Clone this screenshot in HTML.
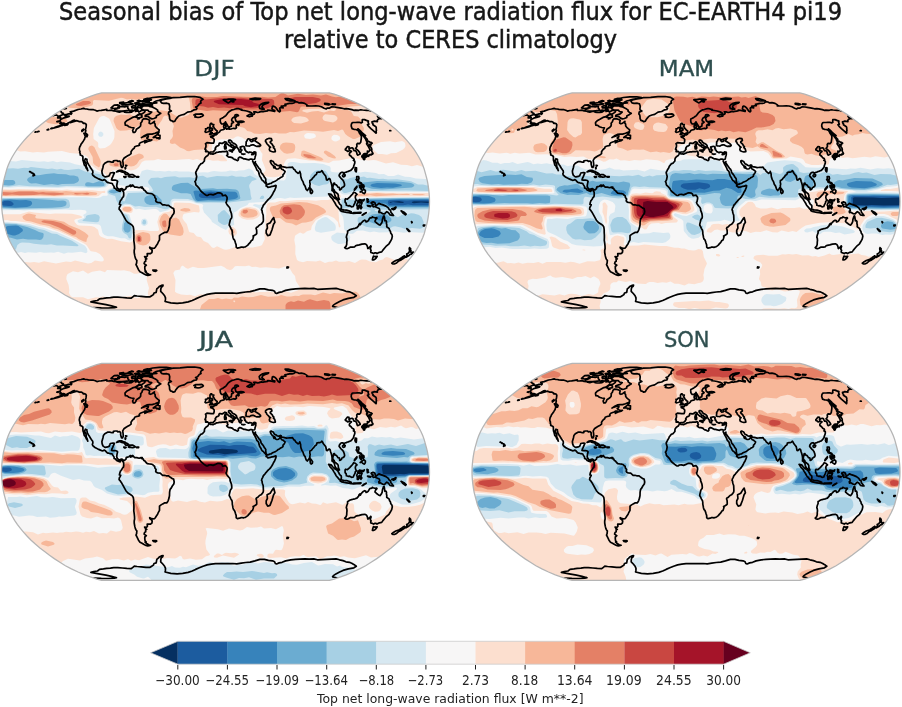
<!DOCTYPE html><html><head><meta charset="utf-8"><title>Seasonal bias of Top net long-wave radiation flux</title><style>html,body{margin:0;padding:0;background:#fff;width:902px;height:707px;overflow:hidden}svg{display:block}text{font-family:"DejaVu Sans","Liberation Sans",sans-serif}</style></head><body>
<svg width="902" height="707" viewBox="0 0 902 707">
<defs><path id="ol" d="M113.9 108.5 L118.7 107.2 L124.4 105.2 L130.7 102.9 L137.5 100.1 L144.1 97 L150.1 93.8 L155.6 90.4 L160.9 87 L166 83.4 L170.9 79.7 L175.6 76 L180.2 72.2 L184.4 68.3 L188.3 64.4 L191.8 60.5 L195.1 56.5 L198.2 52.5 L200.9 48.4 L203.3 44.4 L205.4 40.4 L207.2 36.3 L208.7 32.3 L209.8 28.3 L210.9 24.2 L211.9 20.2 L212.6 16.2 L213.2 12.1 L213.6 8.1 L213.9 4 L214 0 L213.9 -4 L213.6 -8.1 L213.2 -12.1 L212.6 -16.2 L211.9 -20.2 L210.9 -24.2 L209.8 -28.3 L208.7 -32.3 L207.2 -36.3 L205.4 -40.4 L203.3 -44.4 L200.9 -48.4 L198.2 -52.5 L195.1 -56.5 L191.8 -60.5 L188.3 -64.4 L184.4 -68.3 L180.2 -72.2 L175.6 -76 L170.9 -79.7 L166 -83.4 L160.9 -87 L155.6 -90.4 L150.1 -93.8 L144.1 -97 L137.5 -100.1 L130.7 -102.9 L124.4 -105.2 L118.7 -107.2 L113.9 -108.5 L-113.9 -108.5 L-118.7 -107.2 L-124.4 -105.2 L-130.7 -102.9 L-137.5 -100.1 L-144.1 -97 L-150.1 -93.8 L-155.6 -90.4 L-160.9 -87 L-166 -83.4 L-170.9 -79.7 L-175.6 -76 L-180.2 -72.2 L-184.4 -68.3 L-188.3 -64.4 L-191.8 -60.5 L-195.1 -56.5 L-198.2 -52.5 L-200.9 -48.4 L-203.3 -44.4 L-205.4 -40.4 L-207.2 -36.3 L-208.7 -32.3 L-209.8 -28.3 L-210.9 -24.2 L-211.9 -20.2 L-212.6 -16.2 L-213.2 -12.1 L-213.6 -8.1 L-213.9 -4 L-214 0 L-213.9 4 L-213.6 8.1 L-213.2 12.1 L-212.6 16.2 L-211.9 20.2 L-210.9 24.2 L-209.8 28.3 L-208.7 32.3 L-207.2 36.3 L-205.4 40.4 L-203.3 44.4 L-200.9 48.4 L-198.2 52.5 L-195.1 56.5 L-191.8 60.5 L-188.3 64.4 L-184.4 68.3 L-180.2 72.2 L-175.6 76 L-170.9 79.7 L-166 83.4 L-160.9 87 L-155.6 90.4 L-150.1 93.8 L-144.1 97 L-137.5 100.1 L-130.7 102.9 L-124.4 105.2 L-118.7 107.2 L-113.9 108.5 Z"/><path id="co" fill="none" stroke="#000" stroke-width="1.7" stroke-linejoin="round" stroke-linecap="round" d="M-150.8 -86.5 -148 -87.2 -145.3 -87.7 -144.4 -87.1 -143.7 -88.1 -144.5 -88.8 -145.3 -89.6 -141.9 -90.3 -137.5 -91.9 -134.5 -92.4 -131.9 -93 -130.6 -92.6 -128.8 -92.4 -127 -92.1 -124.4 -91.8 -122 -91.7 -120.2 -91.1 -118.6 -90.3 -116.2 -90.9 -114.3 -91 -111.1 -91.6 -108.7 -92.1 -108.7 -91 -106.7 -90.9 -104 -91.3 -101.9 -90.5 -99.5 -90.3 -98.3 -89.7 -96.2 -89.3 -93.8 -90 -91.8 -90.2 -90.9 -89.3 -89 -88.9 -86.3 -89 -83.9 -89.3 -81.2 -91 -79 -93.5 -78.3 -92.4 -78.6 -91 -77.2 -90.1 -76.5 -89.3 -73.2 -91.3 -71.2 -91.1 -70.4 -90.5 -70.8 -89.3 -74 -87.2 -76.4 -87.5 -80.1 -84.8 -83 -84 -86.1 -82.2 -88.4 -81 -90.4 -79.1 -90.5 -78.1 -90.1 -76.2 -88.3 -76 -86.6 -74.7 -84.2 -73.9 -81.6 -73.6 -82.9 -70.9 -82.2 -69 -80.6 -69 -79.8 -70.3 -79.1 -72.2 -76.1 -74.1 -75 -75.4 -74.7 -77.3 -74.9 -78.2 -73.6 -79.7 -73 -81.6 -71.8 -82.8 -69.2 -82.5 -67.2 -81.9 -65.8 -81 -66.3 -79.1 -66.3 -78.1 -65.1 -77.6 -63.4 -78.2 -61.1 -80.1 -61.3 -78.5 -60.4 -77.3 -60.3 -75.4 -59.3 -74.1 -57.8 -72.8 -56.3 -71.6 -56.6 -69.9 -58.2 -69 -60.5 -68.1 -63.4 -67.3 -65.9 -67.3 -68.6 -67 -71.2 -65.7 -74 -63.8 -72 -64.8 -68.5 -65.9 -67.1 -65.5 -67.5 -64.2 -68.8 -63.5 -68.3 -62.8 -66.7 -61.8 -65.3 -61.4 -63.6 -61.5 -64.9 -60.7 -67.8 -59.9 -70.6 -58.6 -70.6 -59.5 -68.6 -60.9 -70.2 -60.9 -71.8 -59.9 -73.3 -59.4 -75.2 -58.7 -76.3 -57.4 -76 -56.2 -77.2 -55.8 -78.9 -55.4 -80.8 -54.7 -81.3 -53.1 -82.7 -52.2 -83.5 -51.1 -84.5 -49.7 -84.4 -47.8 -85.8 -46.7 -87.8 -45.6 -89.4 -44.7 -91.6 -43.1 -92.8 -41 -92.4 -38.2 -92.2 -35.7 -93 -33.9 -93.9 -34.1 -94.4 -35.3 -94.9 -37.3 -94.8 -39 -95.9 -40.4 -97.6 -40 -98.6 -40.9 -100.3 -40.9 -102.1 -40.6 -102.1 -39.3 -103.6 -39.2 -105.7 -39.8 -108 -39.7 -110.7 -38.1 -112.1 -36.3 -112.6 -33.9 -113.6 -30.3 -113.4 -28.3 -112.6 -26 -111.2 -25 -110.1 -24.5 -107.7 -25 -106.4 -25.6 -105.5 -27.6 -105.2 -28.4 -102.5 -28.9 -101.1 -28.5 -102.1 -26.2 -102.8 -24.5 -103.6 -22.9 -104 -21.4 -102.9 -21.3 -100.5 -21.4 -98.8 -20.9 -97.9 -20.1 -98.5 -17.5 -98.8 -15.2 -98.2 -13.5 -96.5 -11.8 -94.7 -12.5 -93.5 -12.9 -92.2 -11.7 -91 -11.6 -89.5 -12.8 -89.3 -14.3 -88.1 -14.8 -86.6 -15.2 -85 -16.4 -84.2 -16.2 -84.7 -14.8 -83 -15.6 -82.7 -16.4 -82.1 -15.5 -80.8 -14.3 -78.7 -14.3 -76.3 -13.7 -74.5 -14.3 -73.2 -14.4 -74 -13.5 -72.2 -12.8 -71.7 -11.4 -70.5 -10.8 -69.4 -9.4 -68.2 -8.3 -65.9 -7.9 -64.1 -7.7 -62.9 -7.4 -61.7 -6.1 -60.9 -5.7 -60.6 -4 -59.4 -2.4 -59.8 -0.7 -59.2 0.3 -57.7 1.1 -55.3 1.3 -52.9 3.4 -51.1 3.4 -49.3 3.9 -46.9 4 -45.1 5.4 -43.3 6.7 -41.9 7.1 -41.3 10.1 -41.7 12.1 -43.2 14.1 -44.3 16.2 -45.4 17.5 -45.9 20.2 -46 23.6 -46.5 26.2 -47.2 28.3 -47.7 29.6 -48.8 31 -51.1 31 -52.8 32 -54.4 33 -56 34.3 -56 36.3 -56 38.4 -57.1 40.4 -57.9 42.4 -59.3 44.4 -60.2 45.8 -61.1 46.8 -62.8 47 -64.6 46.4 -65.8 45.8 -65.7 46.6 -64.1 47.8 -63.3 49.1 -63.6 51.1 -65 52.2 -68.3 52.3 -68.1 54.5 -69.1 55.4 -70.9 55.1 -69.8 56.9 -68.7 57.5 -69.9 57.8 -69.8 59.8 -70.9 60.5 -71.4 62.2 -69.2 63.8 -70.7 65.1 -70.7 67 -70.4 69 -69.4 70 -70.4 70.3 -68.8 71.6 -66.8 72.8 -64.9 73.3 -66.4 73.7 -67.8 74 -69.5 73.5 -71.4 72.6 -73.5 71.3 -75.5 70.3 -77 68.3 -78.2 65.7 -79.5 63.1 -78.9 61.8 -78.8 60.5 -78.6 59.1 -79.6 57.8 -80.2 56.5 -80.7 54.5 -81.3 51.1 -81.3 49.1 -80.9 47.1 -81 44.4 -81.3 41.7 -81.7 39 -81.6 36.3 -81.6 33.6 -81.8 31 -81.8 28.3 -82.2 25.6 -83.2 24 -85.1 22.6 -87.6 21.1 -89.6 18.8 -91 16.2 -92.5 13.5 -94.2 10.5 -95.5 8.7 -96.4 7.8 -96.2 6.1 -95.4 4.7 -94.8 3.4 -96.1 3 -95.7 1.1 -95.1 -0.7 -94.5 -1.3 -93.7 -2.4 -93.3 -3.4 -92.1 -4.7 -91.8 -6.1 -91.8 -8.1 -91.9 -9.4 -92.7 -10.5 -93.1 -11.6 -94.2 -12 -94.8 -11 -95.3 -10 -96.6 -10.4 -97.8 -11 -98.9 -11.4 -100 -12.9 -101.4 -13.5 -101.4 -14.8 -102.7 -16.8 -103.2 -17.9 -105 -18.2 -106.7 -18.7 -107.8 -18.8 -108.9 -19.6 -110 -21 -111 -21.8 -112.3 -21.3 -113.5 -21.1 -115.1 -21.8 -116.8 -22.5 -118.5 -23.3 -120.1 -24.1 -121.7 -25.4 -122.7 -26.2 -123.2 -27.6 -122.6 -28.9 -122.8 -30.6 -123.6 -31.6 -124.5 -33 -125.4 -34.3 -126.1 -35.7 -127 -37 -127.4 -37.7 -128.2 -39 -128.5 -41 -128.6 -42.1 -130.1 -42.7 -130.8 -41 -130.5 -39.7 -129.8 -38.4 -129.3 -37 -129.3 -35 -128.3 -33 -127.8 -31 -127.7 -30.8 -128.4 -32.3 -129.1 -33 -129.6 -34.3 -130.3 -35.7 -131.2 -36.3 -131.5 -37.7 -132 -39.7 -132.5 -41 -132.6 -42.4 -132.6 -43.9 -132.6 -44.8 -133.2 -45.5 -133.9 -45.9 -135.3 -46.4 -135.2 -47.5 -135.8 -48.9 -135.5 -49.7 -135.8 -50.5 -136.1 -51.1 -136.2 -52.5 -135.9 -53.8 -135.8 -54.5 -134.9 -55.8 -134.5 -57.1 -133.5 -58.5 -132.1 -60.5 -130.9 -62.4 -130.6 -63.8 -130.1 -64.9 -128.5 -64.7 -127.9 -66.4 -128.7 -67.4 -130.1 -68.3 -130 -69.6 -129.7 -70.9 -130.1 -72.2 -129.6 -73.5 -129.4 -74.7 -129.2 -76.6 -130 -77.9 -131.1 -78.2 -132.3 -78 -132.9 -79.2 -133.9 -79.7 -136.2 -79.7 -137.5 -80.3 -138.5 -80.7 -140.3 -80.3 -142.1 -79.6 -143.6 -79.1 -145.2 -78.7 -143.2 -80.3 -140.8 -81.2 -142.5 -81 -144.8 -79.7 -146.8 -78.7 -148.3 -77.9 -150.8 -76.9 -153 -76 -154.9 -75.4 -157.3 -74.5 -159.4 -73.9 -161.3 -73.5 -163.8 -73 -161.5 -73.7 -159.1 -74.6 -156.2 -75.5 -153.5 -76.6 -150.9 -78.1 -152.2 -78.2 -154.2 -78.1 -155.6 -78 -154.5 -79.1 -155.4 -79.6 -155.9 -80.3 -155 -81.3 -155 -81.8 -152.9 -82.8 -151.4 -83.6 -149.3 -84 -146.9 -84.6 -146.2 -85.2 -148 -85.2 -150.3 -85.2 -150.5 -85.7 -150.8 -86.5M-55.3 -100.5 -53.6 -101.5 -49.1 -102.4 -45.6 -103 -42.9 -103.7 -35.4 -104.1 -28 -104.7 -20.9 -104.9 -15.6 -104.1 -14.4 -103.3 -12.5 -102.2 -14.3 -101 -15 -99.6 -14.5 -98.5 -16.3 -97.5 -16.9 -96.5 -18 -95.2 -19.9 -94.3 -18.5 -93.2 -19.2 -91.9 -21.4 -91.6 -24.3 -89.9 -28 -89.3 -31.3 -87 -34.1 -86.4 -36.7 -85.4 -38.1 -84 -39.6 -82.2 -40.6 -80.3 -42.3 -79.7 -43.4 -80.5 -45.1 -81 -45.9 -82.8 -46 -84.8 -46.3 -86.4 -47.1 -87.5 -46.8 -89.3 -44.1 -90.4 -45.8 -91.3 -46.1 -92.4 -45.9 -93.8 -45.8 -95.4 -46.5 -97.5 -48.7 -98.2 -52 -98 -54 -98.5 -54.7 -99.6 -55.3 -100.5M-54.8 -88 -56.9 -86.7 -59.2 -85.3 -59.2 -83.9 -61.6 -82.9 -63.6 -82.5 -65.5 -83.3 -67.3 -84.9 -70.4 -85.1 -70.2 -86.1 -65.8 -87.5 -63.8 -89.3 -66.5 -89.9 -67.7 -91.3 -71.9 -91.3 -73.5 -92.1 -74.7 -93.2 -72.3 -95.4 -69.3 -95.6 -65.3 -95.5 -63.2 -94.5 -61.2 -93.3 -59.3 -92.3 -57.8 -91.3 -58 -90.2 -56 -88.5 -54.8 -88M-58.7 -98.5 -61.7 -99.1 -59.3 -100.4 -56.7 -101 -53.2 -102 -48.8 -102.7 -44.3 -103.7 -49.2 -104.5 -56.2 -104.5 -62.7 -103.9 -66.8 -102.9 -65.7 -102 -70.8 -101.5 -69.7 -100.5 -68 -100.1 -66.2 -99.6 -68.8 -98.5 -65.1 -98.3 -61.2 -98.3 -58.7 -98.5M-64.1 -101.5 -69.3 -100.3 -72 -100.5 -71.6 -102 -68.1 -103 -65.4 -102.9 -64.1 -101.5M-64.5 -96.5 -69.3 -96.5 -73.6 -97 -73.3 -98 -69.6 -98.5 -64.1 -98.5 -63.1 -98 -63 -97.2 -64.5 -96.5M-86.8 -91 -90.6 -90.6 -93.5 -90.3 -97.7 -90.4 -100.9 -90.6 -100.6 -92.1 -97.3 -92.9 -97.7 -94.3 -93.6 -95.1 -90.8 -94.6 -87.7 -95.2 -87.7 -93.2 -86.6 -92.1 -86.8 -91M-96.1 -93.5 -101.5 -92.9 -104.5 -93.5 -101.3 -96.2 -97.5 -96.5 -96.1 -95.4 -96.1 -93.5M-82.6 -97.5 -86.7 -96.8 -91.1 -96.5 -93.6 -97 -91 -98.3 -86.4 -98.9 -83.6 -98 -82.6 -97.5M-80.4 -93.8 -83.6 -93.5 -83.9 -94.9 -81.7 -95.8 -79.5 -95.6 -80.4 -93.8M-75.3 -94 -77.9 -93.8 -77.7 -95.4 -74.7 -95.9 -73.3 -95.7 -75.3 -94M-77.1 -97.5 -80.1 -97.3 -80.8 -98.3 -77.1 -98.9 -75.8 -98.2 -77.1 -97.5M-73.6 -84.3 -77.4 -83.4 -79.6 -84.3 -77.3 -86.4 -75.1 -87 -73.6 -85.8 -73.6 -84.3M-83.2 -90.2 -85.5 -90 -85 -91.1 -83 -91.4 -83.2 -90.2M-20.1 -84.6 -20.2 -86.4 -21.6 -86.4 -19.6 -87.4 -16.5 -87.2 -14.2 -87.5 -13 -87 -12.2 -86 -13.2 -85.1 -15.5 -84.3 -17.4 -83.9 -19.2 -84.3 -20.7 -84.5 -20.1 -84.6M-5.9 -67 -3.6 -67.4 -1 -67.9 1.3 -68.5 1.7 -70.5 0.3 -71.3 -0.3 -72.2 -1.2 -73 -1.6 -74.2 -2.5 -75 -1.9 -76.2 -1.7 -76.8 -3.4 -76.9 -3.8 -78 -4.8 -78 -5.5 -77 -5.5 -75.4 -5.4 -74.1 -4.8 -73.2 -3.4 -73.3 -3 -72.2 -3 -71.3 -4.5 -71.3 -4.2 -70.7 -5 -69.2 -3.3 -68.9 -5.1 -68.3 -5.9 -67M-6.1 -69.9 -6.2 -71.6 -5.8 -73 -6.4 -73.7 -7.9 -73.7 -8.5 -72.8 -10 -72.5 -9.7 -71.4 -10.5 -69.6 -9.7 -69.1 -8.1 -69.4 -6.4 -69.9 -6.1 -69.9M7.8 -101.6 9.9 -100.1 12.9 -98.5 14.6 -99.6 15.9 -100.7 20 -101.8 17.6 -102.4 13.2 -102.2 11.1 -101.8 8.5 -101.8 7.8 -101.6M44.2 -93 43.7 -95.4 45.2 -97 47.2 -98.2 49.8 -98.9 53.2 -99.1 52 -98.1 49.1 -97.1 47.3 -96.2 46.4 -94.3 48.7 -92.3 46.7 -92.1 44.2 -93M70.8 -101.5 74.5 -100.4 79.5 -100.5 76.7 -101.5 72.6 -102.9 69.6 -102.7 70.8 -101.5M109.3 -97.2 112.9 -96.5 114.5 -97 112.3 -97.8 109.2 -98 109.3 -97.2M116.5 -97 119.6 -96.8 119.9 -97.3 116.6 -97.6 116.5 -97M-151.9 -92.7 -150.4 -92.6 -149.2 -93 -150 -93.3 -150.9 -93.2M-6.3 -48.4 -7 -49.3 -8.2 -50.1 -9.9 -49.8 -9.7 -51.8 -10.5 -52.2 -10.2 -53.1 -9.6 -54.5 -9.5 -56.5 -10 -57.8 -8.6 -58.7 -6.4 -58.6 -4.3 -58.3 -1.9 -58.3 -1.4 -59.8 -1.3 -61.8 -2.3 -63.1 -3.1 -63.8 -4.7 -64.3 -4.9 -65.1 -3.1 -65.5 -1.7 -65.3 -1.4 -66.5 0.2 -66.4 1.6 -67.3 1.6 -68.2 3.1 -68.7 4.1 -69.5 4.8 -70.8 6 -71.4 7.5 -71.7 8.7 -72.1 8.5 -73.5 8.1 -74.7 8.3 -76 9.7 -76.8 10.2 -76.2 10 -75.2 10.6 -74.7 9.7 -73.5 10.8 -72.7 11 -72.2 12.5 -72.8 14 -72.2 16 -72.6 18.4 -73.2 19.5 -72.7 21 -73.7 20.6 -75.4 20.9 -76.4 21.8 -76.9 22.9 -76.1 23.6 -76.6 23.4 -77.7 22.6 -78.1 22.5 -78.9 23.8 -79.1 26.7 -79.1 28.5 -79.6 27.5 -80 25.5 -80.3 23.7 -80.1 21.7 -79.6 20.2 -80.7 20.1 -81.6 19.6 -83.1 20.2 -84 21.7 -85.4 22.9 -85.8 22.4 -86.5 21 -86.7 19.7 -86.5 19.3 -85.5 18.7 -84.3 17.5 -83.7 16.7 -82.9 16.2 -81.8 16.2 -80.7 17.5 -80 18.1 -79.2 17.3 -78.5 16.1 -78.1 16 -76.6 15.7 -75 14.5 -74.9 14 -74 12.8 -74 12.5 -75.1 11.6 -76.6 10.9 -77.9 10.4 -78.7 10 -79.6 9.6 -78.6 7.7 -77.4 6.3 -77.4 5.4 -78.2 4.9 -79.2 4.7 -81 4.8 -82.4 6.3 -83.1 7.8 -84 9.1 -84.9 10.4 -85.8 11.4 -87.2 12.3 -88.5 13.5 -89.6 15.1 -90.6 16.7 -91.6 18.3 -91.9 19.9 -92.4 21.5 -92.8 23.2 -92.7 24.6 -92.3 26.4 -91.9 25.7 -91.3 28.4 -90.9 31.1 -90.4 34 -89.5 36.1 -88.6 36.6 -87.5 35.7 -87.1 34 -87 31.5 -85.5 33.8 -84.6 35.8 -85.3 36.8 -85.2 37.1 -86.8 38.7 -87.3 39.1 -88.1 38.2 -89.5 40.1 -89.5 42.1 -88.9 43.7 -89.3 46 -90 47.5 -89.6 48.6 -90 50.6 -90.3 51.9 -90.4 52.2 -91.3 54.6 -91 57 -90.4 59.1 -89.9 59.3 -90.8 57.2 -91.6 56.4 -92.7 56.7 -93.8 56.8 -94.9 57.7 -95.3 59.4 -94.6 60.8 -93.2 62.7 -90.4 64.2 -89.5 64.8 -90.4 64.2 -93.2 65.2 -94.1 67.7 -93.5 65.8 -95.4 67.8 -95.5 70.4 -95.7 69.5 -97.1 71.5 -97.5 74 -98.1 76.5 -98 78.4 -98.4 79.8 -99.8 81.9 -99.4 83.7 -98.5 85.9 -98.7 89.1 -98 91.5 -96.5 91.3 -95.6 93.1 -95.5 96.5 -95.4 100.3 -95.6 103 -95.4 106 -94.6 108.6 -93.2 110.8 -92.4 111.6 -93.2 114 -93.3 115.4 -94.1 115.9 -94.6 119.1 -94.4 121.3 -94.1 125.7 -93.3 128.5 -92.6 130.8 -92.7 132.7 -92.6 136.4 -91.8 138.2 -91.1 139.8 -91.2 143.3 -91.1 145.2 -91.6 147.1 -91.4 151.1 -91.1 153.6 -90.9 155.8 -90.3M-155.8 -90.3 -154.2 -89.6 -153.9 -88.7 -152.2 -88 -151.7 -87 -153.6 -86.4 -156.6 -85.2 -157.4 -84.9 -158.1 -85.8 -159 -86.4 -160.5 -86.3 -162.6 -85.8M162.6 -85.8 161.9 -85.3 162.8 -84 166.1 -82.8 164 -82.8 162.4 -81.9 161.8 -81 161.9 -79.7 158.8 -80.3 157.6 -79.7 156.5 -79.5 156.7 -78.5 157.6 -77.3 157.4 -76.6 160.4 -74.7 160.8 -73.5 160.7 -72.2 161 -71.2 160.6 -70.3 160.8 -69 160.5 -68.3 158.3 -70.3 155.4 -72.8 153.4 -74.7 152 -76.6 152.6 -77 153.3 -77.3 152.6 -79.1 152.9 -80.3 150.9 -81 149 -81.8 146.8 -81.7 146.7 -80.1 146.9 -79.1 145.7 -78.5 143.6 -79.1 141.8 -79 140 -78.9 137.6 -78.9 136.6 -78.5 135.9 -77.3 135.7 -75.4 136.6 -72.8 138.9 -71.9 140.4 -71.9 142.6 -70.9 143.4 -69.6 143.9 -68.3 145.3 -66.4 145.9 -65.1 145.8 -63.1 145.5 -61.1 145.2 -59.1 144 -57.7 142.1 -58.1 141.5 -57.3 141.2 -56.9 141.5 -55.1 141.3 -54.9 140.8 -53.8 140 -53.1 141.5 -51.8 143 -50.5 144.5 -48.4 144.7 -47.4 144 -47.1 143.1 -46.7 142.1 -46.3 141.6 -47.1 141.3 -48.4 140.8 -49.8 139.8 -50.7 138.7 -50.7 138 -51.8 137.5 -53.1 136.6 -53.5 135 -53.4 134.1 -52.5 133.6 -52.2 133.5 -53.1 133.5 -54.5 132 -54.9 131 -53.7 130.4 -52.7 129.8 -52.2 129.9 -51.5 131.2 -50.9 132.1 -50.1 133.1 -50.3 134 -50.9 136 -50.2 135.5 -49.5 134.4 -48.7 133.8 -47.4 133.9 -46.4 135.6 -45.1 136.7 -43.7 138.2 -42.8 138.7 -41.6 137.9 -41 139.3 -40.1 139.3 -38.4 138.8 -37 138.3 -35.7 138.1 -34.3 137.2 -33.1 136.3 -32 135.3 -31 134.2 -30.6 132.8 -30 132 -29.9 131 -29.3 129.3 -28.9 128.7 -28.3 128.6 -27.3 128 -28.3 127.6 -29.1 126.3 -29.1 125.2 -28.7 124.5 -27.7 123.8 -26.6 123.6 -25.6 124.4 -24.5 125.5 -23.1 126.9 -21.8 127.9 -20.5 128.8 -18.2 129.1 -16.2 128.6 -15.1 127.2 -14.1 126.4 -13.9 126.1 -12.8 125 -11.7 124.2 -11.6 124 -13.5 123.6 -14 122.4 -14.3 121.7 -15.5 121 -16.4 119.8 -17 119.1 -17.1 119 -18.2 118.1 -18 117.9 -16.8 117.3 -14.1 117.5 -12.5 118.8 -11.3 119.3 -9.4 120.2 -9.2 121.3 -8.3 122.3 -7.4 122.8 -6.1 122.8 -4.6 123.3 -3.4 123.9 -2 123 -1.7 121.8 -2.7 120.4 -3.9 119.7 -5.1 119.2 -6.7 118.9 -8.5 118.3 -9.2 117.2 -10.6 116.5 -11 116.6 -12.8 116.6 -14.1 116.3 -16.2 115.8 -18.2 115.1 -20.2 114.6 -22.2 113.7 -22.9 112.7 -22.2 112 -21.3 111 -21.5 110.6 -23.6 110.2 -25.3 109.3 -26.4 108.3 -27.6 107.5 -28.9 106.9 -30.1 106.3 -30.7 105.3 -29.6 104.2 -29.3 103 -29.3 101.3 -28.9 101.3 -28 100.8 -26.9 99.4 -26 98.4 -24.6 96.8 -22.9 96.5 -22.2 95.5 -21.4 94.4 -20.9 94.3 -18.8 94.7 -17.5 94.3 -15.5 94.5 -13.9 93.7 -13.9 93.4 -12.8 92.6 -12 91.8 -10.9 90.7 -12 90.2 -13.5 89.5 -15.5 88.3 -17.2 87.6 -19.5 86.4 -21.5 85.6 -23.6 85.2 -25.6 85.1 -27.6 84.6 -28.7 84.3 -30 83.9 -28.9 82.6 -28 80.2 -30.1 79.4 -31.6 78.3 -32.2 77.8 -33 77 -34.2 75.7 -34.1 74 -34.1 72.3 -33.9 71.1 -33.8 69.3 -34.2 67.9 -34.5 66.2 -34.7 65.7 -36.1 64.9 -36.5 63.9 -35.9 62.8 -35.8 61.6 -36.2 60.3 -37.1 59.1 -37.5 58.3 -38.8 57.4 -40.1 56.5 -40.4 55.7 -40.9 54.8 -40.4 54.9 -39.4 55.8 -37.7 56.7 -36.6 57.8 -35.7 58 -34.7 58.5 -33.6 58.9 -35 59.1 -35.1 59.7 -34.1 59.7 -33.1 60.8 -32.6 62 -32.4 63.1 -32.7 64.2 -33.9 64.7 -35.1 65 -35.4 65.1 -34.3 65.3 -33.4 66.3 -32.2 67.5 -31.8 68.3 -31 69.3 -30.3 69.6 -29.9 69.1 -28.8 68.4 -27.6 67.5 -26.8 67.5 -25.4 66.4 -24.5 65.6 -24.1 64.8 -23.7 64 -22.9 62.8 -22.5 61.4 -21.3 60.2 -20.5 58.9 -19.9 57.7 -19.4 56.6 -18.8 55.4 -17.9 54.3 -17.9 53.1 -17.2 51.9 -17 51.3 -17.1 51 -17.9 50.5 -19.5 50.2 -20.9 50.3 -22.2 49.6 -23.6 48.9 -24.2 48.2 -25.6 47.4 -26.8 46.4 -28 45.5 -29.2 45.3 -30.6 44.7 -31.9 43.5 -33 43 -33.9 42.1 -35.1 41.2 -36.3 40.4 -37.7 39.7 -38.1 39.9 -39.7 39.4 -38.8 39.3 -37.4 38.5 -38.1 37.2 -40.2M36.7 -42 38.1 -41.9 38.9 -42.1 39.2 -42.5 39.5 -43.7 39.6 -44.5 40 -45.6 40.3 -46.6 40.2 -47.8 40.4 -48.4 40.1 -49.4 39.5 -49.3 38.6 -49.5 37.9 -48.9 36.6 -48.6 35.6 -49.1 34.1 -49.4 33.1 -48.7 31.7 -49.5 30.6 -49.8 30.2 -51 29.2 -51.7 29.5 -52.5 28.8 -53.1 29.1 -54.3 28.6 -54.6 28.4 -54.9 27.3 -55 26.2 -54.9 25.2 -54.2 24.7 -54.5 24.8 -53.5 25.3 -52.5 25.3 -51.7 26.5 -51.4 25.7 -51 25.6 -50.3 25.4 -49.1 24.9 -49.1 24.1 -49.5 23.4 -50.9 23.6 -51.5 22.9 -52.2 22.2 -53.3 21.3 -54.5 21.1 -55.8 20.6 -56.5 20 -57.1 18.9 -57.8 17.6 -58.5 16.6 -59.1 16.1 -60.2 15.2 -60.9 14.5 -61.3 13.9 -61.4 13.1 -60.9 13.1 -59.8 13.6 -59.1 14.6 -58.5 15.1 -57.4 16.4 -56.3 17.5 -56.3 17.5 -55.7 18.8 -55 20.2 -54.1 20.1 -53.5 18.7 -54.5 18.1 -53.3 18.8 -52.5 18.3 -51.7 17.8 -51.1 17.4 -51 17.3 -51.8 17.8 -52.7 17.3 -53.7 17.1 -53.9 16.3 -54.2 15.6 -54.6 14.9 -55.4 13.7 -55.8 12.7 -56.7 12 -57.3 11.3 -57.8 11.1 -58.9 10.4 -59.3 9.4 -59.7 8.6 -59 7.9 -58.7 7.1 -58.1 5.9 -58.1 4.9 -58.3 3.8 -58.2 3.4 -57.1 3.5 -56.3 2.4 -55.5 1 -55.1 0.2 -53.9 -0.3 -53.1 0.1 -52.2 -0.7 -51.4 -0.9 -50.6 -1.7 -50.3 -2.3 -49.4 -3.9 -49.4 -4.9 -49.4 -5.8 -48.9 -6.3 -48.4M30.4 -55.9 30.7 -58.5 30.6 -59.5 31.5 -60.7 32.1 -62.1 32.7 -62.6 33.8 -62.4 35.5 -61.7 34.5 -61 35.8 -59.8 36.8 -59.9 37.8 -60.6 37 -62.1 38.5 -62.7 40.2 -63.2 41.2 -63.4 40.4 -62.2 40 -61.8 39.8 -61 39.4 -60.7 40 -60.1 40.8 -59.7 42.4 -58.7 43.7 -57.8 45 -56.5 45.2 -55.9 44.1 -55.1 43 -55.3 41.4 -55 40.3 -55.4 39.2 -55.9 38.2 -56.5 36.9 -56.5 35.8 -56.3 34.8 -55.8 34 -55.3 32.6 -55.4 31.6 -55.4 30.4 -55.9M50 -59.9 50.1 -61.3 51.7 -62.4 53.7 -63.1 55.9 -62.8 56.4 -60.9 54.8 -59.8 54.7 -59.1 56.8 -57.1 57.3 -55.8 58.4 -54.7 57.9 -53.8 59.2 -52.5 59.8 -50.5 59.8 -49.7 57.9 -49.4 56.1 -49.9 54.3 -50.6 53.8 -52.1 54.2 -53.1 54.2 -54.1 55.1 -54.2 54 -54.7 53 -56.1 51.6 -57.4 51.1 -58.1 50.9 -59.1 50 -59.9M37.2 -40.2 38.5 -37.3 39.2 -36.2 39.9 -34.9 40.9 -32.7 41.3 -31.6 42.7 -30.3 43.3 -28.9 43.5 -27.6 44.2 -25.3 45.2 -24 46 -22.2 46.8 -21 47.6 -20.6 48.5 -19.6 49.5 -18.6 50.4 -17.4 51.1 -16.6 50.6 -15.5 51.4 -15.1 52.4 -14 53.6 -14.3 55 -14.5 56.7 -15.1 58.3 -15.2 59.7 -16 60.6 -15.9 60.4 -14.1 60 -13.1 59.2 -11.2 58.3 -9.7 57.3 -7.7 56.4 -6.2 55.2 -4.3 54.1 -3 52.9 -2 51.7 -0.7 50.5 0.7 49.4 2.2 48.6 3 47.8 4 47.1 5.7 46.4 7 46 8.5 46.6 9.4 46.7 10.8 47.1 12.1 47.7 13.9 47.8 16.2 47.9 18.6 47.7 20.2 46.6 21.8 45.5 22.9 44 23.6 42.4 25.3 40.9 26.2 40.5 26.9 41.1 28.7 41.2 30.3 41.2 32.3 40.3 33.2 38.7 34.1 37.6 34.7 38 35.3 37.5 37 37 38.5 35.9 39 35.3 40.1 34.3 41.5 33.3 42.5 32.3 43.7 31 44.7 29.9 45.4 28.9 45.6 27.9 46 26.5 45.6 25.3 45.8 24.2 46.3 23 46.4 22.1 46.8 21.1 46.2 20.7 45.8 20.7 44.4 20.6 43.3 20 41.7 19.4 39.7 18.9 38.5 18.1 37.7 17.5 36.1 17.2 34.3 16.8 32.3 16.8 30.7 16.5 28.9 15.5 27.2 14.6 25.3 13.7 23.6 13.9 22.2 14.4 20.2 14.7 18.8 15.1 17.9 16.1 16.6 16.3 15.5 16.2 14.1 15.9 12.1 15.3 10.5 14.6 8.7 14.6 7.4 14 6.1 13.1 5.1 11.9 3.8 11.1 2.4 10.5 1.1 11.1 0 11.3 -1.3 11.6 -2.7 11.6 -4 10.9 -5.2 10.1 -6.2 8.9 -6.1 7.7 -5.8 7 -5.8 6.5 -7.4 5.3 -8.3 3.6 -8.6 2.4 -8.5 1.2 -8.1 0 -7.5 -1.2 -7 -2.4 -6.5 -3.3 -6.7 -4.7 -7 -6.5 -6.9 -7.7 -6.1 -8.9 -5.9 -10.1 -6.6 -11.3 -7.5 -12.5 -8.5 -13.6 -9.4 -14.8 -10.5 -15.6 -11.8 -16.2 -12.9 -17.4 -14.3 -18.3 -15.2 -19.1 -15.9 -19.7 -16.7 -19.8 -17.8 -20 -18.8 -20.6 -19.8 -20.1 -20.2 -19.4 -21.8 -19.2 -22.9 -18.8 -24.9 -19.2 -26.4 -19.6 -27.6 -19.8 -28.9 -18.9 -30.7 -18.3 -32 -17.2 -33.6 -16.7 -35.1 -15.7 -36.3 -14.8 -37.5 -13.2 -38.1 -12 -39.4 -11.1 -40.4 -11.1 -41.7 -10.8 -43.1 -9.6 -44.7 -7.8 -45.8 -7.1 -47.1 -6.6 -48.2 -5.9 -48.3 -5 -47.4 -3.4 -47.5 -2.5 -47.2 -1.1 -47.9 0 -48.3 1.1 -49.1 2.8 -49.3 3.9 -49.5 5.6 -49.5 7 -49.9 8.3 -49.8 9.5 -49.7 10.7 -50.2 11.4 -50.1 12.1 -49.1 11.8 -48.3 12.4 -47.4 12.1 -46.8 11.2 -46 11.8 -45.4 12.6 -44.7 13.6 -44.3 14.7 -44.3 15.8 -44 17.2 -43.5 17.6 -42.8 18.8 -42 20.2 -41.7 21.1 -41.2 22.2 -40.8 22.9 -41.7 22.7 -42.9 23.2 -43.7 24.3 -44.3 25.4 -44.1 26.3 -43.5 27.2 -43.1 28.4 -42.5 29.5 -42.5 31.3 -42.1 32.4 -41.7 33.6 -41.6 34.6 -42.3 35.8 -42.4 36.7 -42M58.2 16.2 59.4 20.9 58.1 22.9 56.5 28.3 54.5 33.5 52.2 34.3 50.7 31.6 50.7 28.9 51.9 26.6 51.6 22.9 54.7 21.3 56.6 18.2 58.2 16.2M94.9 -13.2 95.9 -11.8 97.1 -10.1 96.8 -8.7 95.6 -7.9 94.9 -8.7 94.6 -10.8 94.7 -12.5 94.9 -13.2M147.4 -45.6 148.9 -46.2 150 -46.3 150.9 -46.7 151.8 -46.4 152.1 -45.6 153.1 -45.1 153.5 -46 153.6 -46.7 154.4 -46.6 155.1 -46.6 155.8 -46.6 155.6 -47.2 155.9 -47.4 156.7 -47.1 157 -47.2 157.5 -48 156.6 -49.5 156.1 -50.9 155.8 -51.5 156.3 -51.8 156 -53.1 155.1 -54.5 153.9 -55.7 153.3 -55.4 152.8 -55.4 153 -54.5 153.8 -53.1 154.3 -51.8 154.3 -51.1 153.8 -50.6 153.5 -49.9 152.7 -49.5 152 -50.2 151.8 -50.3 152.1 -49.4 151.8 -48.4 151.5 -47.9 150.4 -47.9 149.3 -47.8 148.4 -47.6 147.6 -46.6 147.1 -46.2 147.4 -45.6M146.4 -44.7 146.4 -45.5 147.4 -45.6 148.4 -44.8 149.1 -43.7 149.3 -42.3 148.7 -41.7 148 -42.1 147.5 -43.7 146.8 -44 146.4 -44.7M149.5 -44.8 150.3 -44.1 151.4 -44.8 151.7 -45.5 151.2 -46 150 -46.2 149.4 -45.6 149.5 -44.8M152.2 -55.8 153.2 -56.2 153.6 -57 155.4 -56.5 155.8 -57.8 156.6 -58.2 155.6 -59.1 154.3 -59.3 151.6 -60.9 150.5 -61 151.7 -59.1 152.1 -58.2 151.1 -58.2 151.2 -57.3 152.2 -55.8M150.4 -61.8 151.8 -62.1 150 -63.8 148.6 -66 150.1 -65.7 146.2 -69 145.1 -70.3 143.5 -71.8 142.4 -72.6 143.1 -71.6 143.1 -70.9 144.8 -69 147.1 -66.4 149 -63.8 150.4 -61.8M139.9 -33.8 141 -33.6 141 -31.6 140.7 -29.6 139.9 -30.3 139.4 -31.6 139.7 -33.1 139.9 -33.8M127.1 -26 128.4 -27.1 129.7 -26.4 129.3 -25.2 128.3 -24.5 127.3 -24.9 127 -25.8 127.1 -26M141.2 -24.9 143.1 -24.9 143.5 -22.9 142.9 -21.5 143.1 -20.2 143.8 -18.8 144.3 -19.1 145.6 -18.6 146.4 -17.5 146.1 -17.1 145.1 -17.8 144.5 -18.2 143.6 -18.6 142.1 -19.2 141.9 -20.2 140.7 -21.9 141.4 -22.2 141.2 -24.9M144.7 -9.4 146.4 -10.4 146.9 -11.2 148.6 -12.1 149.9 -10.8 149.8 -9.2 148.9 -7.8 147.1 -8.6 145.8 -10.1 144.7 -9.4M146.7 -16.8 148.2 -16.4 148.6 -14.8 147.9 -13.5 147.1 -14.5 146.7 -16.8M144 -16 145.4 -15.5 144.9 -14.3 144.2 -14.1 144 -16M144.8 -14.1 145.7 -14.7 146.2 -13.5 145.7 -12.2 144.9 -13.2 144.8 -14.1M138.9 -11.3 140.3 -12.8 141.4 -14.1 141.4 -15.2 140.5 -14.1 139.1 -12.4 138.9 -11.3M113.1 -7.5 115.7 -7 117 -5.4 118.8 -3.4 120.6 -2.4 122.4 -0.7 123.4 1.1 124.2 2.7 125.7 4 125.9 5.4 125.6 7.8 124 7.8 122.3 5.7 120.6 3.8 119.5 1.6 118.3 -0.3 117.1 -2.4 115.8 -3.8 114.6 -5.1 113.1 -7.5M124.8 9.2 125.8 7.9 128.1 8.5 131.1 8.7 133.4 9.3 135.7 10.4 135.5 11.7 133.3 11.3 131 10.9 128.6 10.5 126.3 10 124.8 9.2M129.6 -2 130.1 -2.7 131.9 -2.2 134.2 -4.3 136 -6.2 137.1 -7.4 138.2 -9.2 139.6 -8.7 141.5 -7 140.1 -5.8 139.8 -4 140.3 -2 141.3 -1.3 139.7 0 139.6 1.3 138.4 3.4 137.8 5.1 136 5.4 134.2 4.3 132.5 4.4 130.9 3.9 130.7 2 129.6 0.7 129.6 -2M141.8 7.4 142.9 7.5 143 4.7 143.8 3.6 144.3 6.1 145.4 7.4 146.3 6.1 145.3 4.4 146.6 1.3 145.6 1.2 144.1 1.6 142.9 -0.7 143.8 -1.7 146.2 -1.2 148 -1.3 148.8 -2 148 -0.5 146.8 -0.4 144.4 -0.7 143.2 1.1 142.4 0 142.1 1.3 141.2 3.6 141.8 4.7 141.8 7.4M155.7 1.3 157.5 0.5 159.3 1.2 160.4 4.4 163.4 2 165.2 2.7 167.5 3.5 170.5 4.7 172.8 6.5 173.8 8.3 175 8.7 175.4 10.8 176.5 12.1 178 14.1 176.8 14.1 174.6 13.5 173 11.4 171.3 10.2 170 11.4 169.3 12.4 167 12.2 164.7 10.8 163.5 11.2 163.3 9.8 164.3 9 163.8 7.1 160.9 5.9 159.2 5.1 157.7 5.4 156.8 3.8 158 3.2 157.1 3 155.7 1.7 155.7 1.3M146.7 13.7 148.3 12.4 150.7 11.3 149.2 12.4 147.3 13.6 146.7 13.7M136.2 11.8 138 11.3 141 11.3 145.5 11 145.1 11.8 141 11.8 138 12.1 136.2 11.8M151.5 -2.6 152.7 -2 152.2 -0.7 153.1 0.4 151.9 0.8 151.5 -2.6M152.1 4.3 155.4 4.6 155 5.2 152.6 4.8 152.1 4.3M176.3 7.4 178.7 6.7 180.5 5.7 179.8 7.4 178 8.3 176.3 7.4M132.1 29.6 132.7 29.3 133.4 28.9 134.7 28.1 136.1 27.7 137.7 27.3 139.5 26.9 141.4 26.2 143.2 24.2 143.5 22.9 144.5 21.9 144.9 23.3 145.6 21.8 146.4 20.9 147.8 19.5 149.1 18.8 150.2 19.1 150.6 20.5 151.9 20.1 152.8 19.2 153.8 17.4 154.4 16.7 155.3 16.4 156.5 16.2 156.8 15.5 157.7 15.9 158.9 16.2 160 16.4 161.2 16.2 161.5 16.7 160.4 17.8 159.6 19.5 159.5 20.2 160.5 21 161.5 21.9 162.6 22.7 163.6 23.4 164.7 23.7 165.8 22.2 166.7 20.2 166.9 18.2 167.3 16.8 168 14.8 168.5 14.4 168.9 15.9 169.2 18.2 169.4 19.4 170.3 19.1 171 20.2 170.9 21.9 171.3 23.6 171.2 25.3 172.4 26.2 173.7 27.3 174.1 28.9 175 30.1 175.2 31.6 176.5 33.4 176.8 35 176.2 37.7 174.7 40.4 173.5 42.4 171.1 44.4 169.4 46.4 167.4 48.7 166.2 50.5 163.9 50.9 161.5 52.2 160.3 51.4 159.2 51.4 158.2 52.2 156.9 51.5 155.4 51.1 155.2 50.1 155.6 48.9 154.8 47.9 155.1 46.4 155.6 45.1 155.3 44.4 154.2 45.8 152.4 47.1 152.2 46.8 152.1 45.8 151.5 44.1 150.8 43.1 149.3 42.4 146.4 42.7 143.8 43.5 141.3 44 140.1 44.4 139 45.6 137.3 45.8 135.1 45.6 132.9 46.8 131.6 47.2 130.1 47 129.2 46.2 130.5 45 131.2 43.1 131.3 40.4 131.5 39 131.3 37 130.8 35.7 131.3 33.6 132.1 31.6 132.1 29.6M158 54.7 159.6 55.3 161.7 55 160.8 56.5 159.5 57.8 158 58.5 156.9 58.6 157.2 56.9 158 54.7M194 46.3 195.2 47.4 194.4 49.5 195.5 49.1 195 50.5 195.8 51.1 197.8 50.7 195.8 52.7 194.6 52.9 193.5 54.1 190.5 55.9 190 55.5 191.8 54.1 191.4 53.5 191.2 52.7 192.7 51.8 193.8 50.5 194.1 49.1 193.7 47.5 194 46.3M188.7 54.5 189.7 55.5 188.1 56.9 185.7 58.5 183.3 59.5 181.1 61.5 178.8 62.6 177.6 62.6 176.3 61.8 177.4 60.9 180.3 59.1 183.8 57.8 186.1 56.2 187.7 55 188.7 54.5M-98.9 -29.5 -97.6 -30.6 -95.8 -31.1 -94.1 -31.1 -92.4 -30.3 -90.7 -29.9 -89.7 -29.2 -88.2 -28.4 -86.6 -27.3 -88.2 -26.8 -89.9 -26.8 -90.6 -27.9 -91.4 -28.9 -93.7 -29.5 -94.8 -30 -95.9 -30.4 -97.1 -29.9 -98.9 -29.5M-87.1 -24.9 -85 -26.8 -82.9 -26.8 -81.3 -26 -80.1 -25 -81.4 -24.6 -83.2 -24.2 -84.3 -24.5 -86.1 -24.5 -87.1 -24.9M-91.7 -24.8 -89.4 -24.5 -90 -24.1 -91.2 -24.1 -91.7 -24.8M-78.7 -24.9 -76.8 -24.8 -77 -24.2 -78.7 -24.2 -78.7 -24.9M-89.8 -36.1 -88.7 -35.8 -89.4 -35.3 -89.8 -36.1M-90.4 -33.9 -90.2 -32.6 -89.8 -33.4 -90.4 -33.9M-62.2 -63.9 -58.4 -66.8 -56.6 -69 -57.1 -69.1 -57.5 -66.4 -55.5 -66.1 -55.6 -63.8 -55.6 -62.7 -56.6 -62.6 -56.9 -63.6 -58.5 -63 -58.9 -63.9 -62.2 -63.9M-131.6 -68.1 -131 -67 -130.5 -65.6 -128.8 -64.8 -128.6 -66.1 -129.2 -67.4 -131.6 -68.1M-132.1 -72.2 -131.7 -71.6 -133.5 -69.9 -133.7 -70.9 -132.1 -72.2M-150.8 -76 -148.2 -76.6 -147.5 -77.3 -148.9 -77.3 -150.8 -76M-164.6 -72.7 -163.3 -73 -162.4 -73.3 -163.6 -73.3 -164.6 -72.7M-168.3 -71.6 -166.8 -71.8 -167 -72.2 -168.3 -71.6M-177.9 -69.6 -176.5 -70 -176.9 -70.1 -177.9 -69.6M-180.4 -69.2 -179.4 -69.5 -179.8 -69.6 -180.4 -69.2M174.3 -70.7 175.3 -70.7 174.6 -70.9 174.3 -70.7M-182.4 -25.6 -180.9 -26.2 -181.3 -27.2 -182 -27.2 -182.4 -25.6M-182.7 -28.1 -181.9 -27.9 -182.4 -27.7 -182.7 -28.1M-184.3 -29.1 -183.7 -28.9 -184.1 -28.5 -184.3 -29.1M-185.9 -29.7 -185.3 -29.9 -185.6 -29.5 -185.9 -29.7M9.2 -52.5 10.6 -52.6 10.7 -54.5 10 -55.4 8.9 -55 9.2 -52.5M9.4 -55.7 10.2 -55.9 10.2 -57.7 9.3 -57 9.4 -55.7M13.7 -50.9 14.9 -51.4 17.2 -51.5 16.8 -49.4 15.9 -49.8 13.7 -50.9M26.3 -47.5 29.5 -47.4 27.5 -47.1 26.3 -47.5M36.2 -46.8 36.9 -47.6 38.7 -48 38 -47 36.2 -46.8M-62.7 68.7 -59.3 68.6 -58.8 69.2 -59.9 70 -62 69.6 -62.7 68.7M191.4 27.2 192.9 28.3 194.3 29.9 193.5 30 191.5 27.7 191.4 27.2M207.9 23.6 209.4 23.7 208.7 24.6 207.8 24.4 207.9 23.6M196 20.2 196.7 20.9 196.3 21.5 196 20.2M185.6 9.4 188.5 10.8 190.6 12.8 189.9 13.5 187.2 11.4 185.6 9.4M15.2 -100.4 17.4 -99.4 18.4 -99.7 16.2 -100.7 15.2 -100.4M34.4 -102.4 37.1 -101.8 44.2 -102.1 45.2 -102.7 39.6 -103.3 34.4 -102.4M-121.9 106.1 -114.2 106.5 -107.2 106.6 -101.2 106.3 -99 105.8 -104 104.5 -109.5 103.3 -116.7 102 -124.6 100.4 -121.6 99.6 -118 99.1 -116 97.5 -112.1 97 -108.8 96.5 -105.1 96.2 -101.8 95.7 -97.7 95.7 -93.1 96.1 -88.7 96.5 -84.3 96.8 -82.6 95.4 -81.2 94.3 -78.4 94.6 -74.1 94.9 -69.5 95.4 -65.4 95.4 -63.8 94.3 -62.1 93.2 -61.5 91.6 -59.3 91 -59 89.3 -58.7 87.5 -57.5 86.4 -56.3 85.2 -54.1 84 -52.4 83.7 -52.8 84.9 -54.2 85.8 -54.7 87.5 -54.8 89.9 -52.7 92.1 -50.9 94.3 -50 96.5 -50.1 98.5 -50.4 100.1 -44.7 101.5 -38.4 102 -32.8 101.5 -27.3 100.5 -23.3 99.1 -19.9 97.5 -16.2 95.9 -12.4 94.3 -8.4 93 -4.2 92.3 0 91.8 4.3 91.8 8.5 91.6 12.8 91.8 17.1 91.6 21.3 91.9 25.7 91.3 30.2 90.6 34.7 90.2 39.4 89 44.4 87.5 48.9 87.5 52.9 88.4 57 88.9 59.1 89.9 59.8 91.6 61.1 92.1 63.6 91 66.6 90.4 70.1 89 75.3 87.9 80 87.5 84.6 87.3 89.4 87 93.6 87.2 98.3 87 101.9 87.9 106.5 87.7 111.2 87.4 115.9 87.2 120.6 87 124 87.9 127.5 88.7 130.4 89.9 134 90.4 136.7 91.6 137.9 92.4 139.3 93.2 140.8 94.3 138.4 95.9 132.9 97 127.5 98.5 124.1 100.1 120.4 102 117.9 103.7 117.1 104.9 120 105.6 121.9 106.1M71.6 65.5 73 65.7 72.4 66.5 71.4 66.5 71.6 65.5M-92.2 -98 -95.7 -97.8 -95.8 -98.9 -91.9 -99.4 -92.2 -98M-74.9 -96.6 -77.1 -96.8 -76 -97.4 -74.5 -97.3 -74.9 -96.6M-76.4 -100.1 -78.3 -100.4 -76.6 -101 -75.2 -100.6 -76.4 -100.1M-72.5 -100.1 -74.8 -100.1 -73.3 -100.6 -72.5 -100.1M-82.2 -100.3 -85.5 -100.1 -83.7 -100.8 -82.2 -100.3M-75.9 -82.9 -77.6 -82.4 -77 -83.4 -75.9 -82.9M-63.5 -94.6 -66.1 -95.1 -64.7 -95.7 -63 -95.3 -63.5 -94.6M-84.7 -99.6 -87.3 -99.4 -86.1 -100 -84.7 -99.6M-77.8 -90.4 -80 -89.9 -79.5 -91 -77.5 -91.3 -77.8 -90.4M-157.8 -83.6 -155.7 -83.5 -154.8 -84 -156.5 -84.2 -157.8 -83.6M-158.6 -79.7 -157.3 -79.6 -156.7 -80.3 -158.6 -79.7"/>
<clipPath id="c0"><use href="#ol" transform="translate(215.5 201.4)"/></clipPath>
<clipPath id="c1"><use href="#ol" transform="translate(686 201.4)"/></clipPath>
<clipPath id="c2"><use href="#ol" transform="translate(215.5 471.9)"/></clipPath>
<clipPath id="c3"><use href="#ol" transform="translate(686 471.9)"/></clipPath>
</defs>
<rect width="902" height="707" fill="#fff"/>
<text x="59" y="20" font-size="24.5" fill="#161616" stroke="#161616" stroke-width="0.5" textLength="783" lengthAdjust="spacingAndGlyphs">Seasonal bias of Top net long-wave radiation flux for EC-EARTH4 pi19</text>
<text x="284" y="47.9" font-size="24.5" fill="#161616" stroke="#161616" stroke-width="0.5" textLength="333" lengthAdjust="spacingAndGlyphs">relative to CERES climatology</text>
<text x="194.3" y="76.1" font-size="22" fill="#2f4f4f" stroke="#2f4f4f" stroke-width="0.35" textLength="40.3" lengthAdjust="spacingAndGlyphs">DJF</text>
<text x="658.8" y="76.1" font-size="22" fill="#2f4f4f" stroke="#2f4f4f" stroke-width="0.35" textLength="55.4" lengthAdjust="spacingAndGlyphs">MAM</text>
<text x="198.9" y="346.7" font-size="22" fill="#2f4f4f" stroke="#2f4f4f" stroke-width="0.35" textLength="34.1" lengthAdjust="spacingAndGlyphs">JJA</text>
<text x="663.9" y="346.7" font-size="22" fill="#2f4f4f" stroke="#2f4f4f" stroke-width="0.35" textLength="45.7" lengthAdjust="spacingAndGlyphs">SON</text>
<g clip-path="url(#c0)">
<use href="#ol" transform="translate(215.5 201.4)" fill="#f7f6f6"/>
<path fill="#d7e8f1" d="M99.4 131.9 101 131.4 103.2 132.9 103.4 134.9 102 136.7 100 136.8 98.7 135.9 98.1 133.9ZM21.8 159.9 39 161.7 44 161.2 48 161.9 53 161.1 57 162.2 61 161.5 70 162.6 75 164.3 91 167.3 96 170.9 101 172.8 103 174.2 108.4 179.9 109.5 182.9 108.5 184.9 106 187.2 97 188.2 67 187.3 58 187.9 18 187.1 9 187.7 0 186.9 0 161.8 5 159.9 10 161.1 16 161.5ZM290.7 161.9 294 161.9 301 163.2 315 162.9 323.3 163.9 330 166.5 330.7 167.9 330.6 170.9 332 172.1 337 172.5 345 171.5 356 171.1 360 172.5 365 171.7 376 173 379 174.2 384 174.1 388 176.1 394 175.9 398 174.6 405 176.7 410 177.1 416 178.6 431 179.4 431 192.1 365 191.5 354 192.3 350 194.3 345 194.7 342 193.9 339 191 337 189.9 332 191.7 329 195.6 327 196.4 294 198.1 290 197.6 285 198.8 281 198.1 277 198 272.6 199.9 263 202 249 202.8 247.5 204.9 240 208.3 237 211.1 234 212.4 233.4 213.9 234.2 224.9 229 226.4 226 230.1 221 227.7 212 221.9 211.2 219.9 204 212.4 202.5 207.9 203.3 204.9 201.6 203.9 196 203.3 192 201.6 188 200.8 174 200.7 172.2 201.9 171.7 206.9 170.5 208.9 168 210.3 160 212.3 158 209.9 156 209.1 153.4 208.9 145 209.9 139 208.8 136 209.3 135 209.1 131 205.6 129 205.1 125 205.1 121.3 206.9 120.6 207.9 120.5 209.9 123 212.5 128.3 213.9 129.5 214.9 133.3 226.9 132.7 237.9 132 239.4 130 240.5 128 240.1 125 238.3 121 238.2 113 236.3 108 236.2 104.4 234.9 102.5 232.9 100.8 225.9 99 224.6 78.8 222.9 77.3 220.9 78.2 219.9 83.8 217.9 84.4 216.9 83.1 214.9 86.4 212.9 86.3 210.9 85 210.3 80 209.7 71 210 66 209.6 49 210.3 30 209.9 24 210.5 19 210 0 210.2 0 197.6 86 197.3 97 198.1 100 197.4 103 195.8 107 195.8 107.9 194.9 106.8 191.9 107.6 189.9 110 188.4 115.8 186.9 115.9 185.9 114.9 184.9 115 183.4 116 181.2 118.1 178.9 120 178 124 178.2 127 176.8 131 178.2 138 177.3 139.6 175.9 141.8 170.9 147 169.5 156 171.3 160 171 165 171.5 169 170.7 172 171.4 176 171 179 171.5 189 171.4 195 172.8 204 172.2 208 172.6 211 171.5 214 171.1 221 171.8 226 171.5 230 170.4 236 171.2 239 170.5 244 170.3 249 168.4 252.2 169.9 253.2 170.9 254.4 173.9 257 175.7 265 178.2 272 179.5 275 180.9 279 180.2 284 180.4 285 179.8 286.1 177.9 286.3 172.9 287.6 167.9 287.6 163.9 288.1 162.9ZM116.1 185.9 116 186.9 120 188.4 122.8 190.9 123.1 191.9 122.5 194.9 123 195.5 124 195.5 125.9 191.9 127 191.1 145 190.8 149 190 149.4 188.9 148.8 187.9 147 187 142 186.8 136 185.7 132 185.7 128 186.3 119 185.1ZM343 197.9 359 198.4 370 197.6 431 196.9 431 231.1 422 232.7 408 232.1 404 232.8 393 231.2 388 232.2 379 232.5 374 231.5 370 232.2 363 230.4 357 230.8 353 233.7 350 233.7 345 230.4 344.1 228.9 343.7 220.9 343 216.9 340 212.5 340.2 199.9 341 198.6ZM252.6 204.9 255 204.1 259 204.7 263 204.4 264 205.9 263 210.5 262 211.4 258.5 207.9 253.8 205.9ZM322.3 217.9 325 217 327 217.3 334 223.1 335.4 224.9 335.8 226.9 335.7 228.9 335 230.6 321 232.7 316 231.4 315 230.1 314.8 227.9 316 223.4 318 220.5ZM142.4 218.9 145 218.4 146.1 218.9 147.5 220.9 147.6 223.9 145 226 143 225.8 141.1 223.9 141.1 220.9ZM262 220.9 263 222.9 262 224.8 261.1 222.9ZM0 222.2 7 222 29 224.1 39 227.1 44 228 53 231.2 57 232.1 72 238.7 85 245.7 87.1 248.9 87.4 251.9 86 253.3 81 251.8 72 252.8 68 252.6 64 253.8 58 251.7 54 252.8 51 252.4 44 252.7 40 252.1 36 252.7 28 252.2 25 252.9 21 252 18 252.7 14 252.3 7 252.8 0 251.5ZM337 232.5 344 233.2 349 234.6 350.3 236.9 349.7 239.9 347 242.7 341 244.1 338 243.9 334 242 331.8 239.9 331.1 236.9 332 235.5ZM429.7 246.9 431 246.7 431 249.2 429.1 247.9Z"/>
<path fill="#a7d0e4" d="M30.9 166.9 48 169.1 52 168.6 57 169.5 61 168.7 64 169.7 68 170 79 168.8 85 171.6 93 173.3 99 173.9 101 174.7 103 176.3 106.1 179.9 107.2 181.9 107.2 182.9 105 186.4 100 187.2 88 187.2 83 186.3 66 186.1 58 186.7 30 186.2 19 185.3 8 186.8 3 186.4 0 185.2 0 169.4 4 167.9 9 168.6 13 168.3 18 168.7 24 167.7 28 167.9ZM314.7 170.9 318 169.9 324 170.4 326 171.3 329.9 177.9 329 183.1 327 184.3 323 184.7 319 186 315 185.1 311.4 182.9 310 180.9 310 176.5 311 174.4ZM200 175.9 203 175.8 207 177.7 217 175.9 228 176.5 232 175.5 236 176.7 241 176.4 245 177.2 250 175.6 256.8 178.9 256 179.7 252 181 249.2 184.9 249.2 186.9 250.2 189.9 250.7 194.9 251.5 197.9 251.6 198.9 250.4 199.9 227 202.8 211 202.4 198 202.7 196 202.4 193 200.6 188 199 174 198.8 172 199.2 170.6 200.9 170 207.3 168 208.7 166 209.2 164 209.1 156 206.7 145 207.1 139 206 135 206.5 130 204.1 125 203.6 120 205.9 116.6 200.9 115.1 195.9 109 193.9 107.7 191.9 109 189.9 113 188.5 117 188.6 120.6 189.9 122 191.9 120.4 194.9 123 200.9 124 201.6 125 200.9 126.1 196.9 128 192.9 142 192.6 151 191.8 153 191 153 189.9 151.4 186.9 148.2 182.9 148.3 180.9 151 178.1 158 177.6 161 178.2 165 177.1 175 176.2 179 177.4 190 177.2 194 178ZM355.2 176.9 360 177.3 364 176.6 367 178 370 177.8 379 179 383 178.8 388 179.6 397 179.2 411 181.3 418 184.5 423 184.5 427 185.5 431 184.1 431 191.1 406 190.6 370 190.9 365 190.3 353 191.1 346 193 344 192.9 343 192.2 342.1 190.9 340 183.9 339.9 181.9 340.5 179.9 342 178.8 347 179.4 350 178ZM261.1 195.9 263 195.5 264 196.5 264.2 197.9 262.9 198.9 259.8 198.9 259.9 197.9ZM43 198 66 198.8 68.6 199.9 69.5 201.9 70.1 205.9 69 207.9 61 208.7 14 209.4 0 208.7 0 198.7 3 198.1ZM431 197.6 431 209.2 401 209.6 397 209.1 386 209.8 377 209.4 374.6 209.9 375.1 210.9 377 211.3 386 211.6 393.9 214.9 397 217.1 398 217.2 402 214.8 406 214.8 411 213.3 414 213.4 419 214.9 421.6 216.9 423.7 221.9 423.7 225.9 422.4 227.9 420 228.7 412 227.9 405 229.1 401 227.6 395 226.2 393 226.6 389 228.7 387 229 383 228.2 372 227.7 366 226.8 358.4 222.9 357.5 220.9 357.8 217.9 359 216.9 365 215.4 371 210.9 369.4 209.9 363 208.8 356 205.8 354 206 350 207.7 346 207.8 343 208.8 342 207.9 341.6 200.9 342 199.9 343 199.4 360 200.1 368 198.3ZM221.8 210.9 224 210.1 225 210.4 230 215.9 230 220.9 228.7 222.9 226 224.7 224 225 222 224.2 219 222.2 218 220.9 217.7 214.9ZM88 214.9 95 213.9 98.4 214.9 99.8 216.9 99.1 220.9 98 221.9 96 222.2 82.6 220.9 82.7 219.9 85.6 217.9 86 215.9ZM122.6 214.9 124 214 127.1 214.9 131.5 224.9 132.2 228.9 131.4 236.9 131 238 130 238.5 128.8 237.9 127.2 234.9 123.9 232.9 122.3 230.9 121.8 228.9 122.2 224.9 123.5 219.9ZM143.1 219.9 145 219.8 146 220.9 146.2 222.9 145 224.4 143 224.3 142.2 222.9ZM0 223.3 3 223 16 223.5 30 225.9 39 228.9 44.2 229.9 52 233.4 57 233.9 60 235.7 72 240.7 77 243.9 78.2 244.9 78.4 245.9 77 246.2 63 245.4 57 245.6 51 244.2 47 244.7 41 244.4 34 243.8 29 242.7 22 242.5 20 243.1 17.4 244.9 16 248.9 15.1 249.9 8 251 3 250.4 0.7 248.9 0.3 247.9Z"/>
<path fill="#6bacd1" d="M46.1 173.9 54 173.2 58 174 66 174.2 70 175.4 74 175.4 78 176.8 79.1 179.9 77.9 181.9 74 183.7 62 184 58 185 52 184.1 44 185 36 183.3 31 183.5 29 182.4 26.9 179.9 28 178 33 175.3 39 175.3ZM4.4 179.9 13 180 14.7 180.9 15.4 182.9 15 183.9 13 184.9 9 185.6 3 185 1.4 183.9 1 182.9 2 181.1ZM99 181.3 102 181.8 104 183.1 104.5 184.9 103.7 185.9 100 186.3 88 186.3 85.9 185.9 85 184.9 85.6 182.9 87 182.2 89 182.2 93 183.3ZM377 181 401 181.7 411 183.1 413.2 183.9 414.2 184.9 414.2 185.9 412 187.5 382 189.6 372 188.7 366 187 360 187 358 186.1 357.4 184.9 357.6 183.9 359 183ZM181 182.9 188 182.8 197.2 187.9 201 188.9 213 188.2 217 188.9 227 188.8 236 189.5 238 190.7 238.8 191.9 240.4 197.9 239.7 198.9 237.1 199.9 228 201.6 210 201.4 197 201.8 195.1 200.9 193.1 198.9 190.6 193.9 187 193.2 181 193.3 174 191.1 172.1 189.9 171.7 187.9 172.6 185.9 173.8 184.9ZM111.2 189.9 114 189.5 117.6 189.9 119.8 190.9 120.1 191.9 114 193.4 111 193.1 109 191.9 109.5 190.9ZM150.2 194.9 155 194.6 157 195.3 161.6 199.9 161.9 201.9 161.3 202.9 159 204.4 153 204.9 150 204.9 146.8 203.9 144.8 201.9 144.3 199.9 144.6 197.9 146 196.4ZM4 198.9 32 198.8 52 199.9 58 200.7 63 200.5 65.2 200.9 66.3 201.9 66.6 202.9 66.2 204.9 65 206 61.9 206.9 52 207.8 15 208.6 2 208 0 206.7 0 200.5 2 199.3ZM368.1 198.9 401 198.2 431 198.2 431 207.6 390 207.6 386 206.9 378 206.6 368 207.1 366 205.9 365.2 201.9 365.7 199.9ZM375.2 213.9 383 213.7 387 214.7 390.9 217.9 391.4 218.9 391.2 220.9 389 222.5 381 224.3 374 223.6 368 221.2 367.7 218.9 369.7 215.9 372 214.5ZM125.9 220.9 127 220.7 128.6 221.9 131 226.9 130.4 230.9 128 232.8 125 232 123.5 228.9 124 223.5ZM0.7 224.9 3 224.3 16 224.3 27 227 35 229.9 39 232 43 233 43.7 233.9 43.4 236.9 42 239.2 40 240 36 239.4 28 239.6 23 238.7 17 239.5 10 237.4 6 238.5 4 238.5 2 237.7 0 235.3 0 230.7 1 227.9 0.2 225.9Z"/>
<path fill="#3783bb" d="M395 183.4 401 184.4 401.7 184.9 401.6 185.9 393 187.7 387 187.4 381 188 373 186.9 370.6 185.9 370.6 184.9 372 184.1 377 183.1ZM193.7 190.9 196 190.4 202 191 210 190.2 225 191.5 235 191.7 237 193 238 196.8 237.1 197.9 235 199 225 200.6 208 200.1 198 200.9 196 199.9 195.5 198.9 193.5 191.9ZM399.8 198.9 431 199 431 206.4 390 206.5 388.1 205.9 386 203.7 385 203.4 378 203.3 373 204.5 368 203.8 367 201.9 367.1 200.9 369 199.9 381 200ZM3.8 199.9 10 199.6 20 200.3 26.2 199.9 31 201.1 32 202.5 32.1 203.9 30.3 205.9 27 207 15 207.7 4 207.1 2 206.5 0 204.2 0.5 201.9ZM377.4 215.9 380 215.3 384 215.6 386 216.9 386.2 217.9 385.8 218.9 384 220.2 381 220.7 378 220.2 376.2 218.9 376 217.9ZM7.7 225.9 16 225.4 18.4 225.9 22.6 228.9 22.9 230.9 19 234.1 15 235.4 13 235.5 6 233.5 3.7 231.9 3.5 229.9 5 227.3Z"/>
<path fill="#1c5c9f" d="M211 191.7 219.5 192.9 222.3 193.9 223 194.9 222.9 195.9 221 197.3 214 198.4 202 198 200 197.3 198.9 195.9 199 194.1 200 193.4ZM397.2 199.9 407 200.4 414 199.9 431 200 431 205.2 413 205.3 408 204.6 403 205.2 390 205.2 389 204.9 387.8 202.9 388 200.9 389 200.3ZM4.3 200.9 8 200.7 11 201.3 13.2 202.9 13.6 203.9 13.3 204.9 11.2 205.9 9 206.1 3 205.6 1.9 204.9 1.4 202.9 2.2 201.9Z"/>
<path fill="#053061" d="M389.6 201.9 399 201 404.1 201.9 403 202.9 400 203 393 202 390 202.9ZM411.6 201.9 414 201.3 431 201.5 431 203.2 421 202.6 414 203.2 412.5 202.9Z"/>
<path fill="#fcdfcf" d="M0 90.9 431 90.9 431 168 428 168.2 417 165.1 412 166.2 407 165.1 401 164.8 393 162.3 386 163.4 376 160.2 373 159.9 369 160.4 361 159.8 354 157.6 339 160.6 333 160.7 329 163.1 314 160.8 309 160.6 295 158.2 288 158.7 286 160 283.9 163.9 284 168.9 281.2 175.9 274 177.3 268.9 176.9 265 176.1 262.8 174.9 262.5 173.9 265.4 170.9 265.5 168.9 261.9 159.9 262.5 153.9 259.2 148.9 257 142.2 254 140.4 249 139.2 245 139.4 242 137.4 238 136.3 236 136.8 233 138.7 230 138.6 226 139.6 222 139.3 218.3 139.9 215 141.1 212.4 143.9 211.6 149.9 214 150.7 218 154.2 222.2 154.9 227 159.9 227 160.9 226 161.3 221 161.3 218 160.4 213 160.8 208 159.5 202 160.7 197 158.9 193 160 189 159.1 181 159.4 176 160.1 162 159.9 158 159 154 160.3 145 160.6 141.9 161.9 139 166.7 136 169.2 131 170.4 127 169.2 122 170.9 115 169.7 112 170.8 111.1 171.9 111.6 176.9 111 178.6 109 177.4 103 171.9 97.8 169.9 92 165.4 86.2 162.9 89 160.9 88.8 158.9 87.6 156.9 85 155.3 79 153.7 70 153 62 151.1 48 151.8 44 152.6 37 151.9 33 152.6 25 151.2 20 151.5 14 149 9 150.1 5 149.8 0 151ZM104 115.8 101 116.6 99.2 117.9 93.9 127.9 93.2 133.9 93.6 138.9 97.6 141.9 98.2 142.9 98.2 146.9 100 148.5 105 147.9 110 144.9 111.7 142.9 113.9 138.9 114.4 136.9 114.5 130.9 110 119.9 109 118.5ZM306 133.5 304.3 134.9 304.1 135.9 304.9 137.9 306 138.5 310 139 314 138.1 315.8 136.9 315.7 134.9 314 133.6 308 133.1ZM334 134.8 332.2 135.9 331.6 136.9 331.4 138.9 332 140 334 141.3 336 141.6 339.5 139.9 340.3 137.9 339.2 135.9 337 135ZM381 141.9 373.8 144.9 372.3 146.9 373 149.5 378 154.1 382 153.9 387 154.7 391 153.3 396 153.1 403 149.4 404.6 147.9 405.5 145.9 405 142.9 404 141.9 402 141.1 395 142.2 390 141.3ZM123 188.9 124 188.3 125.4 188.9 125.2 189.9 124 190.2ZM0 189.1 10 189.6 19 189 38 189.6 43 189.1 62 190 67 189.5 74 190.4 92 190.3 101 191.3 105 190.8 105.4 191.9 105 193 102 193.1 98.7 195.9 96 196.6 71 196.1 55 196.8 40 196.4 7 196.8 0 196.4ZM357.1 192.9 378 192.2 386 192.7 431 193 431 196.1 359 197.3 353 196.5 352 195.9 353.4 193.9ZM335.3 193.9 338 193.5 341.1 195.9 338.7 199.9 338.3 207.9 339.2 221.9 340.5 225.9 340 227.5 338.9 226.9 337.9 221.9 334 218.1 328 215.2 324 215.3 315.9 219.9 311.8 225.9 311 230 307 231.3 304 233.6 303 233.7 300 232.6 295.9 234.9 295 236.1 294.3 239.9 295.4 245.9 295.3 253.9 297 260.1 299 261.3 303 262.2 307 261.1 316 261.4 320 260.6 325 263.1 329 261.7 332 261.7 336 260.6 339 261.7 345 261.7 349 261 355 263 359.9 259.9 362 259.4 366 259.8 370 261.5 376 262.3 379 260.4 383 259.5 385 257.5 387 257 396 260.6 404 258.1 409 259.9 418 257.1 423 257.9 428 256.8 431 257.7 431 311.9 0 311.9 0 253.3 9 255.2 9.8 255.9 9.8 258.9 10.4 260.9 13 262.5 20 261.4 30 262.6 34 262.1 39 262.7 44 261.3 56 263.6 66 261.4 71 262 75 260.6 88 263.5 91.3 262.9 95 260.5 101 261.6 103 261.2 103.9 259.9 103.3 257.9 99.8 253.9 96 252 91 251.3 90 250.5 87 245.7 85 244.1 73.4 237.9 59 231.4 45 226.7 40 225.9 30 223 16 221 11 220.9 7 219.9 0 220.9 0 214.2 20 214.2 29 211.4 34 212.4 50 213.9 55 213.4 72 213.7 80 215.5 82.6 216.9 81.3 217.9 76 218.9 74.3 219.9 74.7 221.9 77 224.7 79 225.5 91 226 94.5 226.9 98 229.7 99.2 234.9 101 236.7 107 238.9 112 238.8 121 241.3 130 242.5 132 241.8 133.3 239.9 135 230.3 143 230.1 150 231 158 230.9 159 229.9 159 228.9 157.3 221.9 159 215.9 163 212.7 169 211.7 171 210.7 173.1 207.9 174 203.1 176 202.6 190.4 202.9 199 205.5 199.8 210.9 199 212.4 194 211.9 184 213.8 183 214.9 182.4 217.9 184 220.8 186.8 223.9 189 231.4 190 232.2 193.7 232.9 196 235.8 197 236.4 201 237.2 203.7 240.9 208.1 242.9 212 247.5 214 248 217 246.3 224 249.5 226 249.7 229 249.3 235 247 242 247.6 253 247.4 260 246.1 262 244.9 264.9 238.9 264.3 233.9 265.4 227.9 265.4 221.9 266.4 213.9 266.1 208.9 266.9 203.9 268 202.9 270 202.4 275 202.4 280 200.9 285 201.3 297 200 307 199.9 316 200.8 321.5 199.9 328 199.9 331 198.9 333.8 194.9ZM107 270 105 272.3 100 270.4 92 271.8 88 273.7 83 270.6 78 272.2 73 271.3 67.6 273.9 66.6 275.9 66.3 278.9 68.6 284.9 69.3 289.9 69 292.9 71 296.5 73 297.3 83 297.2 88 299.3 96 297.3 100 297.4 103 296.2 107 298.2 115 297.5 119 298.3 123 296.9 131 295.7 137 298.3 143 296.1 147 296.6 148.4 295.9 147.8 292.9 149 287.9 146.7 279.9 146.8 275.9 146.3 274.9 144 273.1 142 272.4 137 273.7 134 273.7 130 271.4 124 270.3 121 270.6ZM182 265.8 180.9 266.9 180 269.5 175 270.6 173.3 272.9 175.5 279.9 175 291.7 176.8 292.9 181 294.4 187 295.1 190 294.8 195 296.2 200 294.3 204 294.4 210 293.2 216 294.1 222 292 228 293.9 232 292.6 237 293 243 292.1 250 289.8 255 292.6 260 291.9 265 292.1 268 291.4 273 292.2 287 291.6 291 292.7 298 290.3 299.6 288.9 299.7 286.9 295.9 280.9 295 275.9 292.3 272.9 290 268.7 288 267 286 266.3 279 268.4 266 267.2 260 267.7 256 266.7 252 267 249 265.5 245 266.3 237 265.9 235 266.3 232 269.4 230 270 227 269.2 224 266.9 221 265.7 204 268.1 198 268 193 266.7 188 268.7 186 268 183 265.8ZM125 205.9 129 205.9 131.6 206.9 133 208.9 132.4 211.9 131 212.9 128 212.8 124 211.9 122.4 210.9 121.7 209.9 121.7 207.9 123 206.6ZM246 207.2 250 206.9 256 208.6 257.9 209.9 259.3 211.9 259.9 213.9 259.4 215.9 257 218.1 253 219.4 247 219.8 242 218.4 238.8 215.9 238.4 213.9 239.5 210.9 241.5 208.9ZM229.4 227.9 231 227 233 227.1 235.6 228.9 236.6 230.9 236.9 232.9 236.7 233.9 235 235.7 233 236.4 232 236.2 229.2 233.9 228.3 230.9Z"/>
<path fill="#f7b799" d="M0 90.9 431 90.9 431 97.2 428 97.1 423 95.7 417 96.6 411 95.7 405 97.8 400 96.7 392 97.2 387 96.2 382 97.4 376 96.7 373.8 97.9 373.2 102.9 372.3 104.9 370 106.2 367 106.4 362 105.8 351 106.5 340.7 108.9 342 110.1 346 109.6 350 110.8 351.5 111.9 353.8 115.9 358 116.6 360 118.4 360.8 119.9 361.9 124.9 363.9 127.9 363.8 129.9 360 136.7 355 138.9 353 138.9 348 136.3 345.3 133.9 343.1 129.9 342 129.6 338 130.9 334 130 323 131.8 318 131.2 304 130.6 294 132.2 290 132 286 133.6 279 133.6 275 132.7 271 133.5 266 132.9 260 133.9 254 133.6 251 131.7 247.2 130.9 245 128.4 243 127.5 238 126.6 234 127 227 126 223.6 126.9 217.4 131.9 214 137.7 209.5 141.9 208.6 145.9 207 148.5 205 149.3 194 150 189 151.3 187 151 183.9 148.9 180 147.5 175 143.6 172 144.1 169.9 142.9 170 140.3 172.1 137.9 173 135.9 172.5 130.9 173.9 125.9 171 118.9 167 116 165 115.6 163.2 116.9 162 119.9 157.7 125.9 158 129.9 159.9 135.9 159 140.1 157 141.5 146 139.8 143 140.8 141 139.9 139.9 135.9 140.7 126.9 140 125.4 139 125.5 133 129.3 126 130.6 120 130.8 118 129.8 116.3 127.9 113.5 120.9 114 117.9 116 116 121 114.4 126 115.1 130 114.2 135 117.5 139 120.8 140 121.1 140.7 118.9 140 113.9 141 112.1 145 112.6 149 111.1 154 111.7 161 110.3 169 111.5 178 117.2 180 117.7 182 117.5 188.6 114.9 190.8 111.9 190 102.9 189 98.1 188 97.2 178 97.4 174 98.3 166 98 153 99.4 148 98.4 136 99.7 131 99.1 127 99.5 123 98 121 97.8 109 100.8 94 100.1 93 100.9 93.1 103.9 92 105.6 81 108.4 69 107.7 67.7 106.9 67.4 105.9 68.4 103.9 68.1 102.9 67 102.7 58 105.5 55 104.5 51 104.2 45 105.2 39 107.6 33 106.8 28 108.6 24 107.4 14 109.1 10 108.9 3 110.3 0 109.8ZM296 116.7 293 117.8 291.2 119.9 292 121.6 294 123 301 123.4 307 121.7 308.5 120.9 308.8 119.9 307 117.9 305 117.1 300 116.2ZM309 108.9 303 109.7 302.2 110.9 303 111.6 307 112.7 312 111.5 318 111 324 112.6 330 110.5 334 111 336 109.9 335.5 108.9 334 108.6 330 109.5 324 108.6ZM325 114.3 323.1 115.9 322.4 117.9 323.3 119.9 325 121.1 333 122.5 336 121 337.5 118.9 337.2 116.9 335 115.2ZM51.5 116.9 60 117.5 63 117 66.2 118.9 67.5 120.9 66.8 121.9 62 123.8 55 124.3 48 123.1 45.1 120.9 44.9 119.9 46 118.6ZM282.9 142.9 286 142.4 292 142.9 294 143.8 294.9 144.9 295.3 146.9 294.9 149.9 294 151.9 292 153.1 287 153.7 284 153.1 280.8 149.9 279.7 147.9 280.5 144.9ZM90.2 145.9 92 145.6 94.3 146.9 100.4 159.9 100.8 161.9 100.1 165.9 99 167.6 95 165.3 93.1 162.9 92.6 156.9 88.2 148.9 88.9 146.9ZM301.7 150.9 304 150.6 319 156.4 322 157.9 323.6 159.9 321 160.7 318 160.5 309 159.3 303 157.3 301.2 155.9 300.8 154.9ZM324.4 150.9 326 150.4 330 152.6 334.8 155.9 336.1 157.9 335 158.4 333 158.2 328 156.5 324 153 323.8 151.9ZM139 153.5 141 153.9 143 155.1 143.9 156.9 143.3 157.9 139.4 159.9 136.9 163.9 134 166 131 166.6 124 164.9 122 166.3 116 167.2 111 166 109.5 164.9 109.3 163.9 110 162.4 114 160.5 119 160.1 124 161.9 128 157.7ZM3 190.5 43 190.6 62 191.4 66 191 73 191.7 87 191.6 96 192.4 97 192.9 97.3 193.9 96 195 88 195.6 77 195.6 71 194.8 54 196.1 40 195.6 6 196.1 2.7 195.9 0.4 194.9 0 194.4 0 191.2ZM376.6 192.9 386 193.8 393 193.6 399 194.2 407 193.8 408.9 193.9 410.3 194.9 397 195 376 196.3 370 195.3 366 195.9 359 196 358 195.9 357.3 194.9 359 193.9 366 193.3 370 193.7ZM413.5 193.9 422.6 193.9 425.5 194.9 420 195.3 411.9 194.9ZM299.1 201.9 307 202.5 318 205.2 324 208.8 325.9 210.9 326 211.9 325.1 212.9 316 217.5 312 220.9 306 222.4 302 222.7 296 225.4 292 223.5 286 222.5 280 218.1 274 218.3 272.8 216.9 269.8 209.9 269.9 207.9 271 206.4 276 205.4 281 203.6ZM124.9 206.9 130 207.1 131.2 207.9 131.7 209.9 131 211 129 211.8 127 211.8 124 210.9 122.9 209.9 122.7 208.9 123 207.9ZM184.6 207.9 189 208.4 190.6 209.9 190 210.9 189 211.3 186 211.7 181 211 179.9 209.9 181.3 208.9ZM243.1 208.9 247 208.3 255 209.7 257 211.3 257.8 213.9 256.3 215.9 253 217.2 248 217.8 244 217.2 241.6 215.9 240.4 213.9 241.1 210.9ZM26.3 213.9 29 213.5 36.1 214.9 35.2 216.9 35.7 217.9 37 218.5 54 219.8 64 221.8 69 224.9 79 228.9 85 232.5 87.9 234.9 88.5 235.9 86.9 238.9 86.3 241.9 84 241.5 78.5 238.9 76 237.1 72 236 58 229.2 53 227.9 49 225.9 40 224.2 31 221.5 26 220.8 23.3 218.9 22.4 216.9 22.8 215.9ZM163.4 213.9 165 213.5 166.7 213.9 171 219.1 176 217.5 179 219.6 183.1 227.9 183.7 231.9 182.7 234.9 180 235.9 170 234.4 165 232.4 163 230.8 160 224.9 159.3 220.9 161 216.5ZM230.6 228.9 232 228.5 234 229.7 234.8 231.9 234 233.6 233 233.3 230.7 230.9 230.2 229.9ZM139 232.9 143 232 148 233.1 149.6 233.9 150.3 235.9 150.4 239.9 148.8 242.9 146 244.9 143 245.4 139 244.4 136 242.2 135 239.9 135.3 235.9 136 234.4ZM355 291.5 357 292.2 359 294.2 360.4 296.9 360.6 299.9 359.6 303.9 360.3 306.9 360.1 311.9 228.3 311.9 227 311.4 226.3 311.9 200.1 311.9 200.1 308.9 201.5 304.9 209 298.9 214 299 218 297.9 222 299.2 226 298.5 231 299.3 232 299.2 234 297.6 238 297.8 242 296.6 248 297.3 253 296.9 261 295.1 268 296.8 278 296.2 281 295 287 296.6 291 296.6 295 295.8 299 296.1 301 294.9 303 294.4 311 294.5 315 295.2 323 292.4 330 294.1 334 292.9 342 293.5 346 292.7 351 292.6ZM234 300.3 233.2 300.9 233.7 301.9 235 302.3 235.2 300.9Z"/>
<path fill="#e48066" d="M281.5 92.9 283 92.8 288 95.6 298 93.7 306 95.1 313 94.4 321 95.5 326 94.5 332 96.6 336 97.2 344 95.9 352 97.8 357 97.4 367 97.8 369.5 98.9 370.3 100.9 369.7 102.9 368 103.8 362 102.9 357 104.1 349 104.1 338 105.8 327 105.2 308 106.8 302 106.4 300.7 106.9 299 110.9 298 112 297 112.2 290 111.1 281 111.8 251 110.4 234 110.5 230 111.1 213 110.2 207 111.1 194 109.1 193 107.7 191.7 100.9 192 98.7 194 97.4 196 96.9 202 96.5 207 97.2 217 96.9 223 96 257 97.4 262 96.7 268 97.4 275.4 96.9ZM83 101 89 101.1 90.7 101.9 91 102.9 89 104.3 81 106 78 105.7 75.9 104.9 76.2 103.9ZM303.8 153.9 310 154.7 316.7 157.9 314 158.4 308.1 157.9 304 155.9 303.4 154.9ZM113.9 163.9 115 163.2 117 163.2 118 163.6 118.6 164.9 117.9 165.9 115 166.1 113.6 164.9ZM2.7 191.9 12 192.4 19 191.5 33 191.6 39 192.4 43 191.9 46 192.4 54 192.5 63 193.3 64.3 193.9 63 194.5 54 195.2 40 194.3 34 195 20 195.2 12 194.6 6 195.2 3 194.9 2.2 192.9ZM75.2 192.9 82 193.4 87 192.7 88.5 192.9 89.7 193.9 87 194.7 82 194.1 77 194.5 73.7 193.9ZM294 204.3 300 204.9 302 206.5 304.6 209.9 305 211.9 304.2 214.9 301.6 217.9 298 220.2 293 219.2 287 219.3 285 218.5 280.3 213.9 279.6 210.9 281.5 206.9 284 205.3ZM243.5 209.9 247 209.7 247.9 210.9 247.9 211.9 246 213.6 244 213.5 243 213 242.4 211.9ZM41.5 220.9 44 220.3 53 221.1 61 222.9 75.9 230.9 76.3 232.9 75 234.6 73 234.8 59 227.5 50 224.1 43 222.5 41.8 221.9ZM162.7 220.9 165 220.2 166 221.1 166.6 225.9 165 227.5 163 226.4 162.3 224.9 162.2 221.9ZM137.1 235.9 138 235.3 140 235.3 141.5 236.9 141.6 240.9 140 242.3 138 242 136.8 240.9 136.4 237.9ZM307.4 299.9 310 299.3 317 301.2 324 300.1 329 300.9 330.2 302.9 330.9 311.9 285.5 311.9 285.5 304.9 286.9 302.9 288.6 301.9 291 301.3 294 302 298 300.5 304 301.7Z"/>
<path fill="#c94741" d="M295 96.9 312.8 96.9 319 98.2 320.3 98.9 320.8 99.9 320 101.2 316 103.1 307 104.3 300 103.3 295 103.5 290 101.8 289.3 100.9 289.6 98.9 291 97.9ZM220.1 97.9 241 97.8 257 99.5 262 98.8 272 99 274 100.4 274.3 103.9 273 106.1 267 108.4 260 107.8 253 108.5 245 108.1 240 108.7 234 107.5 230 108.2 224 107.5 218 107.9 213 107 208 107.7 204 106.6 197 105.8 196 105.3 195.3 103.9 195.6 99.9 197 99 202 98.8 206 99.5ZM284.4 206.9 288 206.5 291 207.9 292.2 210.9 291.1 212.9 289 214.2 287 214.6 284 213.3 282.9 211.9 282.4 209.9 283 208ZM137.9 236.9 139 236.5 140 236.9 140.5 238.9 140 241 138 240.9Z"/>
<path fill="#a51429" d="M222.8 98.9 241 98.9 249.7 99.9 252 100.8 253 102.3 254 102.7 259 103.9 259.4 104.9 258 106 251 107.2 245 106.2 243 104.9 219 104.2 213.8 101.9 213.9 100.9 215 100.4Z"/>
<use href="#co" transform="translate(215.5 201.4)"/>
</g>
<use href="#ol" transform="translate(215.5 201.4)" fill="none" stroke="#b5b5b5" stroke-width="1.3"/>
<g clip-path="url(#c1)">
<use href="#ol" transform="translate(686 201.4)" fill="#f7f6f6"/>
<path fill="#d7e8f1" d="M483.1 159.9 486.5 160.4 492.5 162.7 497.5 162.8 500.5 164 504.5 162.9 509.5 162.9 512.5 162 517.5 164 527.5 162.1 529.5 162.4 533.5 164.3 537.5 163.6 541.5 164 546.5 163.2 552.5 164.4 563.5 164.6 567.5 166.2 570.5 165.4 577.5 165.6 581.8 167.9 586.5 169.6 592.5 169.1 598.5 169.9 605.5 169.1 609.5 167.5 614.5 169.6 619.5 169.5 623.5 170.5 637.5 169.8 644.5 171.4 650.5 168.8 661.5 170.4 665.5 170.4 667.5 168.9 669.5 163.3 670.6 161.9 680.5 160.7 683.5 159.6 690.5 159.2 712.5 159.8 718.5 160.6 719.5 161 721.1 162.9 723.6 168.9 725.5 170.1 728.5 170.7 734.5 169.9 741.5 171 750.5 170 755.5 170.7 758.5 170.5 759.7 169.9 761.5 166.9 763.9 165.9 765.6 163.9 767.5 162.6 777.4 160.9 784.5 160.3 795.5 161 800.5 162.8 805.5 167.2 809.5 167.6 818.5 167.7 823.5 166.8 828.5 168.3 846.5 169.2 850.5 168.4 855.5 168.7 860.5 167.7 870.5 169.4 877.5 168.3 883.5 168.8 888.5 168.2 897.5 169.5 899.3 170.9 901.5 177.3 901.4 181.9 899.6 184.9 896.5 186 886.5 187 877.5 189.6 866.4 191.9 901.5 192.9 901.5 210.1 857.5 210.4 848.5 209.8 846.5 208.9 845.3 205.9 845.1 198.9 845.7 194.9 847.5 193.1 856.5 191.9 852.5 190.6 832.5 188.8 819.5 189.1 802.5 190.6 800.9 191.9 799.8 197.9 798.5 199.1 795.5 200.2 761.5 199.5 755.5 200.9 749.5 200.3 745.6 200.9 738.5 207 736.7 209.9 736.8 213.9 737.8 216.9 739.7 219.9 739.3 220.9 730.5 221.6 724.5 219.8 720.5 221.1 707.5 221.8 706.7 222.9 705.5 227.9 701.5 235.2 698.5 237.7 693.5 238.8 691.5 238.4 688.5 236.7 683.8 230.9 683.3 220.9 681.5 219.2 674.6 215.9 673.6 213.9 675.5 213.2 682.5 215.5 686.5 216 696.5 211.9 697.2 209.9 696.8 207.9 692.5 200.6 690.5 199.4 687.5 198.8 670 197.9 668.5 196.9 667.1 194.9 666.5 190.9 664.5 189.9 659.5 189.3 644.5 188.8 640.5 189.1 634.5 188.5 632.8 188.9 631.8 189.9 627.5 199.9 628.9 208.9 628.8 217.9 629.8 221.9 632.5 224.3 638.5 227.9 638.8 231.9 640.5 233.8 649.5 233.3 653.5 232 663.5 232.9 668.5 232.4 669.9 233.9 670.4 235.9 670.2 237.9 668.7 239.9 665.5 242.2 662.5 242.9 643.5 241.9 638.5 243 633.5 242.1 627.5 243.3 626.6 242.9 626.3 241.9 626.4 238.9 625.9 236.9 623.5 234.7 617.5 233.7 610.5 235.2 609.5 233.9 608.3 225.9 609.1 220.9 608.8 216.9 610.5 214.1 614.5 211.9 615.4 205.9 614.6 203.9 612.5 202.1 607.5 200 604.5 199.6 602.5 200.2 600.3 201.9 599 204.9 598.6 207.9 599.1 211.9 601.9 216.9 603.9 226.9 604.1 240.9 603.3 244.9 601.5 246.1 593.5 246.4 576.5 245.3 571.8 243.9 567.5 241.1 563.5 239.8 555.5 235.3 548 231.9 546.8 229.9 546.3 224.9 547 219.9 547.5 218.9 548.5 218.7 551.5 218.9 556.5 218.3 567.5 219.1 576.5 217.1 584.5 216.6 586 215.9 586.5 215.1 587.3 210.9 587.1 207.9 585.5 206.6 579.5 205.7 566.5 205.7 554.5 204.9 470.5 205.7 470.5 193 494.5 193.7 552.5 193.4 554.5 192.9 553.3 187.9 552.5 187.3 549.5 186.9 539.5 187 533.5 186.1 491.5 186.3 478.5 185.9 470.5 186.7 470.5 161 476.5 162.6 478.5 162.6 480.7 161.9ZM707.5 203.9 705.5 204.5 703.9 205.9 703.5 209.9 704.5 211.7 706.5 213 710.5 213.6 711.7 212.9 712.7 210.9 712.5 206.9 711.5 205 710.5 204.3ZM872.9 216.9 876.5 216 883.5 216 888.5 217.4 893.5 219.5 896.4 221.9 898.7 224.9 899.6 227.9 899.1 229.9 897.5 232 895.5 233.4 890.5 234.8 885.5 234.4 882.5 235.1 876.5 233.6 871.5 233.4 867.5 233.9 865.5 233.6 863.5 231.8 862.6 229.9 862.4 226.9 863 224.9 866.5 220.1ZM828.5 224.8 831.5 225.6 835.5 225.4 842.5 226.5 853.1 229.9 854.6 230.9 854.9 231.9 853.5 233.1 844.5 234.6 839.5 232.4 835.5 232.9 830.5 231.8 824.5 231.7 822.5 232.3 820.5 234 818.5 234.3 816.5 233.6 812.5 231 807.5 232.5 805.5 232.2 804.2 230.9 804.4 229.9 806.5 228.6 810.5 228.3 813.6 226.9 818.5 226.3 821.5 225.3ZM476.8 225.9 494.5 225 520.5 226.3 538.5 235.2 547.5 239 549.2 241.9 548.9 246.9 548.4 247.9 546.5 248.8 540.5 249.1 534.5 248.5 528.5 249.1 512.5 249 501.5 247.6 495.5 248 489.5 246.8 484.5 247.2 477.5 246.6 476.5 246.2 475.7 244.9 474.6 236.9 475.6 227.9ZM779.5 293.9 782.5 295.8 785.5 296.8 786.4 297.9 785.8 300.9 782 303.9 776 305.9 773.5 306.2 770.5 305.4 765.5 305.6 763.9 304.9 762.2 302.9 761.3 300.9 761.5 298.9 762.3 296.9 764.5 294.8 766.5 294 773.5 294.5Z"/>
<path fill="#a7d0e4" d="M786.4 164.9 791.5 164 793.5 164.2 798.3 167.9 799.6 171.9 803.5 173 809.5 172.6 818.5 174 824.5 172 829.5 173.3 832.5 174.7 837.5 174 842.5 175.1 849.5 174.5 854.5 172.7 858.5 172.1 862.5 172.9 866.5 172.4 874.5 175.1 880.5 174.1 890.5 174.2 897.5 176 898.6 177.9 899 181.9 897.5 183.9 890.5 184.9 887.5 184.8 878.5 188.3 866.5 190.3 855.5 190.3 841.2 188.9 830.5 187.1 823.5 187.5 818.5 187.2 808.5 189.2 800.5 188.4 799.1 188.9 798.2 189.9 798.1 195.9 797.5 196.9 795.5 197.6 768.5 197.8 759.5 196.8 754.5 199 752.5 199.3 745.5 198.9 740.5 197.5 739.5 198.7 738.8 202.9 735.5 206.4 733.5 207.7 728.5 208.4 715.5 208 714.5 207.4 712.5 203.9 709.5 202.4 706.5 202.5 702.5 203.9 701.3 202.9 701.1 200.9 701.6 197.9 700.5 196.9 689.5 198 670.5 197.1 668.5 194.9 667.9 189.9 665.5 188.3 660.5 187.4 649.5 187.2 644.5 186.6 639.5 186.9 635.5 186.4 633.5 186.5 631.5 187.6 628.5 195.2 626.5 197.2 618.5 198.5 602.5 196.5 592.5 197.7 585.5 196.8 584.5 197.2 583.5 198.9 583.5 203.1 583.1 203.9 581.5 204.4 554.5 203.8 547.5 204.4 470.5 204.8 470.5 193.9 494.5 194.4 545.5 194.1 556.5 195.5 558.8 194.9 555.3 190.9 555 185.9 553.5 185.3 545.5 184.6 539.5 185.4 533.5 184.6 527.5 185.4 503.5 185.7 490.5 185.5 481.5 184.9 477.5 184.1 470.5 184.4 470.5 168.1 473.5 170 481.5 172.3 490.5 170 495.5 171.5 497.5 171.4 500.5 170.1 503.5 169.8 515.5 171.5 521.5 170 525.5 171.3 535.5 170.7 546.5 173.5 552.5 173.2 556.5 174.6 560.5 174.6 564.5 175.8 571.5 176.5 577.5 176.5 583.5 175.4 594.5 176.9 599.5 175.9 605.5 177.1 609.5 175.8 619.5 176.2 628.5 175.5 632.5 175.9 638.5 174.7 643.5 177 649.5 175.4 652.5 176.4 656.5 175.3 665.5 174.9 669.5 172.2 673.5 170.6 678.5 170.7 683.5 169.9 690.5 170.2 694.5 171.1 698.5 170 705.5 171.1 713.5 170.5 721.5 171.1 728.5 172.3 734.5 171.9 742.5 172.5 751.5 172 757.5 172.8 760.5 175 762.5 173.2 772.5 171.9 779.5 174.1 781.5 173.6 782.5 172.7 783.4 170.9 783 167.9 783.5 166.9ZM847.5 193.9 854.5 193.3 873.5 193.2 901.5 193.7 901.5 209.3 877.5 209.6 848.5 209 846.7 207.9 846 204.9 846.2 195.9ZM694.6 214.9 697.5 214.6 699.5 215.6 702.5 218.9 702.5 221.8 695.5 219.4 691.7 216.9ZM614.6 217.9 617.5 217 622.5 217.1 626.5 219.6 630.8 225.9 631 229.9 630.3 231.9 629.1 232.9 627.5 233.3 621.5 232.2 613.5 232.4 612 231.9 611.4 230.9 610.2 224.9 612.5 219.6ZM876.2 217.9 881.5 217.7 889.5 219.4 893.5 220.9 897.5 224.9 898.4 226.9 898.2 228.9 897.5 230.1 895.5 231.3 889.5 232.2 881.5 231.3 875.5 228.1 870.5 228.5 865.8 227.9 865.4 226.9 865.6 224.9 867.4 221.9ZM577.4 218.9 582.5 219.1 590.5 218.3 595.5 219.1 600.2 222.9 601.4 224.9 601.9 227.9 600.9 231.9 595.5 237.6 591.5 239.8 584.5 240.2 580.5 239.2 575.5 239.5 572.5 238.6 567.5 233.5 566.3 229.9 566.3 226.9 567.5 224.7 570.5 223.5 575.5 219.6ZM686.8 222.9 687.5 222.4 689.5 222.7 698.5 226.4 700.5 226.5 702.5 225.6 703.3 225.9 701.5 231.4 699.5 233.2 694.6 234.9 691.5 234.4 688.5 231.8 686.7 228.9 686 224.9ZM481.9 226.9 494.5 226 519.1 227.9 526.5 231.3 529.5 233.7 534.1 234.9 537.5 237.1 546.5 240.9 547.1 241.9 546.9 243.9 545.5 245.5 540.5 246.3 534.5 245.7 530.5 246.4 524.5 245.6 518.5 246.3 510.5 246.3 505.5 245.5 495.5 245.8 490.5 245 478.5 244.2 477.5 243.3 476 238.9 475.8 233.9 478.2 227.9Z"/>
<path fill="#6bacd1" d="M789 169.9 791.5 169.2 793.5 170 796.9 173.9 797.8 175.9 797.5 177.6 796.5 179 790.5 181.9 787.5 181.6 785.5 180.8 783.6 176.9 784.5 174ZM672.2 173.9 675.5 172.9 682.5 173.7 689.5 173.1 694.5 174.3 700.5 173.4 707.5 174.5 712.5 173.7 722.5 174.1 734.5 173.5 746.5 174.3 752.5 173.9 756.2 174.9 757.6 176.9 758 179.9 757.4 186.9 755.3 189.9 755.1 191.9 755.8 194.9 754.5 197 751.3 197.9 748.5 197.3 744.5 195.2 738.5 195.5 737.4 196.9 736.8 201.9 734.5 204.8 732.5 205.7 725.5 205.9 722.7 204.9 720.9 202.9 719.6 197.9 721.1 193.9 719.5 193.3 714.5 192.9 704.5 194.7 692.5 195 688.5 196.6 679.5 196.7 671 195.9 670.2 194.9 670 190.9 668.9 184.9 670.5 176.1ZM506.5 174.4 515.5 175.1 521.5 174.3 526.8 176.9 532.5 177.7 533.1 179.9 531.5 182.4 527.5 183.9 521.5 183.7 516.5 184.4 503.5 184.7 498.5 184.1 491.5 184.4 482.5 183.2 479.9 181.9 478.3 178.9 479.5 177.5 484.5 176.1ZM807.5 174.9 809.5 175.1 811.3 175.9 812.7 176.9 814.1 178.9 813 185.9 810.5 187.4 806.5 187.4 805.4 186.9 804.2 184.9 803.9 181.9 804.5 177.9 805.5 175.9ZM854.5 178.1 872.5 178.5 881.5 182.5 882.8 183.9 882.5 184.9 877.5 187.3 864.5 189.4 854.5 189.2 841.6 187.9 835.5 186.3 833.8 184.9 833.7 183.9 834.5 182.2 837.5 180.4 839.5 180.1 842.5 180.6 846.5 179.4ZM592.5 180.7 596.5 181.7 604.5 181.2 618.5 182.4 623.5 181.5 629.5 182.8 630.3 184.9 627.5 194.9 625.5 195.8 620.5 196.6 611.5 196.1 601.5 193.1 592.5 195 589.5 194.7 586.5 193.1 578.5 195 570.5 194.7 567.5 195.1 560.5 193.3 556.4 189.9 557.3 187.9 559.5 186.6 564.5 185.2 567.5 185.4 576.5 183.8 578.5 184.5 581.5 187.2 584.5 187.5 586 186.9 587.5 182.3ZM767 188.9 769.5 188.6 775.5 189.8 779.5 191.8 780.3 193.9 779.7 194.9 778.5 195.5 773.5 195.5 770.5 196 763.5 195 761.2 193.9 760.8 192.9 761.7 190.9ZM470.5 194.9 486.5 194.6 502.5 195.8 508.5 194.9 547.5 195.4 549.7 195.9 550.3 196.9 550.1 201.9 549.5 203.1 545.5 203.5 539.5 203.1 532.5 203.7 527.5 203.3 504.5 203.1 484.5 204.3 470.5 204ZM847.5 194.9 849.5 194.2 873.5 194 901.5 194.5 901.5 208.4 879.5 208.8 848.5 208.2 847.5 207.6 847 205.9 846.9 196.9ZM587.3 220.9 593.5 221 595.5 221.9 597.5 224 598.8 225.9 599.1 227.9 598.4 229.9 596.5 232.1 594.5 233.3 589.5 233.6 588.1 232.9 584 228.9 583.3 226.9 584.5 223.4 585.5 221.8ZM884.6 221.9 887.5 221.2 892.5 222 896.5 225.6 896.9 227.9 895.5 229 890.5 229.8 882.5 228.6 881 226.9 881.1 224.9 882.5 223.1ZM483.7 227.9 493.5 227 501.5 228.4 505.5 228 511.5 230 515.5 230.3 519.5 233.9 519.9 236.9 519 238.9 517.5 240.5 509.5 243.3 497.5 243.7 491.5 242.8 486.5 242.9 482.5 242.3 478.5 239.9 477.3 237.9 476.9 234.9 477.5 232.8 479.5 229.9Z"/>
<path fill="#3783bb" d="M696.5 179.5 712.5 180.2 717.5 179.1 724.5 178.9 731.5 180.4 738.5 180.6 739.9 181.9 741.1 185.9 741.5 191.9 740.2 192.9 737.9 192.9 731.5 189 726.5 187.7 719.5 190.6 713.5 190.8 704.5 192.8 692.5 192.5 688.5 194.3 683.5 194 680.5 194.9 673.2 192.9 672.3 190.9 671.9 186.9 672.3 182.9 673.2 180.9 681.5 180 686.5 180.6ZM856.1 180.9 871.5 181.4 876.5 183.8 876.9 184.9 875.3 185.9 870.5 187.3 864.5 188.2 851.5 187.6 848.5 186.5 847 184.9 846.9 183.9 847.9 182.9ZM571.6 188.9 577.5 188.6 582.9 190.9 583.2 191.9 579.5 193 570.5 192.1 566.5 192.7 563 191.9 562.5 190.9 564.5 189.7 569.5 189.5ZM619 189.9 623.5 190.4 625.7 191.9 626.2 192.9 625.1 193.9 620.5 195.3 616.5 195.2 611.1 193.9 610.8 192.9 612.5 191.1 615.5 190.2ZM873.2 194.9 901.5 195.6 901.5 207.4 883.5 207.9 871.5 207.4 857.5 207.7 849.5 207.1 848.5 206.5 848.1 201.9 848.5 195.7 852.5 195 868.5 195.3ZM480.5 195.5 489.1 195.9 494.8 197.9 495.7 199.9 494.5 201.9 490.8 202.9 483.5 203.5 472.5 203 470.5 202.5 470.5 196.4ZM485 228.9 491.5 228.3 494.8 228.9 499.5 231.1 500.7 232.9 500.7 233.9 498.5 236.4 492.5 238.1 484.5 238 480.3 235.9 479.3 234.9 479.1 233.9 480.9 230.9Z"/>
<path fill="#1c5c9f" d="M698.5 182.2 707.5 183.6 709.5 184.6 710.2 185.9 710 186.9 708.6 187.9 704.5 189.6 699.5 188.3 695.5 189.7 687.5 189.7 683.5 188.6 681 186.9 680.6 185.9 681.5 184.4 683.5 183.5ZM473.2 196.9 475.5 196.7 480.5 197.5 481.7 198.9 481.7 199.9 481.2 200.9 479.2 201.9 475.5 202.2 472.5 201.8 470.5 200.7 470.5 198.3ZM851.4 196.9 853.5 196.1 895.5 196.2 901.5 196.7 901.5 206.3 883.5 206.8 853.5 206.1 851.7 204.9 851.1 197.9Z"/>
<path fill="#053061" d="M852.8 197.9 854.5 197.3 873.5 197.4 881.5 198.1 898.5 197.5 901.5 198 901.5 205.1 883.5 205.5 871.5 204.9 866.5 205.4 854.5 204.9 853.1 203.9Z"/>
<path fill="#fcdfcf" d="M470.5 90.9 901.5 90.9 901.5 164.2 896.5 161.6 893.5 157.2 890.5 156 884.5 157.6 875.5 156.3 870.5 157.6 864.5 156.7 852.5 158.2 847.5 157.2 842.5 158.1 838.5 156.4 829.8 158.9 828.9 163.9 827.5 164.8 823.5 164.2 818.5 165.1 811.5 165 805.5 163 803.5 159.8 801.5 158.4 790.5 156.5 786.5 158.5 773.5 159 771.5 157.9 768.1 152.9 763.5 150.9 750.5 151.6 747.5 150.5 743.5 150.4 741.9 148.9 739.4 143.9 736.5 142.5 729.5 143 720.5 142.2 710.5 142.5 703.5 144.5 700.5 143.9 699.5 144.3 698.9 144.9 700 145.9 702.5 145.7 706.5 146.4 712.5 147.9 713.9 148.9 714.1 150.9 712.6 154.9 711.5 156.1 709.5 156.7 703.5 156.2 697.8 156.9 687.5 155.2 686.2 153.9 685.8 150.9 687.1 149.9 690.9 148.9 692.2 146.9 692.7 144.9 691.5 143.9 689.5 143.5 684.8 143.9 680.5 145.7 678.5 147.4 676.8 155.9 675.5 157.9 666.7 159.9 665.4 160.9 664.5 163.1 663.5 163.1 659.9 160.9 657.5 160.2 646.5 159.3 640.5 160.5 634.5 160 629.5 161 624.5 160.3 620.5 160.4 616.5 158.6 613.5 159.6 609.5 159.2 605.5 161.4 603.5 161.7 598.5 159.6 588.2 158.9 583.5 156.5 576.5 157.1 570.5 156.6 564.5 157.1 555.5 155 551.5 155.2 547.5 154.2 535.5 154.5 529.5 152.8 519.5 153.6 514.5 152.7 510.5 153.7 506.5 152.8 499.5 153.4 492.5 152.4 488.5 152.9 483.5 152.4 479.5 153.3 475.5 152.3 470.5 153.8ZM533.5 187 544.5 188.7 550.5 188.8 551.5 189.1 552.5 190.9 551.9 191.9 550.5 192.1 502.5 193.1 477.5 192.7 470.5 191.3 470.5 189.7 473.5 189 477.5 187ZM901.3 186.9 901.5 191.7 891.5 190.9 880.5 190.9 881.3 189.9 885.5 189 890.5 189.1ZM831.7 189.9 845.5 190.7 847.1 190.9 848.3 191.9 846.5 192.6 844.7 194.9 843.9 197.9 843.8 203.9 844.9 207.9 846.4 209.9 851.5 211.8 869.5 211 874.5 211.8 884.5 211.6 896.5 210.6 901.5 211.3 901.5 226.3 896.5 219.5 890.9 216.9 888.5 215.2 884.5 214.1 875.5 213.9 873.5 214.2 868.5 216.4 864.5 219.4 860.8 224.9 859.5 230.1 858.5 230.1 853.5 227 844.5 223.2 828.5 222.2 819.5 222.7 805.5 225.5 801.5 227.9 796.5 232 792.5 231 788.5 232.1 781.5 230.6 777.5 232.5 772.5 232.3 766.5 230.3 760.5 231.9 755.5 231.8 750.5 232.9 746.5 231.2 741.5 230.7 736.5 232.5 732.5 232.4 725.5 230.6 720.5 230.5 717.5 229.4 714.5 230.1 711.5 232.5 710.5 232.8 707 231.9 706.8 230.9 707.6 228.9 710.4 226.9 711.4 224.9 713.4 223.9 718.5 223.7 722.5 224.8 726.5 224 730.5 224.4 735.5 223.8 739.5 224.2 743.5 223 744.3 221.9 744.2 220.9 739.6 214.9 739.3 210.9 741 207.9 747.9 201.9 750.5 201.7 752.5 202.1 754.6 203.9 756 206.9 760.5 208.5 766.5 208.5 771.5 207.6 777.5 209.2 782.5 208.1 794.5 208 799.5 207.2 803.5 208.8 811.5 208.4 813.2 206.9 813.9 201.9 813.6 199.9 811.5 198.7 803.5 197.5 802.7 194.9 803.5 193 815.5 191.4 819.5 190.3ZM653.6 191.9 656.5 191.2 660.5 191.7 661 192.9 665.5 195.1 668.5 197.9 670.5 198.8 686.5 199.7 689.5 200.5 691.4 201.9 692.6 203.9 694.3 207.9 694.5 210.1 692.5 211.9 686.5 214.3 682.5 214 675.5 212.1 673.5 212.4 672.5 213.5 672.5 215 673.7 216.9 677.6 219.9 677.9 220.9 676.5 222.6 665.5 223.1 661.5 224.1 658.5 223 651.5 223.4 649 224.9 646.5 229.3 644.5 229.6 640.8 226.9 632.5 222.7 630.7 220.9 630 215.9 630.1 209.9 629.3 199.9 629.6 196.9 630.5 194.9 632.5 193.8 636.5 193.3 640.5 193.7 645.5 192.5 651.5 193.3 653.6 192.9ZM603 202.9 604.5 202.3 605.5 202.7 607.6 205.9 606.7 216.9 607.1 220.9 606.5 223.8 605.5 223.3 604 215.9 602.4 211.9 602.8 206.9 602.5 203.9ZM524.5 205.7 533.5 206.2 554.5 205.7 579.5 206.8 582.8 207.9 583.7 208.9 584.3 212.9 583.3 214.9 580.5 215.7 566.5 216.8 555.5 216.5 546.5 216.9 545 218.9 544.1 223.9 545.8 233.9 544.5 234.8 538.2 232.9 523.5 225.3 521.5 224.7 493.5 224 475.5 224.3 474.5 225.1 473.9 226.9 472.9 242.9 473.9 248.9 476.8 254.9 476.6 259.9 477.5 261.7 478.5 262.3 488.5 262.9 497.5 262.7 503.5 261.3 507.5 263.2 510.5 263 514.5 263.6 518.5 262.4 522.5 263.7 527.5 262.7 533.5 263.1 538.5 261.9 542.5 263.8 546.5 262 560.5 262.1 565.5 262.8 570.5 261.8 574.5 262.2 579.5 263.8 587.5 261.3 594.5 261.6 599.5 260.2 600.5 259 601.3 253.9 600.5 249.9 604.1 247.9 606.5 243.2 607.5 242.5 608.5 244.2 610.5 244.5 611 243.9 610.7 239.9 611.7 237.9 614.5 235.9 617.5 235.5 623.5 237 624.5 238.9 623.6 243.9 623.8 244.9 625.5 245.7 638.5 245.5 644.5 244.6 659.5 246 666.5 246.1 674.5 247.7 678.5 247.7 681.5 248.5 684.5 248.5 688.5 249.9 693.5 250.6 695.5 250.3 698.5 248.9 701.5 249.4 702.8 250.9 703.8 256.9 706.8 262.9 706.8 263.9 704.5 268.9 703.4 274.9 703.9 277.9 703.6 279.9 702.5 281.7 700.5 282.8 698.5 283 694.5 284.3 688.5 283.6 684.5 285.5 678.5 283.7 674.5 283.7 670.5 281.5 666.5 282.7 662.5 282.2 657.5 282.9 653.5 281.9 649.5 282.1 647.5 282.7 646 283.9 644.5 284.1 637.5 283.5 630.5 281.1 625.5 282.1 618.5 280.5 616.5 282.3 613.5 282.3 611.5 283.2 610.3 284.9 610.4 287.9 609.7 289.9 607.5 291.7 603.5 293.5 602.3 294.9 600.5 298.9 600.6 301.9 599.6 305.9 600.2 308.9 599.4 311.9 470.5 311.9 470.5 208.1 473.5 208 475 206.9 477.5 206.3ZM548.5 275.9 545.5 277.5 536.5 279 532.5 278.8 528.4 279.9 527.4 281.9 528.6 285.9 527.7 290.9 528.5 292.8 535.5 296.4 542.5 294.3 554.5 295.5 559.5 294.2 564.5 295.4 568.5 294 571.5 293.8 576.5 294.3 581.5 296.1 588.5 294.1 593.5 294.9 597.4 292.9 598.2 291.9 598.5 288.2 600.4 283.9 600.1 281.9 598.5 279.1 594.5 276.6 593.5 276.5 590.5 278.2 585.5 276 581.5 277 577.5 277 572.5 278.9 562.5 277 555.5 277.7 552.5 276.9 550.5 275.5ZM901.5 229.5 901.5 236.2 899.5 235.8 898.6 234.9ZM606.5 230.9 607.7 237.9 607.5 241.6 606.5 240.2 606.2 237.9ZM549.4 236.9 551.5 236.5 555.5 237.7 560.5 241.7 567.5 244.8 570.4 247.9 568.5 249.1 559.5 249.5 553.5 247.6 552.1 245.9 550.8 239.9ZM897.1 239.9 901.5 240.2 901.5 247.9 900.5 244.9 897.5 243.3 896.3 241.9 896.1 240.9ZM582 249.9 583.5 249.4 585.7 249.9 584.5 250.6ZM716.2 253.9 718.5 254 720.1 254.9 720.1 255.9 718.5 256.4 716.5 255.9 715.9 254.9ZM829.5 253.5 831.5 254.7 833.5 255 840.5 254 842.5 253.1 844.5 254.6 845.5 254.7 858.5 253.6 861.5 255 865.5 255.4 868.5 256.7 877.5 255.1 881.5 255.5 886.5 255 889.5 253.1 893.5 254.9 898.5 254.4 901.5 253.1 901.5 311.9 759.1 311.9 762.2 308.9 763.5 308.4 770.5 308.2 778.5 308.7 784.5 308.2 788.5 309 791.5 308.1 794.5 308.3 796.5 307.7 797.5 305.9 796.9 299.9 799.8 291.9 799.7 290.9 798.5 290.2 795.5 289.7 785.5 291.4 783.5 291.3 776.5 289 772.5 290.4 770.5 290.3 768.5 289.8 765.5 287.4 762.5 286.8 761.5 285.9 760.8 281.9 758.9 278.9 760.2 273.9 759.8 269.9 761.7 266.9 762.3 264.9 760.5 262.4 756.5 260.8 753.8 258.9 753.4 257.9 754.5 256.1 756.5 255.3 763.5 254.8 768.5 255.8 777.5 255.8 782.5 254.3 785.5 254.5 788.5 254 792.5 254.5 796.5 254.1 802.5 255.5 808.5 255.3 812.5 256.4 815.5 255.9 818.5 256.9 824.5 255.4ZM742 255.9 743.5 255.4 744.6 255.9 743.2 256.9 741.1 256.9ZM737.1 256.9 738.6 256.9 738.6 257.9 736.3 257.9ZM694.4 300.9 699.5 301.2 708.5 300.4 715.5 302.1 719.5 301.9 727.5 303.4 728.5 304.2 729 305.9 727.6 307.9 725.5 308.4 715.5 307.6 708.5 309.6 699.5 309.1 694.5 308 689.5 309.3 684.5 308 678.7 307.9 674.5 306.5 673 304.9 673.5 302.9 674.5 302.3ZM740.1 311.9 740.5 311.5 741.7 311.9Z"/>
<path fill="#f7b799" d="M470.5 90.9 901.5 90.9 901.5 104 898.5 104.6 893.5 102.1 890.5 103.4 888.5 103.6 884.5 102.2 880.5 101.9 876.5 100.6 871.5 102.4 868.5 102.2 863.5 100.6 861.5 101.2 860.8 101.9 860.9 102.9 865.5 108.9 868.5 110.2 872.5 113.1 878.5 115.5 879.7 116.9 880 118.9 879.1 121.9 878.2 132.9 876.5 134.4 874.5 135 871.5 133.9 866.5 133.8 862.5 133 858.5 134.3 854.5 134.8 852.5 135.7 848.5 134 842.5 136.6 835.5 137.4 834.3 138.9 833.7 142.9 831.5 145.9 831 147.9 831.8 148.9 836.5 150.8 837.1 151.9 835.6 153.9 833.5 154.6 829.5 154.1 824.5 154.6 820.5 156.2 815.5 155.3 811.5 153.8 807.5 154.6 805.5 154 804.6 152.9 803.8 148.9 801.8 146.9 798.5 145.2 792.5 143.3 790 140.9 790.1 138.9 790.8 137.9 797.4 133.9 797.9 132.9 797.7 131.9 796.5 130.3 790.5 128.6 783.5 129.3 778.5 127.9 775.5 128.5 772.5 130.3 767.5 129.3 762.5 130.2 758.5 130.2 756.9 130.9 755.9 131.9 755.2 133.9 756.5 137.9 755.5 141.9 757.5 144.6 761.5 142.2 763.5 142.3 776.8 150.9 781.5 153.2 784.6 155.9 784.9 156.9 781.5 158 773.5 157.9 772.3 156.9 771.5 154.6 769.7 151.9 767.5 150.5 760.5 148.6 757.5 146.3 752.7 147.9 745.5 147.1 739.5 139.7 737.5 139 729.5 138.6 723.5 139.6 710.5 138.6 697.5 140.5 692.5 139.5 680.5 141.2 678.5 142 675.5 144.8 672.5 151.5 669.5 153.1 663.5 152 660.5 152.4 656.5 151.5 650.5 152.2 643.5 149.4 639.5 149.8 632.5 149.5 627.5 150.7 622.5 148.4 617.5 147.2 616.6 141.9 617.5 137.9 617.3 136.9 616.5 135.9 612.5 133.8 609.5 133 605.6 133.9 603.5 135.6 602.6 138.9 603.3 146.9 602.5 148 596.5 151 594.5 151.4 589.5 150.5 575.5 150.2 570.7 153.9 564.5 155.2 553.5 153.4 550.8 151.9 550 149.9 549.8 145.9 551.3 141.9 553.2 138.9 556.6 135.9 557.3 133.9 557 129.9 557.6 126.9 557.8 120.9 557 113.9 555.5 111.1 550.5 109.9 540.5 112.3 537.5 112.4 534.5 111.6 532.5 112.2 530.5 113.9 529.4 117.9 527.4 121.9 527.4 124.9 526.5 126.7 523.5 128.5 514.9 129.9 514.5 131.9 513.5 133 509.5 133.2 504.5 131.6 497.5 131.4 496.5 130.4 494.8 123.9 492.5 119.4 490.5 119.3 486.5 121.7 482.5 120.8 479.3 121.9 470.5 122.9ZM511.5 128.7 511.5 130.2 512.5 130.7 514 129.9 512.5 128.4ZM570.5 118.4 568.5 120.1 567.6 121.9 567.1 129.9 569.5 133.4 573.5 137 575.5 137.6 578.5 135.5 580.5 134.9 582 132.9 581.8 121.9 580.5 119.8 573.5 118.3ZM635.5 122.5 634.3 123.9 633.7 125.9 634.8 127.9 637.5 129.3 640.5 130.1 642.5 129.8 643.5 128.9 644.5 125.9 643.5 124.3 638.5 122ZM652.5 98.7 647.5 99.9 646.5 100.6 640.9 107.9 640.6 108.9 641 109.9 645.7 115.9 649.5 117.2 657.5 117.2 663.5 115.8 668 112.9 669.3 110.9 669.7 107.9 669.1 105.9 667.5 103.5 661.5 99.6ZM768.5 106.9 768.6 106.9 768.5 106.9ZM656.5 122.7 654.2 123.9 653 125.9 653.1 128.9 654.5 130.8 658.5 131.8 663.5 132.1 665.5 131.4 666.9 129.9 667.9 126.9 665.5 124 658.5 122.6ZM536.3 143.9 541.5 143 544.5 143.7 547.1 145.9 547.4 147.9 546.6 149.9 545.5 151.2 543.5 152 537.5 152.2 535.5 151.7 533.8 149.9 533.3 146.9 534.5 144.8ZM594.7 155.9 597.5 154.9 604.5 156.4 605.6 156.9 605.7 157.9 603.5 158.2 596.1 156.9ZM497.5 187.3 520.5 187.4 533.5 188.3 537.8 189.9 536.3 190.9 529.1 191.9 515.5 192.5 486.5 192.2 478.5 191.7 476.5 190.9 476.5 189.9 477.5 188.6ZM818.4 191.9 826.5 191.1 844.6 191.9 843.5 193.5 842.5 194 837.5 194.6 833.5 193.9 830.5 194.1 823.5 195.6 818.5 197.6 817.2 196.9 816.3 194.9 817.2 192.9ZM631.3 195.9 634.5 195.2 643.5 194.9 658.5 195.2 663.5 195.7 665.5 196.4 668.5 198.7 670.5 199.5 687.9 201.9 689.9 203.9 691.1 208.9 689.1 210.9 685.5 212.5 675.5 211.3 673.5 211.5 672.5 212.2 671.6 213.9 673 218.9 672 219.9 667.5 220.7 650.5 221.6 647.5 222.9 644.5 225.2 642.5 225.6 633.2 220.9 631.7 218.9 631 214.9 630.3 198.9 630.6 196.9ZM840.5 205.8 842.5 206.6 845.8 211.9 845 212.9 842.5 214.1 839.5 214.5 836.5 214.2 834.5 213 832 207.9 833.2 206.9ZM524.5 206.7 534.5 207.8 554.5 206.5 572.5 207.5 580 208.9 581.5 210.9 581.8 212.9 580.5 214 571.5 214.9 547.5 215.2 544.5 215.8 543.3 216.9 542.7 220.9 541.5 222.9 541.4 223.9 542.7 227.9 542.5 229.1 541.5 229.4 536.5 228.2 529.5 225.1 522.5 223 507.5 223.4 488.5 222.9 477.5 222.1 475.6 220.9 474.4 215.9 474.8 210.9 475.7 208.9 477.4 207.9ZM892.7 211.9 898.5 211.9 899.5 212.9 899.6 213.9 898.5 215.3 897 215.9 892.5 215.9 891.1 214.9 890.7 213.9 890.9 212.9ZM780.5 212.4 783.5 213.7 789.8 217.9 790.4 218.9 790.2 220.9 785.5 225 773.5 226.7 769.5 226.6 764.5 225.3 761.5 222.5 760.4 218.9 760.7 217.9 762.5 216.2 771.5 213.1ZM474.4 292.9 475.5 293.1 476.1 293.9 475.5 295.1 474.5 295 473.7 293.9ZM805.3 292.9 812.5 292.6 819.5 294.4 822.5 294.3 823.1 294.9 824.1 299.9 823.8 301.9 820.5 306.6 817.5 307.7 809.5 308.7 806.5 307.2 802.5 306.7 800.5 304.9 799.8 299.9 800.5 297.8 802.5 294.9ZM901.3 311.9 901.5 311.7 901.5 311.9 901.3 311.9Z"/>
<path fill="#e48066" d="M755.5 95.9 757.5 97.1 759.5 99.4 759.9 101.9 759.5 105.9 760.5 111.3 762.5 112.4 767.8 112.9 772.6 114.9 774.7 116.9 775.5 120.9 773.6 123.9 769.8 125.9 761.5 127.5 756.5 127.4 751.5 130.1 745.5 132.2 738.5 131.3 733.5 132.2 729.5 130.7 725.5 131.3 721.5 130.6 718.5 131.2 714.5 129.9 707.5 128.9 701.5 130.5 698.5 129.9 689.5 125.5 685.5 124.3 679.8 120.9 674.5 110.6 672.9 100.9 673.5 97.8 674.5 96.9 676.5 96.5 683.5 96.7 687.5 97.5 692.5 96.8 696.5 98.1 701.5 96.5 709.5 96.9 713.5 96.5 718.5 97 726.5 96.4 731.5 97.1 738.5 96.4 741.5 97.4 745.5 97.1 748.5 98ZM627.7 101.9 628.9 101.9 629.7 102.9 629.5 104.1 628.5 105.1 627.2 103.9ZM563.5 137.3 565.5 137.5 572.1 141.9 572.5 144.9 571.4 148.9 569.2 151.9 566.5 153.2 562.5 153.3 558.5 152.1 555.5 152.7 553.5 152.5 552.8 151.9 552.3 149.9 552.8 145.9 554.2 141.9 556.5 139.6ZM761.5 143.9 762.8 143.9 768.5 147.9 767.5 148.2 760.5 146.9 759.9 145.9 760.2 144.9ZM772.3 150.9 773.5 150.8 780.5 153.9 782.5 155.9 781.6 156.9 780.5 157.1 773.5 156.6ZM497.5 188.1 519.5 188.2 527.6 189.9 525 190.9 515.8 191.9 502.5 192.1 486.5 191.1 485.6 190.9 485.4 189.9ZM632.4 196.9 635.5 196.3 641.5 196.1 663.5 197 670.5 200.2 680.5 202.1 682.2 202.9 682.8 203.9 678.7 209.9 673.5 210.8 671.9 211.9 670.9 213.9 671.3 217.9 670.3 218.9 666.5 219.5 650.5 220.4 643.5 222.5 635.5 219.4 633 216.9 632.3 213.9 631.4 198.9ZM542.8 207.9 559.5 207.3 572.5 208.7 576.5 210.9 576.1 211.9 572.5 213.1 559.5 214 542.5 213.9 537.5 213 534.4 211.9 534.3 210.9 537.4 208.9ZM512.6 208.9 521.5 210.6 525.5 212.6 526.7 213.9 526.8 214.9 525.5 215.9 521.3 215.9 520.2 216.9 519.2 219.9 517.5 220.8 507.5 222 494.5 221.5 484.5 220.4 479.5 218.8 478.3 217.9 477.2 215.9 477.7 213.9 482.5 211.3 490.5 209.3ZM770.5 218.9 771.5 218.4 774.5 218.8 775.9 219.9 776.2 221.9 773.5 223.4 770.5 222.8 769.2 220.9Z"/>
<path fill="#c94741" d="M719.3 99.9 725.5 100.1 729.5 102.2 733.5 102.6 736.6 104.9 736.9 105.9 736.5 107.9 735.5 109.3 733.5 110.3 724.5 112.3 719.5 112.2 714.5 113.2 703.5 111.9 700.6 109.9 698.3 106.9 698 104.9 699.2 102.9 703.5 100.9ZM555.5 148.7 556.5 149.3 556.9 149.9 556.5 151.2 554.5 151.7 553.5 151.2 553.4 149.9ZM776.3 154.9 776.5 154.9 777.5 154.9 778.5 154.8 779.1 154.9 778.5 155 777.5 154.9 776.5 154.9 776.3 154.9ZM494 189.9 498.5 189.1 507.9 189.9 505.5 190.9 501.5 191.1 494.5 190.9ZM511 189.9 514.5 189.4 518.8 189.9 517.6 190.9 515.5 191ZM634.6 197.9 638.5 197.4 647.5 197.5 653.5 198.2 664.5 198.5 670.5 201.1 678 202.9 679.5 203.9 679.7 204.9 677.3 208.9 672.5 210.6 671 211.9 670.1 213.9 669.9 216.9 669 217.9 649.5 219.3 643.5 220.7 636.8 217.9 635.1 215.9 634.2 212.9 633.6 206.9 634 202.9 633.7 199.9ZM560.5 208 565.5 209.7 571.5 209.8 572 210.9 561.5 212.6 551.5 212.7 542.5 212.2 538.1 210.9 538.5 209.9 542.9 208.9ZM493.1 210.9 511.5 211.3 515.5 212.5 517.6 214.9 516.5 217.1 507.5 219.9 494.5 219.6 486.5 217.9 484.6 216.9 484.2 214.9 484.9 213.9 487.5 212.4Z"/>
<path fill="#a51429" d="M637.1 199.9 638.5 199.1 647.5 199 654.5 200.2 665.5 200.3 675.4 203.9 677.2 205.9 676.1 207.9 670.9 210.9 667.5 216.3 653.5 218.1 647.5 217.9 643.5 218.6 638.1 215.9 636.9 213.9 636.4 209.9ZM556.6 208.9 560.5 208.8 562.6 209.9 561.5 211.2 556.5 211.1 555.1 209.9ZM498.4 212.9 507.5 213 509.5 213.9 510.1 215.9 509.5 216.9 507.9 217.9 502.5 218.5 494.8 216.9 494.1 215.9 494.5 213.9Z"/>
<path fill="#67001f" d="M643.3 201.9 647.5 201 656.5 202.1 667.5 202.1 671.8 204.9 673.4 206.9 673.5 207.9 670.5 209.9 667.5 212.9 663.8 214.9 653.5 216.9 649.9 216.9 645.5 215.7 642.9 213.9 642.4 211.9Z"/>
<use href="#co" transform="translate(686 201.4)"/>
</g>
<use href="#ol" transform="translate(686 201.4)" fill="none" stroke="#b5b5b5" stroke-width="1.3"/>
<g clip-path="url(#c2)">
<use href="#ol" transform="translate(215.5 471.9)" fill="#f7f6f6"/>
<path fill="#d7e8f1" d="M86.5 423.4 90 422.4 94 424 95.5 426.4 96 431.6 98 433 115.3 433.4 122 434.7 129 434.6 142 436.4 143 437.1 143.6 438.4 143.9 442.4 143.5 444.4 142 445.5 139 445.6 135.9 447.4 135.1 449.4 135 455.4 134 457.1 133 457.6 125 456.9 119 457.2 116 456.7 112 457.2 107 455.7 103 456.2 99 455.7 94 456 90 455.3 87 455.5 85.6 454.4 84.6 450.4 83.2 447.4 83.2 443.4 81.9 440.4 84.8 433.4 84 428.4 84.2 426.4ZM325.5 425.4 327 425.3 328.6 428.4 328 438.6 328.5 440.4 330 441.4 336 440.9 341 442.5 347 440.8 355 441.5 360 441.1 362 440.2 364 438.2 368 438.2 372 436.4 377 437.4 382 437 386 437.4 390 436.9 395 438.6 400.6 437.4 414 439.4 425 437.9 431 439.3 431 456.2 412 456.9 411 457.4 410.4 458.4 410.3 460.4 411 461.7 413 462.3 431 462.4 431 475.9 410 475.9 408.4 476.4 407.2 478.4 406.9 484.4 407.9 486.4 416.1 487.4 420.9 489.4 425.7 493.4 425.8 496.4 425 498.5 420.8 501.4 416 503.1 409 504.7 402 504.4 392 500.3 389.8 498.4 389.4 496.4 390 494.4 391 493.2 396.4 489.4 397.2 488.4 396 487.5 382 488.9 377 488.1 368 488.4 362 486.6 358 487.4 354 489.3 352 489.6 347.6 488.4 343 488.1 336 485.5 331 485.8 325 485.1 322 485.6 320.9 485.4 321.6 484.4 324 483.8 327.2 481.4 328.2 479.4 327.9 477.4 326 475.6 323 474.4 315 474 313 474.2 310 475.5 308.9 476.4 307.9 478.4 308.2 480.4 309 481.7 314.4 484.4 314.1 485.4 313 485.7 305 485.7 300 486.7 288 486.5 282 487.7 266 488.4 262 487.9 258 486.7 252 486.2 241 486.7 232.6 486.4 231 487.4 230.4 490.4 229 492.3 225 495 221 496.2 213 496.6 209.7 495.4 207.5 493.4 207.6 487.4 208.6 485.4 210 484 213 482.3 221 481.4 225 481.8 229 483.1 229.8 477.4 229.5 464.4 229.3 462.4 228.2 460.4 225 459.5 193 459.5 185 458 159 457.5 157.3 456.4 155.9 451.4 157 449.4 160 448.2 166 448 170 449.5 175 448.7 184 449.2 186 448.9 188 447.5 189 445.7 190 439.2 191 438.2 195.4 436.4 199 430.9 202 429.4 210 429.8 216 429.1 223 432.4 228 430.6 234 431.2 238 429.5 243 431.5 252 431 261 432.4 265 431.6 269 431.8 271.7 427.4 274 426.5 283 426 294 426.2 302 425.5 308 426.5 314 426 317 427.6 321 427.8 323.5 427.4ZM15.5 434.4 27 434.5 35 435.6 39 435.4 51 437.9 55 435.6 60 436.9 63 436.3 67 436.3 72 435 78 437 79.7 438.4 80.6 440.4 80.1 446.4 79.3 449.4 78 450.8 72 450.8 62 451.8 38 449.8 34 450.6 17 450.2 12 450.6 7 450.2 4.7 449.4 2.4 442.4 3.7 436.4 6 435.4ZM0.3 464.4 44 464.4 61 465.9 66 465.2 85 465.4 98 467.8 111 466.5 120 466.7 121.3 471.4 122.7 473.4 125 475 127 475.3 129 474.9 131.2 473.4 133.4 469.4 133.8 465.4 135 464.8 144 464.9 150 466.2 157 466.1 158.1 466.4 159.2 468.4 159.2 473.4 160.1 478.4 159.3 485.4 159.5 490.4 159 491.4 158 491.8 154 491.8 148 492.8 145 494.7 143 495.3 136 494.3 120 495.9 114 495.6 107 493.5 102 490.1 95 487.2 93.4 485.4 91.9 482.4 90 480.8 84 480.4 79 478.9 73 479.9 61 475.7 55 472.8 53 473.1 51 474.1 49 477.2 48 477.7 41 476.2 25 474.9 10 476.2 2.6 478.4 0 478.7ZM37 496.1 41 497.2 47 497.5 53 497.1 61 498.3 75 498 76 498.8 76.6 500.4 76.4 502.4 74.8 506.4 76.7 512.4 76.3 514.4 74 515.5 62 516.7 59 516.4 56 517.2 50 517.7 46 516.6 37 517 33 515.8 29 515.5 19 516.8 10.1 514.4 8 513.3 7.2 511.4 7.1 508.4 6.2 505.4 8 497.1 17 497.1 20 496.4 26 497.4ZM208 562.4 210 561.9 214 562.9 218 562.9 222 562.1 225 562.6 228 562 229.3 562.4 232.8 565.4 235 565.8 239 564.3 243 564.8 245 563.4 247 563.3 251 561.6 258 563.6 264 562.1 270 562.6 274 563.6 277 565.4 278 565.3 280 563.1 282 562.4 289 563.4 292 564.6 297 564.7 304 562.9 312 562 318 565.4 321 565.1 325 563.9 333 564.3 337 566.5 340 565.6 343 567.3 347 567.4 353 568.9 357 571.2 361 571.9 364 573.5 366.1 575.4 366.6 577.4 365.4 582.4 151 582.4 151.5 580.4 151 579.4 148 576.7 144 578.5 143 578.4 137 576.7 134.2 574.4 130 572.6 129.2 571.4 129.1 570.4 130.2 569.4 135 567.8 139 567.4 146 564.5 167 567.2 169 567.1 172 565.9 175 567.6 180 567.7 183 566.8 186 567.2 193 564.6 198 565.7 204 565Z"/>
<path fill="#a7d0e4" d="M87.5 424.4 90 423.8 92.2 424.4 94 426.2 94 428.6 93 429.6 92 429.7 86.5 428.4 86 427.9 86 426.4ZM274.5 428.4 302 427.7 314 427.9 318 428.9 326 428.4 326.9 430.4 326 441.7 326.4 447.4 325.7 461.4 327.6 465.4 328.1 468.4 330 469.5 337 468.7 339 467.5 339.6 466.4 339.7 464.4 339 462.4 334 459.1 332.2 455.4 332.2 452.4 335 449.8 342 449.5 345 450.2 348.5 452.4 349.3 456.4 353 457.9 355 458.3 362 457.1 366 457.6 367 457.5 367.8 456.4 368.1 450.4 367.6 446.4 369 444.3 371 444.3 375 445.7 379 444.5 384 445.6 391 444.6 397 446.1 408 443.9 416 446.1 425 443 427 443.1 431 444.6 431 454.8 412 456.1 409.9 457.4 409.3 460.4 410 461.8 412 462.6 431 462.8 431 475.5 409 475.7 406.8 477.4 405.6 482.4 405 483.7 404 484.1 399 484.3 387 486.6 382 486.9 367 485.1 362 483.8 354 484.6 350 484.2 346 485.2 335 482.8 330 483.1 328.8 482.4 329.7 479.4 329.5 477.4 327 474.6 322 473 313 472.6 310 473.8 307.2 476.4 306.5 479.4 307.2 482.4 306 483 299 484.5 289 484.5 282 486 272 486.2 265 487.1 262 486.5 257 484.5 251 484.1 241 484.6 233.1 483.4 232 481.4 230.5 471.4 230.6 462.4 229.6 460.4 228.1 459.4 193 458.9 190.2 458.4 188.9 457.4 188.5 456.4 188.4 452.4 190.1 446.4 190.9 440.4 192 439.2 198 436.9 203 436.6 206 435 209.3 436.4 212 436.8 219 436.4 233 437.1 251 436.3 255 436.9 264 434 270 433.8 271 432.7 272.5 429.4ZM240.6 462.4 238.7 464.4 237.9 466.4 238.4 468.4 239.2 469.4 245 474.4 247 473.8 250 471.8 253.9 470.4 254.9 469.4 255.5 467.4 255.3 465.4 254 463.7 249 461.1ZM16 436 27 436.7 33.9 439.4 35.3 440.4 35.6 441.4 35.3 442.4 32 445.6 27 448 20 448 17 447.3 12 448 6 444.9 4.8 443.4 4.4 441.4 5 439.7 6.2 438.4ZM109.1 444.4 111 443.5 113 443.5 115 444.5 116.4 446.4 116.5 452.4 115.5 454.4 114 455.6 112 456.2 110 455.6 107.4 452.4 107.3 447.4ZM0.1 465.4 11 464.7 25 465.6 34 465.2 43 465.6 44.8 466.4 45.9 473.4 45 475.2 44 475.4 32 473.9 26 473.7 2 476.5 0 474.7ZM139 469.2 141 469.8 142.8 471.4 143.5 474.4 142.6 476.4 141 477.8 139 478.5 137 478.5 135 478 132.6 476.4 132.2 474.4 133 472.4 135 470ZM220.9 484.4 225 485 227 486.3 228.2 488.4 227.4 490.4 225 491.8 223 492.2 220 490.6 219.4 489.4 219.1 486.4 219.4 485.4ZM112 484.5 117 485.1 123 484.6 131 486.8 132.4 488.4 132.7 490.4 131 492.3 128.4 493.4 118 494.4 108 491.5 106 490.2 104.8 488.4 105 487.4ZM405 488.4 413 488.3 418 489.4 419.4 490.4 420.4 492.4 420.3 495.4 419.5 497.4 417 499.5 409 500.9 400.8 498.4 398.7 496.4 398.4 494.4 398.8 492.4 400.7 490.4ZM14 502.3 22 503.8 22.7 504.4 22.7 505.4 21 506.5 15 508.1 9 506.6 7.9 505.4 8 504.3 9 503.3ZM236.5 571.4 243 572.1 252 570.9 264 572.9 267 572.3 272 573.2 275 573 277 573.9 277.2 575.4 274 578.5 264 578.4 256 579.8 249 577.2 244 578.2 239 578.1 234 579.7 226.1 577.4 223.5 576.4 222.9 575.4 224.7 573.4 227 572 231 572.1Z"/>
<path fill="#6bacd1" d="M274.6 430.4 280 429.8 292 430.3 302 429.7 324 430.4 324.7 431.4 323.7 440.4 324.4 451.4 324 454.4 323 455.9 322 456.4 318 456.2 310 457.3 299 456.4 294 457.5 289 456.6 283 457.3 278 456.9 272 457.6 267 456 261 456.7 256 458.6 251 458.2 247 457.2 233 458.8 228 458.3 194 458.4 191 457.4 190.6 456.4 190.6 449.4 191.7 442.4 193 440.4 194 440 198 439.3 203 439.3 207 438.4 230 439.5 241 438.7 250 438.8 255 439.7 263 436 265 435.6 270 435.9 271.7 435.4 272.6 434.4 273.5 431.4ZM110.3 445.4 113 445.1 114 445.6 115.1 447.4 115 451.7 114.3 453.4 113 454.6 110.5 454.4 109 452.3 108.9 447.4ZM391 448.1 397 448.8 406 448.9 413 451.7 414.1 452.4 414.6 453.4 414.1 454.4 410 455.7 408 457.4 404 457 397 458 380 456.7 375 455.5 374.4 454.4 375 452.3 378 449.7ZM393.8 461.4 401 461.8 407 461.4 412 463.1 431 463.2 431 475.1 409 475.3 405 477.5 398 478 397.2 478.4 397.2 481.4 396 482.8 387 485.2 376 484.8 367.7 482.4 366.8 480.4 368 477.6 370 476.2 373 475.5 374 474.4 374.9 470.4 374.1 464.4 375.1 462.4 377 461.6ZM5.8 465.4 19 465.8 24.9 467.4 26.6 469.4 26.3 470.4 24 472.2 19 473.7 13 474.3 5 474.1 0 472.2 0 466.5ZM286 466 293.4 468.4 296.6 471.4 297.6 473.4 297.4 475.4 296.3 477.4 292 480.4 287 482.1 284 482.4 279 481.6 275 479.9 271.3 476.4 270.8 474.4 271.3 471.4 272.9 469.4 278 467ZM135.8 471.4 139 471 141 471.7 142 473.4 141.5 475.4 140 476.6 138 477.1 134.9 476.4 133.9 475.4 133.9 473.4Z"/>
<path fill="#3783bb" d="M295.1 433.4 303 433.2 309 435.3 312 437.2 313.2 439.4 313.9 444.4 310 450.1 308 451.1 304 451.6 300 453 295 452.9 293 451.4 290.7 448.4 288.1 442.4 284 441.7 283 440.5 284 438.4 287 435.8ZM208 441 219 441.9 224 441.3 230 443.3 234 441.9 237 441.5 252 442.2 255 443.9 261.2 453.4 258.4 455.4 256 456.2 252 456.1 247 455.2 230 456.3 223 457.7 199 457.3 195 457.1 193.2 456.4 193.6 453.4 192.2 448.4 193.7 443.4 196 442.4ZM384.6 451.4 393 450.9 403 452.1 404.2 452.4 405.2 453.4 404.7 454.4 403 455 393 455.7 384 455.1 381.8 454.4 381.5 453.4 382 452.7ZM376.4 463.4 378 462.8 406 462.7 412 463.6 431 463.7 431 474.8 409 474.9 405 476.4 399 476.5 390 477.9 389.5 478.4 390.9 480.4 391 481.4 390.5 482.4 389 483.3 387 483.5 383 482.6 376 482.9 374.7 482.4 374.1 481.4 376.1 477.4 375.6 465.4ZM3.4 466.4 8 466 14.1 466.4 23 468.3 24.5 469.4 24.1 470.4 22.3 471.4 18.5 472.4 13 473.1 5 473 0 471.3 0 467.4ZM279.6 468.4 286 467.9 291 469.4 294.6 472.4 295.1 473.4 295.1 475.4 292.1 478.4 288 480.1 284 480.4 277 478.9 273 475.4 272.9 472.4 274.8 470.4Z"/>
<path fill="#1c5c9f" d="M210 444.8 224 444.9 229 446 234 445.1 244 445 249 446.6 253 446.8 254.9 448.4 256.9 451.4 256.1 452.4 254 453 230 454.8 224 455.9 220 455.1 207 454.5 198.6 451.4 197.5 450.4 197.6 449.4 201.3 447.4ZM377 464.4 378 463.9 384 463.6 431 464.3 431 474.4 410 474.4 405 475.5 393 476 384 476.1 381 475.4 378 475.5 377.2 474.4 377.5 470.4 376.7 466.4ZM3.1 467.4 9.4 467.4 11 468 11.9 469.4 11.6 470.4 9.5 471.4 6 472.1 3 471.5 0.5 470.4 0 469 0.4 468.4Z"/>
<path fill="#053061" d="M222 448.7 232 449.3 237 450 238 451.4 237.3 452.4 236 452.9 225 454.2 218 453.1 213 453.7 210 453.2 208.9 452.4 208.9 451.4 210 450.6ZM382.1 465.4 384 464.8 417 464.9 428 465.6 431 465.3 431 473.5 409 473.5 404 474.3 400 474 393 474.6 384 474.2 382.8 473.4 381.8 467.4Z"/>
<path fill="#fcdfcf" d="M0 361.4 431 361.4 431 427.8 423 426.9 416 428.9 413 427.3 411 427 406 428.2 404 427.6 401 425.5 395 427.4 391 426.8 386 427.8 380 426.9 374 429.2 369 428.3 366 428.8 364.8 429.4 363 432.4 362 433 357 433.6 356 433 355.4 431.4 355.7 421.4 355.2 419.4 350.8 415.4 346.6 408.4 343 406.1 341 405.9 334.3 407.4 333.6 408.4 334.8 409.4 341 411.9 342.3 413.4 342.2 414.4 339.2 417.4 332 418.6 329 416.9 327.1 413.4 328 411 330 409.4 330.5 408.4 330 408.2 324 407.1 309 406.1 303 407.3 295 406.4 291 407 282 407.2 277 406.1 273.4 408.4 271.1 413.4 274.1 418.4 274 420.4 269.1 424.4 268.4 425.4 268 427.6 267 428.6 262 429.7 259.5 429.4 255.9 427.4 253 423.3 246 422.3 231 423.3 226 424.7 220 423.5 212 424.4 209 423.9 205 422.3 201 423.8 198 424.2 197 424.9 194.6 434.4 193.8 435.4 190 436.8 188 438.4 187 444.7 183 445.9 180 445.7 176 444.5 172 445.8 170 445.9 166 444.4 163 444.2 158 445 152 447.2 150 447 148 446.4 147 445.3 145.7 436.4 144 434.6 130 432.5 122 432.3 115 430.3 111 431 99 430.5 97.5 429.4 96.4 425.4 95 423.6 93 422.2 90 421.4 87 421.8 83.6 424.4 82.7 426.4 82.2 431.4 81 432.8 80 432.9 72 431.5 62 432.2 55 431.5 49 433.2 46 433.1 41 431.6 21 432.4 16 432.1 0 432.4ZM296.4 411.4 299 410.7 304 410.6 306.5 412.4 306.6 414.4 304 415.8 301 416.2 298 415.6 296 414.4 295.5 413.4 295.5 412.4ZM292 415.2 294 416 295.1 417.4 294.8 419.4 293 420.5 290 421 286.1 420.4 285 419.6 284.8 418.4 286 416.7ZM319.7 424.4 322 424.8 322.5 425.4 322.3 426.4 317.8 426.4 317.5 425.4 318 424.9ZM333.5 431.4 337 431.5 341 433.1 342.9 435.4 343.4 437.4 341 438.9 336 438.3 332 438.7 330.3 438.4 329.7 436.4 330.3 433.4 331 432.3ZM0 447.7 2.5 450.4 4 451 10 451.7 39 451.5 55 452.2 62 453.2 73 452.6 78 453 82 452.1 84.7 457.4 86 458.3 91 457.8 102 458.6 106 458.2 123 460.6 128 460 131 460.5 132.7 461.4 132.4 469.4 131.7 471.4 130 473.3 127 474.3 125 473.9 123.1 472.4 122 470.4 121 463.7 117 464.8 102 464.7 98 465.1 88 463.7 62 464.2 44 463.7 0 463.6ZM154 457 157 458.4 160 458.8 186 459.3 193 459.9 225 460 227 460.4 228.1 461.4 228.7 464.4 228.9 474.4 228.1 478.4 227 479.1 216 478.7 211 479 207 479.9 203 478.9 198 479.3 191 478.8 186 479.3 183 480.3 177 479.2 174 479.7 169 482.6 167.8 484.4 168.1 488.4 169.6 492.4 171.2 500.4 173 501.7 178 500.5 187 502 192 500.5 196 500.1 200 501.7 205 502.6 210 500.8 217 501.4 222 501.1 227 499 231 499.8 231.9 498.4 231.2 495.4 231.6 493.4 234 489.4 236 488.6 241 488.9 253 488.3 267 490.1 274 489.3 283.5 489.4 285.2 490.4 284.8 494.4 285.3 496.4 288.9 502.4 291 504 293 504.2 300 502.4 305 503.6 308 502.1 312 503.5 316 503.8 320 505 321 504.7 323 502.3 327 503.7 336 502.2 342 504.7 343 504.7 346 502.5 350 503.4 352 503.2 353 503.5 354 505.1 354.4 511.4 357.7 514.4 361 516.1 365 517 372 519.7 374 519.3 385 514.7 386.2 511.4 392 504.7 401 507.1 409 506.8 415 506.1 420 504.8 424 503.1 431 502 431 555.2 428 557.3 426 557.7 416 555.3 415 555.3 412 556.9 407 557 403 556.1 400 556.6 395 554.5 391 556.2 386 555.4 383 556.2 371 557.4 366 555.2 355 558.3 348 557.5 344 556.2 340 556.9 337 555.9 334 555.6 331 556.2 327 556.2 320 559.3 316 556.3 308 557.1 306 556.5 304 555 303 555 300 556.5 295 556.3 290 557.1 286 558.5 281 557.3 270 558 268.1 557.4 267.3 556.4 267.6 554.4 269 553.6 273 553.7 274.9 550.4 276 549.8 281 550.2 282 549.4 283 547.2 283.9 543.4 282.9 535.4 283.8 530.4 283 527 282 526.1 276 529.3 271 528.1 264 528.5 261 526.4 257 527.4 251 527.7 247 527.1 243 529.7 240 530.4 229 528.6 223 530.7 218 529.2 207 528 205.6 528.4 206.9 531.4 207.2 533.4 205.5 540.4 205.4 543.4 206.4 549.4 210.1 554.4 209.1 555.4 206 556.3 202 559.2 196 559.8 190 558.6 184 559.6 182.4 558.4 181.7 556.4 180 555.7 177 557.8 175 558.4 167 558 164 558.8 154 559.1 148 557 139 560.3 135 559.5 131 560.7 128 559 124 560.5 118 559.1 112 559.3 106 560.7 103 558.2 97 556.5 93 557.6 85 558.4 80 560.4 68 558.8 63 560.9 61.4 562.4 61.1 563.4 60.9 568.4 62.6 571.4 61.5 574.4 63.8 578.4 62.6 582.4 0 582.4 0 480.1 9 476.9 17 476 31 475.9 41 477.2 44 478.1 48 480.2 52 485.6 54 486.9 58 487.6 61 490.9 66 490.4 68 491.4 68.6 492.4 68 493.4 65 494.2 61 493.5 52 493.3 46 494.3 38 494.1 27 495.2 21 494.2 15 494.5 7 493.8 4.8 494.4 4 495.4 4.5 500.4 3.3 504.4 3.2 507.4 2.5 510.4 2.9 513.4 5 518.4 6 519.6 10 519.2 12 520 12.2 525.4 12.9 527.4 19 532.8 21 532.9 24 531.6 26 531.4 33 532.3 38 534.4 43 532.7 46 533.2 53 532.4 57 532.9 60 532.4 63 532.6 66 531.8 71 532.3 76 531.6 79 531.7 83 532.7 86 531.8 90 532.3 94 531 99 533.6 103 533 107 533.5 110.6 530.4 116 531.7 120 530.9 122.2 529.4 122.7 527.4 121.1 520.4 120 518.4 118 517.5 114 518.5 109 517.9 102 518.3 97 516.6 91 518.6 87 518.1 82.1 516.4 80.5 514.4 78.5 506.4 80 498.8 82 497.6 86 497.4 90 500.4 95 501.4 99 503.6 104 504.8 112 508.7 116 511.7 120 512.9 123 514.6 125 514.8 127 514.3 131.9 510.4 132.4 508.4 132 506.9 130 503.8 127 501.1 120 499.4 119.3 498.4 123.4 497.4 132 497.1 136 496.4 145 497.8 151 495.2 161.4 494.4 162.3 493.4 162.9 491.4 162.4 485.4 162.7 481.4 160.4 466.4 159 464.9 148 463.6 144.8 462.4 144 461.4 143.9 459.4 145 457.9ZM414 457.4 431 457 431 461.9 420 462.1 411.7 461.4 411.1 460.4 411.3 458.4ZM312.7 475.4 323 475.4 326.6 477.4 327.1 479.4 325.5 481.4 322 482.8 318 483.4 313 482.5 310.3 481.4 308.9 479.4 309.4 477.4ZM409.3 476.4 431 476.2 431 487.8 423 488.2 415 486.1 409 485.7 407.9 484.4 407.7 481.4 408 477.8ZM372 501.4 374 500.7 376 501 380.2 503.4 381.6 506.4 381.2 508.4 380 510.6 378 511.6 375 511.7 372 510.5 370 508.7 369.2 507.4 369 505.4 370 503.4ZM217 553.4 219 553.4 222 555 223.9 553.4 226 552.7 231 553.3 235 552.8 238 553.4 239.1 554.4 234 557.8 223 555.6 217 557.8 214.4 557.4 213.8 556.4 214.4 555.4ZM257.1 554.4 260 553.7 262 554 263.7 555.4 263.8 556.4 263 557.6 261 558 256.6 555.4Z"/>
<path fill="#f7b799" d="M0 361.4 431 361.4 431 379.3 427 378.8 418 380.4 412 379.8 405 382.1 400.5 380.4 393 379.3 387 379.9 381 379.2 372 379.8 366 381.6 362 380.2 360.9 380.4 359.9 381.4 360.6 383.4 362 384.5 363 384.5 366 383 368 383.8 370 383.6 376 381.6 383 382.7 388 385 393 388.9 398 390.4 401.6 387.4 404 383.2 405 383.2 405.7 386.4 404.4 389.4 405 389.9 419 392.1 423 392.1 425.4 393.4 430 397.4 431 397.5 431 411 430.3 414.4 429.2 416.4 420 419.7 405 418.5 398 420.6 394 419.1 389 418.4 384 418.6 380 419.5 370 418.9 365.6 415.4 361 413.7 355 412.8 352 410 348.6 405.4 342 403.3 337 403.7 332 402.9 323 404.2 307 403.6 301 404.3 290 404.4 285 403.4 281 404.2 277 403.6 272 405.6 267 410.4 266 412.4 265.7 413.4 266.3 414.4 271 417 272 418.4 272 419.5 268 422.4 263 423.4 261 422.4 259.9 420.4 259.5 418.4 261.4 415.4 261 414.4 260 414 258.1 414.4 256.9 416.4 255 417.6 245 418.5 244 418.4 242.9 417.4 244 415.4 244 413.4 243 412.3 240 410.7 232 409.1 227 408.8 221 408.9 217 409.9 209 409.3 208 408.4 207.1 406.4 207.5 397.4 207 395.5 201 392.6 198 392.2 193 393.7 186 393.3 183 394.3 181.9 395.4 180.6 400.4 181.3 408.4 181 412.4 182.2 416.4 184 417.6 191 417.6 195.1 419.4 194.9 421.4 192.7 426.4 192.9 428.4 192 430.8 187 433.6 185 434.1 181 432.8 177 433 174 432.6 170 433.1 166 432.2 159 433.6 155 433 150 433.7 142 431.1 138 431 135.8 430.4 135 429.4 135 428.4 137.2 423.4 136.1 416.4 134 415.1 130 414.1 126 411.7 121 413 117 412 114 412.2 105.2 416.4 102.7 418.4 102 421.4 102 423.4 103.5 427.4 102 428.4 100 428.3 98.8 427.4 96.9 423.4 95 421.9 91 420.2 85.3 419.4 80.3 411.4 79.1 408.4 80.1 396.4 78 392.1 77 391.3 75 390.9 72.8 391.4 71.7 392.4 71.4 393.4 71.8 397.4 71.2 402.4 72 404.8 74.1 407.4 74 412.4 75.4 417.4 74.7 421.4 73 423.6 72 423.9 69 423.4 65 424.2 50 423 45 424.2 41 423.7 38 424.3 28 423.9 23 425.3 16 423.7 10 424.2 6 422.9 0 424.7ZM430.9 393.4 431 397.2 430 395.4 430 394.4ZM297.9 412.4 303 412 304.4 412.4 304.9 413.4 302.8 414.4 300 414.4 297.5 413.4ZM0.3 452.4 2 452.1 12 453 28 452.4 34 453 54 453.3 63 454.9 67 454.3 74 454.4 81.3 455.4 82 456.4 82.6 461.4 82.3 462.4 81 462.8 67 462.4 62 463.2 50 462.4 24 463.4 2 462.5 0 461.7ZM413.8 458.4 419 457.6 431 457.9 431 461.4 415.4 461.4 412.3 460.4 412.2 459.4ZM154 458.9 159 460 226 460.7 227.3 461.4 228 463.4 228.2 474.4 227.3 476.4 226 477 217 476.6 211 477 173 477 168 478.5 166 478.5 165 478.1 163.8 476.4 162.1 470.4 161.9 466.4 161 464.4 159 463.4 148 461.6 146.8 460.4ZM124.7 462.4 127 461.7 129 462 131.1 464.4 131.6 467.4 131.3 470.4 130 472.4 128 473.4 125 473 122.8 470.4 122.7 465.4 123.6 463.4ZM23.4 476.4 34 477 43.8 479.4 46.6 481.4 48.4 485.4 50.6 488.4 50.5 489.4 47.5 491.4 45 492.2 39 492.2 28 493.6 21 492.8 12 492.9 4 491.6 0 489.5 0 480.7 1 480 6 478.1 10 477.2ZM431 476.7 431 486.1 422 486.7 414 484.7 410 484.9 408.9 484.4 408.4 481.4 409 477.2 411 476.6ZM311.2 477.4 314 476.4 322 476.7 325 477.8 325.5 479.4 324.5 480.4 321 481.6 314 481.3 311 480.4 310.4 478.4ZM246.2 495.4 249 495.4 256 499.7 261 497.1 267 495.6 274 495.2 279 495.7 280.2 496.4 286 503.9 288.7 506.4 289 508.4 282 512.9 275 515 273 514.8 269 512.8 264 512.7 258 511.6 253 512.8 248 515.9 243 516.1 241 515.2 236 510.6 234 507.4 233.8 505.4 234.6 502.4 237 498.9 242 496.3ZM83.7 501.4 86 501.6 110.6 510.4 112.6 512.4 112.5 514.4 111 515.4 108 515.6 98 513 91 512 88 509.7 84 508.7 81.9 507.4 81.4 506.4 81.6 504.4 82.3 502.4ZM133.9 501.4 136 500.7 137.2 501.4 140.9 510.4 143.3 519.4 142.6 521.4 141 522.8 139 522.7 137.3 520.4 133 503.4ZM339.2 518.4 348 518.1 354 521.2 358 520.2 361 528.4 360.8 531.4 360 532.5 354.2 536.4 350 537.8 346 540 342 539.6 338 539.9 337 539.5 333 535.8 328.1 533.4 326.1 526.4 327 525 332 523.5ZM43.1 541.4 46 540.6 53 542 54.6 543.4 54.2 544.4 53 545.1 48 546.6 41.6 544.4 41.1 543.4 41.5 542.4Z"/>
<path fill="#e48066" d="M0.8 361.4 431 361.4 431 376.6 427 376.2 422 377.5 412 376.7 404 377.4 395 376.5 386 377.1 377 376.8 370 377 366 377.8 360 377.6 355 378.8 354.1 379.4 354.4 380.4 360 387 363 389.7 364 389.8 367.3 387.4 374.1 384.4 378 384 384 385.2 387 386.5 389.8 389.4 390.8 392.4 390.9 395.4 390 396.9 385 399.1 381 400.1 378 401.8 368 398.7 366.6 400.4 365.2 408.4 364 409.3 362 409.9 354 407.1 351.9 403.4 349 401.7 345 400.9 337 400.7 333 399.4 323 401 308 400.4 300 401.5 290 400.6 282 401.6 278 400.7 272 400.7 269.9 401.4 267.5 405.4 265 406.8 261 406 255 407.3 249 407.3 245 405.3 234 406 231 405.2 228.4 401.4 228.5 400.4 230.9 397.4 230.5 396.4 223 396.2 222 395.4 220.7 392.4 216.2 388.4 214.2 383.4 212 381 208 381.1 203 380.3 196 380.5 194 381.4 191 384.6 186 387.6 182 388.5 177 387.6 173 385.5 166 380.1 165 380 161 382.4 156 382.8 151.7 384.4 151.1 385.4 158.5 392.4 159.5 395.4 160 399.4 158.9 406.4 157 411.1 156 412 150 414.1 148 413.5 144 410.6 141.6 407.4 140.3 402.4 139 401.6 127 404.4 121 404.1 112 402.5 108 399.1 104 397.2 102.3 395.4 102.2 394.4 103.5 390.4 105.6 387.4 110.2 383.4 103 379.3 101 379.1 96 380.7 92 380.6 88 381.7 82 382.2 79 381.7 75 379.9 68 380.2 63 379.4 57 380.7 54 380.2 47 381 44 380.6 41 379.4 34 380.7 28 381 21 377.9 17 378.9 14 378.1 10 379.6 8 379.7 5 378.3 1.1 374.4 1.2 372.4 2.2 370.4 2 369.4 0 368.8 0 362.5ZM137 382.6 136.3 383.4 136.7 384.4 140 385.7 144 388.3 146 387.7 149 385.4 148.7 384.4 144 382.9ZM363 392.2 358.6 396.4 360 396.5 364 395 364 392.7ZM168.4 398.4 172 397.8 174.3 398.4 176.2 400.4 178.6 405.4 178.9 408.4 178 411.2 175 413.9 173 414.8 170 414.8 168 413.8 165.8 411.4 164.5 408.4 164.1 406.4 164.8 403.4 166.2 400.4ZM92 399.9 99 400.2 103 401.1 111 404.2 112.7 406.4 112.7 408.4 109 411.4 99 415.9 97 416.1 87 415 84.2 413.4 82.5 411.4 81.5 408.4 81.8 406.4 85 402ZM46.7 408.4 49 408.3 51.4 410.4 51.7 412.4 49.8 414.4 32 420.6 24 422.4 21 422.1 18.9 420.4 18.8 419.4 20 417.4 24 415 29 414 34 411.8ZM18 453.8 29 453.7 40 455.8 42 456.9 42.7 458.4 41.4 460.4 38 461.8 25 462.8 8 462.1 4 460.9 1.9 459.4 1.9 457.4 4 455.7ZM417.8 458.4 426.1 458.4 429.6 459.4 429.5 460.4 424 460.9 415.5 460.4 415.5 459.4ZM162.3 461.4 165 460.8 225 461.1 226.1 461.4 227.3 463.4 227.5 473.4 227 474.8 225 475.4 198 475.6 180 474.8 169 475 166.2 473.4 164.1 470.4 163.6 465.4 162 462.4ZM125.9 463.4 128.5 463.4 130.2 465.4 130.2 470.4 128 472.3 126 472.3 123.9 470.4 124 465.6ZM13 477.4 27 477.3 35 478.4 40 480.2 42 481.4 43.5 483.4 43.5 485.4 40 489.6 33 491.4 28 491.8 21 491.3 14 491.6 6 490.4 3.4 489.4 0 486.3 0 481.3 1.1 480.4 6.1 478.4ZM410 477.4 425 476.9 431 477.4 431 485 422 485.7 417 484.7 413 483 410 483.4 409.3 480.4 409.4 478.4ZM134.8 503.4 136 503 136.3 503.4 139.3 510.4 141.7 518.4 141.6 520.4 141 521.1 140 521.4 138.8 520.4ZM242.1 509.4 244 508.9 246 509.9 246.8 511.4 246.6 513.4 245.3 514.4 244 514.5 242 513.5 241.4 511.4Z"/>
<path fill="#c94741" d="M220.9 375.4 225 374.6 227 374.7 229 375.5 231.6 378.4 234 379.2 238 379.1 242 380 246 378.9 251 380.5 261 380.7 266 379.8 282 380.1 286 378.9 290 378.5 292 376 296 376.8 302 374.9 306 376.1 309 375.6 313 376.5 316 375.9 321 377.9 329 378.5 334 378.3 338 377 342 378.8 347 379.6 353 382.4 356 385.5 358 388.4 358.6 390.4 356.5 393.4 353 395 337 395.8 332 394.4 329 395.5 324 396.4 319 395.8 312 396 307 394.8 303 396.1 298 394.4 294 394.7 289 393.8 282 396.1 275 393.8 265 393.7 257 395.2 251 393.5 227 392.6 225 392 221.1 388.4 215.6 380.4 215.5 378.4 216.1 377.4ZM116 384.4 118 383.8 125 384.1 128.9 385.4 127 386.8 120 387.1 116 386.3 115.3 385.4ZM18 454.8 28 454.7 37 456.3 39.9 457.4 40.8 458.4 40.1 459.4 37 460.9 24 462.3 9 461.4 6 460.4 3.5 458.4 4.3 457.4 6 456.7ZM190 461.6 225 462 226 462.6 226.5 464.4 226.6 472.4 226 473.8 224 474.2 185 473.9 175 471.7 170 469.9 165.8 463.4 167 462.8ZM427 477.5 431 478.8 431 483.9 421 484.6 417 483.7 415 482.4 414.7 480.4 416 479 419 477.9ZM7.6 478.4 18 477.8 29 478.9 31 479.4 33.6 481.4 35.1 483.4 35.1 484.4 34 485.8 31 487.9 25 489.4 15 490 7 489.1 4 488 1 486.1 0 484.8 0 482 2 480.3Z"/>
<path fill="#a51429" d="M14.5 456.4 26 455.7 33.1 456.4 36.7 457.4 37.7 458.4 37.4 459.4 34.9 460.4 25 461.2 18 461.4 12 460.8 9.1 460.4 7 459.4 6.8 458.4 8 457.5ZM176.5 463.4 182 463.7 185 462.9 190 462.6 223 462.8 224.8 463.4 225.3 464.4 225.4 471.4 225 472.5 223 472.9 210 473.1 185 472.5 182 470.7 176.5 465.4 175.8 464.4ZM9.8 478.4 21.4 479.4 25.3 481.4 26.3 483.4 26.2 484.4 25 486 23 487.1 14 488.6 6 487.8 2 486 0.5 484.4 0.2 483.4 1 481.4 5 479.3ZM423.4 478.4 426.2 478.4 431 480.3 431 482 421 483.1 417 482.5 416.2 481.4 416.7 480.4 418.3 479.4Z"/>
<path fill="#67001f" d="M184.3 464.4 190 463.8 222 464.1 223.2 464.4 223.6 465.4 223.5 470.4 222.2 471.4 220 471.6 189 471.1 185.2 468.4 183.9 465.4ZM7.3 479.4 11 479.2 14.3 480.4 15.8 482.4 15.6 484.4 14 485.8 9 487.2 5 486.5 2 484.9 1 483.4 1.9 481.4Z"/>
<use href="#co" transform="translate(215.5 471.9)"/>
</g>
<use href="#ol" transform="translate(215.5 471.9)" fill="none" stroke="#b5b5b5" stroke-width="1.3"/>
<g clip-path="url(#c3)">
<use href="#ol" transform="translate(686 471.9)" fill="#f7f6f6"/>
<path fill="#d7e8f1" d="M479.1 432.4 482.5 432.4 487.5 433.8 491.5 433.3 495.5 433.5 499.5 432.8 503.5 434.2 509.5 433.3 514.5 435 517.5 434.6 518.7 435.4 518.7 440.4 516.5 444.9 512.5 446.9 510.5 446.9 506.5 445.7 499.5 446.5 486.5 446.1 477.5 446.9 476.5 445.7 476.2 441.4 474.8 438.4 474.5 436.4 475.5 434.4ZM622.5 431.7 628.5 433.3 635.5 432.6 642.5 434.3 663.5 433.1 665 434.4 666.2 438.4 667.5 439.6 669.5 440.1 672.5 437.9 676.5 437.1 685.5 437.6 689.5 436.8 694.5 438.2 703.5 437.5 708.5 438.3 724.5 435.3 729.5 436.2 743.5 436.6 747.5 436 756.5 436.3 762.5 435.6 766.5 436.1 782.5 435.6 791.5 436.2 812.5 436.1 814.5 436.3 816.5 437.4 819.5 436.1 822.5 436.2 826.5 435 829.5 434.9 832.3 435.4 834 436.4 836.5 444.2 840.5 446.5 841.5 446.5 846.5 444.4 850.5 444.7 861.5 443.9 867.5 444.8 873.5 443.9 877.5 444.8 884.5 443.3 888.5 444.9 890.5 444.7 894.5 443.2 898.5 444.6 901.5 445 901.5 456.8 888.5 455.8 882.5 457.7 879.8 459.4 872.5 460.8 865.5 459.8 862.5 460.5 856.5 460.5 850.5 459.6 847.5 460.3 842.5 462.9 836.5 461.8 829.5 462.3 825.5 461.4 820.5 462 817.5 461.1 817 462.4 817.2 464.4 818.5 465.7 831.5 466.5 842.5 465.7 851.5 466.3 855.5 464.1 857.5 463.9 864.5 463.7 877.5 464.4 901.5 464 901.5 477.1 895.5 476.5 877.5 477 875.6 477.4 874.7 478.4 874.7 479.4 875.5 480.8 881.5 482.6 884.1 485.4 888.5 487.8 891.5 488.6 897.8 488.4 898.4 490.4 898.2 504.4 897.5 506.1 896.5 506.8 887.5 507.5 881.5 506.1 876.5 507.1 863.5 504 863 504.4 862 509.4 859.3 512.4 848.5 518.1 843.5 518.7 839.5 519.8 837.5 519.6 829.5 515.5 825.2 514.4 819.7 509.4 818.9 506.4 819.3 503.4 826 496.4 826.2 495.4 825.1 494.4 808.5 492.6 799.5 494.5 794.5 493.7 789.5 494.5 781.5 493.8 777.5 494.3 775.5 493.9 774.1 492.4 773.4 490.4 773.6 488.4 774.8 486.4 784.5 483.8 790.2 481.4 794.5 478 795.6 476.4 795.8 474.4 795.1 472.4 793.5 470.5 785.5 466.1 771.5 463.8 757.5 464 752.5 464.7 736.5 470.1 731.5 467.7 727.5 467 724.5 465 722.5 464.3 717.5 464.5 709.5 463.8 703.5 464.3 701.5 464.9 698.5 467.5 694.5 465.6 691.5 466.1 690 467.4 689.2 469.4 689.2 472.4 689.8 474.4 691.5 476.6 695.5 477.8 696.4 486.4 697.3 488.4 700.5 490.6 704.5 492.4 705.9 494.4 705.6 496.4 704.5 497.7 702.5 498.8 699.5 499.3 697.5 498.7 694.5 496.1 690.5 494.4 681.5 491.8 676.5 491.7 671.5 489 667.5 490.7 664.5 491.2 657.5 490.4 652.5 491.4 647.5 490.6 638.5 490.7 635.5 490 630.5 490.4 628.5 489.6 626.4 487.4 625.7 485.4 626.3 482.4 625.5 481.1 623.5 480.6 608.5 480.5 605.5 481.1 604.3 482.4 602.8 487.4 601.8 500.4 600.5 502.4 583.5 501.6 573.5 498.9 567.5 495.5 563.5 492.2 555.5 488.5 550.8 483.4 548.5 478 546.5 476.8 540.5 476 532.5 476.5 526.5 475.8 522.5 476 518.5 477.1 511.5 477.3 494.5 476.4 473.5 476.7 470.5 475.7 470.5 466 472.5 465.1 482.5 464.2 505.5 463.9 517.5 464.4 523.5 465.7 529.5 464.3 534.5 466 547.5 465.4 557.5 464.1 562.5 465 570.5 464.6 576.5 465.8 587.5 464.8 588.5 465.5 588.8 470.4 589.9 472.4 592.5 474.3 595.5 474.3 597.5 473.1 598.9 471.4 599.6 467.4 597.9 462.4 595.5 460.5 593.5 460 579.5 460.2 574.5 459.8 568.5 460.8 562.5 460.5 560.7 459.4 559.9 454.4 560.2 448.4 559.8 443.4 560.3 442.4 561.5 442.3 564.2 443.4 568.5 446.2 570.5 446.9 582.5 445.4 597.5 442.2 604.5 440.1 606.8 438.4 608.5 433.7 610.5 432.7 612.5 432.4 616.5 433.6ZM640.5 454.3 633.5 456.1 631.3 457.4 629.9 459.4 629.7 461.4 630.5 463.6 632.5 465.9 634.5 467.1 640.5 468.5 646.5 468.5 650.5 467.2 655.5 464.4 659.5 464.4 660.6 463.4 660.5 461.6 659.5 460.7 655.5 460.1 649.5 455.5 645.5 454.5ZM856.3 495.4 857.5 496.3 858.3 495.4 857.5 494.4ZM474.5 494.4 477.5 493.9 490.5 494.8 509.9 497.4 515.5 499.4 528.5 505.8 530 507.4 530.7 511.4 531.5 512.7 536.5 513.7 545.5 514.1 546.5 514.7 547.2 516.4 546.6 517.4 545.5 517.7 539.5 517.9 535.5 517.2 528.5 518.6 524.5 517.6 518.5 517.4 508.5 518.5 500.5 517.7 489.5 519.1 479.4 518.4 477.5 517.4 474.5 510.6 473.1 497.4 473.6 495.4ZM639.5 557.2 641.5 557.8 643.5 559.4 644.5 561.4 644.5 563 643.7 564.4 640.5 566.9 638.5 567.2 635.5 566.5 633.7 565.4 632.5 563.5 632.3 561.4 633.1 559.4 634.5 558.2Z"/>
<path fill="#a7d0e4" d="M776.3 437.4 784.5 437.4 790.5 438.9 795.5 437.8 811.5 438 813.2 438.4 814 439.4 814.3 441.4 813.5 447.4 814.1 452.4 813.7 459.4 815.2 465.4 815.9 466.4 817.5 467.2 850.5 467.6 852.5 467.3 855.5 465.3 857.5 465 901.5 465.2 901.5 476.2 895.5 475.6 876.5 476.1 874.5 476.6 873.2 478.4 873.4 480.4 874.5 481.9 880.5 483.5 883.5 485.9 888.5 488.8 891.5 489.5 895.9 489.4 896.4 490.4 895.7 493.4 896.5 497.4 896.5 503.6 895.5 504.8 889.5 505.7 887.5 505.4 884.5 503 877.5 503.6 871.5 503.4 868.5 502.7 865.5 501.4 863.5 499.5 862 492.4 861.4 491.4 859.5 490.5 857.5 490.4 852.5 491.7 827.5 492 821.5 490.4 812.4 490.4 807.5 488.5 804.1 490.4 800.5 491.2 795.5 490.4 790.7 491.4 787.4 491.4 780.5 489.8 776.5 491.1 775.5 490.6 775.1 489.4 775.8 487.4 782.5 485.9 789.5 483.1 795.2 478.4 796.7 475.4 796.5 473.4 795.6 471.4 791.5 467.4 785.5 464.6 777.5 463.3 756.5 462.4 750.5 463.5 747.2 465.4 737.5 468.4 735.5 467.9 732.5 465.9 728.5 465.3 725.5 463.4 723.5 462.8 702.5 463.4 697.5 465.6 693.5 464.5 665.5 465 663.5 464.4 661.9 460.4 660.5 459 655.5 458 648.5 453.7 644.5 453 640.5 453.1 633.5 454.7 630.5 456.4 628.9 458.4 628.5 461.4 629.1 465.4 627.5 469.4 627.6 475.4 626.5 477.1 622.5 478.3 615.5 478 606.6 478.4 604.5 477.4 604.2 476.4 604.2 467.4 603.6 465.4 600.5 464 596.5 459.8 585.5 457.8 579.5 458.4 572.5 457.9 567.5 458.8 563.5 458.2 562.5 457.6 562.1 456.4 562.2 453.4 563 450.4 562.6 446.4 563.5 445.5 565.5 446.3 568.5 448.9 570.5 449.3 581.5 447.1 590 444.4 605.5 441.8 610.5 439.2 612.5 439.4 615.5 440.8 620.5 439.2 621.5 439.5 623.5 441.5 625.5 441.9 633.5 439.4 639.5 440.4 652.5 439 659.5 440.2 664.5 440.3 669.5 442.1 675.5 440.3 680.5 441 690.5 440.5 696.5 441.1 702.5 440.5 707.5 441.4 711.5 440.7 722.5 440.6 724.5 440.1 727.5 438.2 731.5 437.7 756.5 438.4 762.5 437.5 767.5 438.6ZM825.4 441.4 829.5 440.5 832.2 441.4 834 445.4 837.7 449.4 837.7 451.4 836.5 453.2 833.5 455.3 830.5 455.8 826.5 455.7 823.5 454.3 822.6 452.4 821.9 446.4 823.2 443.4ZM481.3 465.4 518.5 466.3 520.2 467.4 520.6 468.4 520.2 472.4 519.7 474.4 518.6 475.4 511.5 476.1 494.5 475.5 475.5 475.6 473.5 475.1 471.3 470.4 472.2 467.4 474.2 466.4ZM582.5 476.7 583.5 476.9 593.1 481.4 597.5 485.4 598.5 487.1 598.8 490.4 594.9 493.4 592.9 498.4 591.7 499.4 581.5 499.2 576.3 497.4 573.3 494.4 571.3 487.4 571.9 485.4 576.5 479.5 579.5 478.9ZM673.5 479.8 675.5 479.9 681.5 483.6 687.5 485.8 692.5 486.2 696.5 490.3 703.5 493.6 704.2 495.4 702.5 497.1 699.5 497.2 694.5 493.8 678.5 488.5 675.5 485.7 671.2 484.4 670 483.4 670.5 481.4ZM475.8 496.4 477.5 495.8 490.5 495.8 508.5 499 523.8 505.4 527.1 507.4 527.8 509.4 527.1 510.4 524.5 511.2 514.5 511.3 508.5 512.6 499.5 510.3 490.5 511.1 481.5 510.6 478.5 509.9 476.5 508.6 475.2 504.4ZM835.1 497.4 845.5 497.2 850.6 498.4 852.5 500.4 853.1 502.4 853.4 505.4 852.8 507.4 849.5 511.7 846.5 513.3 835.5 512.9 832.5 511.9 827.4 508.4 826.8 507.4 826.8 505.4 827.9 502.4 829.4 500.4Z"/>
<path fill="#6bacd1" d="M732.5 442.4 740.5 441.9 744.5 443.8 748.3 448.4 748.3 450.4 746.5 453.7 744.5 455.6 738.5 458.5 730.5 456.1 728.9 454.4 727.5 450.8 726.5 449.6 725.5 451.6 725.4 457.4 721.5 461 714.5 462.2 702.5 462.4 697.5 463.4 691.5 462.7 669.5 463.2 666.5 462.9 664.7 461.4 661.7 453.4 662.3 449.4 661.2 445.4 662.4 443.4 663.5 442.9 669.5 443.9 674.5 443.2 679.5 443.7 691.5 443.7 701.5 443 706.5 443.8 719.5 442.9 724.5 444 726.5 447ZM775.5 442.1 779.5 443.1 781.8 444.4 784.6 447.4 785.9 450.4 786.3 453.4 784.3 457.4 782.5 459.2 775.5 461.1 766.5 460.9 764.5 460.1 759.3 455.4 758.7 449.4 760.5 446.5 764.5 443.8ZM599.6 444.4 605.5 444.9 612.5 447.2 614.2 449.4 613.8 451.4 612.5 452.4 605.5 455.2 593.5 456.7 589.5 456 587.5 455.1 582.8 450.4 583.6 448.4 587.2 446.4 592.5 445.1ZM622.5 463.4 625.5 463.1 626.7 464.4 625.5 469.4 625.7 474.4 625.2 475.4 623.5 476.2 621.5 476 618.5 474.6 616.7 472.4 616 470.4 617.5 466.8ZM480.8 466.4 494.5 467.2 497.5 468.4 498.4 469.4 498.5 470.4 497.5 471.6 495.5 472.6 487.5 474.2 476.5 473.5 474.5 472.8 472.8 471.4 472.4 469.4 473.5 467.9ZM856.4 466.4 901.5 466.4 901.5 475 896.5 474.3 873.5 475.3 871.9 476.4 871.2 480.4 870.5 481.5 864.5 482.7 861.5 484 857.5 484.5 854.8 488.4 851.5 489.9 832.5 490.6 826.5 489.6 825.2 488.4 824.2 486.4 822.5 485.4 807.5 484.6 796.5 485.2 793.5 484.6 792 483.4 797.3 476.4 797.5 473.4 795.9 469.4 796.5 468.2 803.5 468.1 820.5 469.2 838.5 468.6 850.5 469 853.5 468.6ZM485 497.4 490.5 497.1 496.8 498.4 500.7 500.4 501.4 501.4 501.2 503.4 499.5 505.6 494.5 508.5 489.5 508.4 485.5 507.2 482.5 508 480.5 507.6 478.8 506.4 477.5 504.6 477.1 503.4 477.5 501.4 480.5 499.1Z"/>
<path fill="#3783bb" d="M772.5 445.3 775.5 446.3 778.1 448.4 779.2 450.4 778.5 453.1 776.6 456.4 774 458.4 770.5 458.7 766.5 457.7 764.5 455.8 763.3 453.4 763.3 449.4 764.5 447.5 766.5 446.3ZM667.4 446.4 675.5 446.8 685.5 446.1 691.5 446.9 697.5 446.2 711.5 446.6 713.5 447.3 714.3 448.4 716.3 453.4 716.2 455.4 714.8 459.4 713.1 460.4 697.5 461.6 689.5 460.1 681.5 461.4 669.1 461.4 667.2 460.4 666.4 456.4 666 448.4 666.2 447.4ZM592 448.4 595.5 448.1 599.5 449 601.3 450.4 601.7 452.4 600.5 453.6 597.7 454.4 593.5 455 589.5 454.4 588 453.4 587.4 451.4 588.5 450.2ZM622.4 466.4 623.6 466.4 622.7 469.4 623.1 473.4 622.5 473.7 619.8 472.4 618.5 470.4 618.5 469.4 619.5 468ZM879.3 467.4 895.5 467.9 896.9 468.4 898 470.4 897.6 471.4 896.5 472.1 891.5 473.4 879.5 473.9 876.2 473.4 875.1 472.4 874.1 468.4ZM475.9 468.4 483.5 468 486.4 469.4 486.3 470.4 479.5 472 476.5 472 474.6 471.4 473.6 470.4 473.7 469.4ZM806 470.4 809.5 470.5 814.5 472 821.5 471.9 832.5 470.6 845.5 471.1 860.5 470.6 862.7 472.4 863.4 475.4 863.3 477.4 862.8 479.4 861.5 480.7 856.5 481.1 854.1 482.4 852 487.4 849.5 488.1 831.5 488.6 827.5 487.6 825.5 485.4 823.5 484.2 802.5 483.1 796.5 483.3 794.5 482.5 794.8 481.4 797.3 478.4 799 475.4 799.5 471.7Z"/>
<path fill="#1c5c9f" d="M678.4 448.4 681.5 447.7 685.5 448.1 687.2 449.4 687.3 450.4 686.5 451.4 684.5 452.3 680.5 452.4 678.5 451.7 677.4 450.4 677.5 449.4ZM693.1 452.4 696.5 452 699.5 453 701.2 455.4 701 457.4 699.5 458.8 696.5 459.7 694.5 459.6 691.9 458.4 690.4 457.4 689.6 455.4 690.7 453.4ZM817.5 474.9 833.5 475.4 840.5 477 842.1 478.4 842.7 480.4 842.4 481.4 840.5 483 830.5 485.2 827.5 484.9 823.5 482.9 817.5 482.2 805.5 481.9 803.4 481.4 802.7 480.4 803.5 478.4 805.5 476.9 808.5 475.7Z"/>
<path fill="#fcdfcf" d="M470.5 361.4 901.5 361.4 901.5 423.1 891.5 425.7 884.5 424.6 880.5 425.2 876.5 424.9 871.5 426.2 863.5 423.9 860.5 424.1 856.5 425.4 851.5 424.4 847.5 425.6 838.5 425.1 836.9 426.4 834.6 431.4 833.5 432.5 818.5 432.4 810.6 434.4 802.5 434.1 796.5 435 788.5 434 780.5 433.8 766.5 434.4 761.5 433.5 756.5 434.6 748.5 434.2 742.5 435.3 730.5 435.1 728 434.4 727.3 433.4 728.9 428.4 725.5 425.6 720.5 427.6 713.5 426.3 705.5 428.2 696.5 427.7 691.5 425.8 687.5 427.4 682.5 426 679.5 426.7 676.5 426.6 672.5 428.3 668.5 427.6 664.5 427.6 659.5 426 657.5 425.8 654.1 428.4 652.5 429 643.5 426.5 631.5 427.5 623.5 426.1 620.5 426.1 613.5 427.7 606.8 428.4 606.1 429.4 605.1 437.4 603.5 438.9 600 440.4 583.5 444.1 570.5 445.4 561.5 440.4 556.5 438.6 555 436.4 552.8 429.4 546.5 427.7 537.5 427 534.5 427.9 531.5 428 525.5 427.3 520.5 427.6 517.5 426.8 513.5 427.3 508.5 426.3 502.5 427.4 496.5 426.9 486.5 428.4 483.5 427 479.5 426.9 475.5 426.1 470.5 427.2ZM570.5 401.9 569.6 403.4 570 406.4 571.5 407.7 573.5 407.5 574.7 405.4 574.5 403.3 573.5 402ZM535 443.4 539.5 443.4 542.5 444.4 547.5 443.6 552.5 444.3 555.5 444 557.5 444.9 558.4 447.4 557.7 453.4 558.1 461.4 552.5 462.5 534.5 463.3 504.5 462.5 474.5 462.9 470.5 463.3 470.5 443.6 472.5 443.8 473 444.4 473.9 449.4 474.5 450.4 476.5 451.1 479.5 448.7 483.5 448.1 499.5 448.2 505.5 447.6 512.5 448.8 517.6 447.4 521.5 444.1 524.5 443.7 531.5 444.3ZM639.3 455.4 644.5 455.3 649 456.4 653 459.4 654.2 461.4 654.2 462.4 650.5 465.5 645.5 467 640.5 467.3 634.5 465.6 632.5 464.2 631.1 462.4 631 459.4 633.5 457.2ZM888.8 457.4 901.5 458.8 901.5 461.7 894.5 463 883.3 462.4 882.7 461.4 883.4 459.4ZM590.7 461.4 594.5 460.7 596.5 461.7 597.9 463.4 598.7 466.4 598.5 469.4 597.7 471.4 595.5 473.3 592.5 473.3 591.1 472.4 589.8 470.4 589.2 463.4ZM574.5 462.4 575.5 462.2 576.5 462.3 576.7 462.4 576.5 462.5 575.5 462.7 574.5 462.4ZM850 462.4 851.5 462.5 852.8 463.4 851.5 464.5 848.3 464.4 847.9 463.4ZM703.7 465.4 710.5 464.7 717.5 465.9 722.5 465.9 726.5 468.8 730.8 469.4 734.5 471.4 736.5 471.9 750.5 466.4 756.5 465.1 771.5 464.9 784.5 467 793.5 472.3 794.6 474.4 794.3 476.4 792.5 478.3 787.6 481.4 773.5 485.7 771.9 487.4 770.5 491.5 769.5 492.5 767.5 492.9 761.5 491.3 757.5 492.5 755.5 493.7 754.1 495.4 753.5 497.4 756.3 504.4 755.4 509.4 756.5 511.6 757.5 512.2 765.5 513.5 769.5 512.7 775.5 512.5 778.5 513 783.5 511.6 792.5 512.6 797.5 514.1 803.5 513 807.5 511.5 811.5 513.3 815.5 512.1 819.5 513.5 828.5 518.8 837.5 522.3 850.5 520.6 854.5 518 866.5 512.2 875.5 512.1 882.5 513.1 885.7 510.4 888.1 509.4 892.5 508.7 896.5 508.9 898.5 508.1 899.7 506.4 900 504.4 901 487.4 892.5 487.9 889.5 487.5 884.5 484.9 881.5 480.8 877.2 479.4 878 478.4 889.5 477.3 895.5 477.3 901.5 478.4 901.5 582.4 801.6 582.4 798.5 577.9 797.2 574.4 797.7 571.4 800.9 567.4 800.6 564.4 801.5 561.4 800.5 558.4 798.3 555.4 793.5 554.7 785.5 551.7 782.5 553.6 779.5 553.7 777.5 552.8 775.9 550.4 774.5 549.8 770.5 551.9 767.5 551.8 764.5 552.7 760.5 552.5 756.5 553.8 752.5 553.4 751.1 552.4 750.9 551.4 751.4 550.4 756.1 546.4 757.2 544.4 756.8 541.4 754.5 539.4 751.5 537.9 744.5 535.7 739.5 535.8 735.5 534.6 728.5 534.3 723.5 535 719.5 533.5 713.5 535 706.5 535 703.5 537.7 700.1 539.4 698.5 541.7 698 545.4 699.5 546.9 704.5 548.9 709.5 549.7 713.5 551.5 717.5 551.7 718.3 552.4 715.5 554 712.5 553.5 707.5 556.4 703.5 555.5 699.5 556.5 697.5 556.3 692.5 553.7 689.5 553.1 686.5 554.4 682.5 554 671.5 554.8 667.5 556.9 661.5 553.4 659.5 553.7 655.5 555.4 650.5 553.9 645.5 555.1 634.5 554.4 632.5 553.3 631.5 553.5 625.2 558.4 623.8 560.4 624.7 566.4 623.5 571.4 625.6 576.4 626.7 582.4 470.5 582.4 470.5 501.1 471.5 503.9 471.8 510.4 474.3 519.4 477.5 521 485.5 521.3 491.6 522.4 492.4 523.4 493.2 528.4 494.1 530.4 498.5 533 501.5 533.1 504.5 532.2 508.5 533.2 517.5 532.3 523.5 534 528.5 532.6 536.5 532.6 541.5 533 545.5 534.1 550.5 532.8 564.5 533.5 573.5 535.7 574.5 535.3 576.8 531.4 577.8 527.4 575.7 522.4 573.5 519.9 565.5 517.9 556.5 518.6 551.5 516.5 548.7 512.4 546.5 511.1 533.5 510.7 532.5 509.6 531.7 506.4 530.5 505.1 515.5 497.9 510.5 496.2 496.5 494.3 476.5 492.6 472.3 493.4 470.5 496.8 470.5 478.1 494.5 477.1 515.5 478.8 525.5 477.8 532.5 478.5 545.5 478.6 546.6 479.4 548.2 484.4 553.5 490.8 561 494.4 571.5 501 578.5 502.3 582.5 503.6 588.5 503.8 592.5 505.3 596.5 505.3 600.5 507.5 601.5 507.1 603.5 501.4 604.5 494.1 605.5 492.1 608.5 489.3 614.5 487.9 616.5 488.4 618.1 490.4 617 496.4 617.2 499.4 618.5 502 620.5 503.2 636.5 504.4 640.5 506.4 644.5 504.6 649.5 503.3 654.5 504.3 659.5 504.1 663.5 505.3 674.5 504.5 678.5 505.3 684.5 503.7 687.5 504.6 693.5 504.6 701.5 503 703.3 500.4 706.8 497.4 708 494.4 707.3 492.4 706.5 491.8 701.4 489.4 698.9 487.4 698.5 485.4 698.9 479.4 698.2 475.4 697.5 475 694.5 476.2 692.5 475.9 690.5 473.4 690.2 469.4 691.5 467.2 692.8 466.4 694.5 466.2 696.6 467.4 699.5 470.6 702 466.4ZM713.5 474.1 712.2 475.4 712 477.4 712.9 478.4 715.5 478.8 717.5 478.4 719.3 477.4 719.9 476.4 720 474.4 719.2 473.4 717.5 473ZM572.5 546 568.5 545.9 566.5 546.8 563.9 549.4 563.9 551.4 565.5 552.9 567.5 553.7 577.5 555.1 581.5 554.4 585.5 554.7 589.5 553.9 592.6 552.4 593.9 550.4 593.5 548.7 592.5 547.7 586.5 545.2 577.5 544.4ZM601.5 511.7 600.3 513.4 600.5 515.1 601.7 518.4 602.5 519.4 603.5 519.2 604 517.4 603.5 515 602.5 512.5ZM746.5 551.4 747.5 552.4 746.6 553.4 744.1 553.4 744.5 552.3ZM668.4 582.4 668.5 582 669.6 582.4ZM716.5 582.4 717.5 582.1 717.8 582.4 717.5 582.4 716.5 582.4Z"/>
<path fill="#f7b799" d="M470.5 361.4 901.5 361.4 901.5 372.2 895.5 372.8 890.5 371 884.5 369.9 879.5 370.9 871.5 371.4 866.5 370.5 861.5 368.9 855.5 369.5 850.5 368.6 846.5 368.8 839.5 368.1 833.5 368.4 831.5 369.2 830.6 371.4 831.5 373.9 837.5 379.6 839.5 379.9 850.5 377.7 853.5 378.1 857.1 380.4 858.2 381.4 859 385.4 860.5 387.4 862.5 389 866.5 390.4 870.2 394.4 870.9 398.4 870.6 401.4 869.5 402.6 865.5 405 864.6 408.4 863.5 409.4 859.5 409.3 853.5 413.4 846.5 413.9 841.5 416.2 837.5 415.4 833.5 416.1 828.5 413.6 823.5 413.9 821.5 415.3 819.5 414.6 813.5 414.4 807.5 415.7 803.5 414.6 801.5 414.9 800 416.4 800.2 417.4 805 420.4 805.9 424.4 802.4 427.4 800.4 432.4 798.5 433.7 796.5 434.1 780.5 430.4 777.5 430.2 772.5 431.4 764.5 429.1 757.5 423.1 754.5 416.3 753.5 415.8 748.5 414.9 744.5 416.4 738.5 416.3 727.5 414.5 724.5 416.1 722.5 416.4 720.5 415.9 717.5 414.2 711.5 414.7 703.5 412.7 701 410.4 699.8 406.4 700 402.4 698.3 393.4 700 389.4 699.5 387.1 697.5 386.4 691.5 386.6 684.5 384.4 680.5 384.2 673.5 380.8 670.5 375.6 666.7 373.4 662.5 369.9 660.5 369 653.5 367.5 649.5 370.7 645.5 370.7 644.5 371.2 642.5 374.5 636.5 378.4 626.5 379.6 623.5 380.9 618.5 380.8 617.2 381.4 618 382.4 620.5 382.8 624.5 381.5 629.5 382.3 633.5 382.1 639.5 384.2 644.5 384.5 648.5 386.2 652.5 385.8 657.5 386.5 662.5 385.4 666.5 386.7 672.5 384.4 675.2 385.4 676.1 386.4 676.8 388.4 676.3 392.4 676.9 395.4 676.1 399.4 676.5 403.4 675.7 407.4 676.8 414.4 671.5 421 669.5 421.8 650.5 419.9 646.5 421.2 641.5 421.2 638.5 422.7 636.5 422.5 634.5 421.1 633.5 421 631.5 421.9 624.5 422.8 619.5 420.9 616.1 423.4 611.9 425.4 606.5 425.3 604.5 426.1 603.3 428.4 603.2 436.4 601.5 437.9 594.5 440.7 589.5 441.1 583.5 442.7 571.5 443.5 569.5 442.9 558.4 436.4 556.5 432.7 555.6 427.4 554.3 426.4 549.2 424.4 544.6 418.4 542.6 417.4 537.5 417.5 532.5 419.1 528.5 418.4 524.5 420.4 512.5 422.7 506.5 422.5 502.5 424.4 489.5 425.2 487.5 424.7 485.3 421.4 485.5 418.4 487.5 416.4 491.7 414.4 501.5 411.2 505.5 411.3 509.5 410.4 514.5 410.9 518.5 410.3 522.5 408.3 527.5 408.3 531.5 406.3 536.5 407.2 538.5 406.8 545.5 402.2 547.4 399.4 547.8 397.4 546.8 392.4 548.4 387.4 548.4 385.4 547.4 383.4 545.5 382.6 537.5 382.2 534.5 382.5 532.2 384.4 531.4 386.4 533.5 391.8 533.1 394.4 529.5 396.9 521.5 398.6 516.5 397.8 511 394.4 510.5 393.4 510.8 391.4 514.8 386.4 514.5 385.4 512.5 384.6 500.5 386.7 495.5 385.8 489.5 388.4 481.5 387.9 476.5 390.5 472.5 389.4 470.5 389.7ZM525.5 383.7 524.5 384.4 526.9 384.4ZM567.5 381.3 568.5 381.8 570 381.4ZM571.5 390.8 567.9 394.4 565.1 400.4 565.9 405.4 565.4 410.4 567.5 413.3 569.5 414.5 576.5 414.3 578.5 413.5 579.6 412.4 580.9 406.4 580.9 403.4 579.1 395.4 577.7 392.4 573.5 390.6ZM780.5 396.2 776.5 398.4 765.5 397.6 761.5 398.6 756.6 402.4 755.9 406.4 756.2 408.4 758.5 410 762.5 410.4 767.5 413.5 772.5 412.4 780.5 413.5 784.5 412.7 790.5 414 792.3 416.4 793.5 416.7 795.1 416.4 796.2 415.4 796.5 412.4 797.2 411.4 801.5 411 808.5 408.7 810.3 407.4 810.5 405.4 809.8 403.4 806.5 398.5 805.5 397.9 796.5 397.9 790.5 395.2 787.5 394.8ZM734.5 429.9 736.5 430.1 740.6 432.4 735.5 433.7 730.3 433.4 729.8 432.4 730.5 431.4ZM505.5 450.1 511.5 450.9 519.5 450.3 524.5 451.2 538.5 450.4 550.5 453.6 553.5 455.1 554 456.4 552.5 458.9 550.1 460.4 546.5 461.3 543.5 461.1 534.5 462.3 524.5 462.1 502.5 460.4 494.5 461.1 492.6 460.4 491.6 454.4 492.5 451.3 493.5 450.8 499.5 451ZM638.8 456.4 643.5 456.2 648.2 457.4 651.5 460.4 651.7 462.4 649.3 464.4 642.5 466.5 640.1 466.4 635.5 464.9 632.5 462.5 632 460.4 633.5 458.4ZM592.3 461.4 595.5 461.6 597.3 463.4 598 465.4 598.1 468.4 597.5 470.4 596.5 472 594.5 473 592 472.4 590.1 469.4 590.2 463.4ZM705.8 466.4 713.5 466.4 716.6 468.4 716.9 470.4 716.2 471.4 710.5 474.7 707.5 474.7 705.4 473.4 703.8 470.4 704.1 467.4ZM756.4 466.4 770.5 466.2 782.5 468.1 784.5 469 788.7 472.4 789.5 473.4 789.9 475.4 787.5 479.1 785.5 480.5 780.3 482.4 771.5 483.9 764.5 484.2 749.5 482.6 745.5 482 743.5 480.6 741.2 477.4 740.4 473.4 740.7 472.4 741.9 471.4 746.5 469.5ZM692.3 467.4 693.5 466.9 695.5 467.3 697.2 469.4 697.5 471.4 697 473.4 694.5 475.4 692.5 475 690.9 472.4 691 469.4ZM725.4 474.4 728.5 474.1 730.5 475.8 731.4 477.4 731.6 481.4 730.2 485.4 728.5 486.7 725.3 487.4 724.1 490.4 722.5 491.6 715.5 491.6 713.5 490.9 712.2 488.4 712.8 486.4 715.5 484.1 718.5 482.8 719.1 480.4 722.5 476ZM479.9 478.4 494.5 477.7 507.5 478.7 512.5 480 523.5 484.9 528.5 486.3 532.5 489.8 543.5 491.4 548.5 493.9 552.5 496.7 555.5 497.2 558.5 499 561.5 499.9 570.5 504.8 572.1 506.4 572.3 507.4 571.4 512.4 570.5 513.5 568.5 513.7 550.5 510.2 539.5 506.7 535.5 504.6 528.5 502.2 515.5 496 510.5 494.6 497.5 492.6 493.5 492.8 474.5 490.8 473.5 489.9 473.1 488.4 473.2 480.4 474.5 479.2ZM887.7 478.4 894.5 478.1 897.5 478.7 899.5 479.6 901.4 481.4 901.5 483.6 900.1 485.4 897.5 486.7 892.5 487.4 888.5 486.4 884.9 484.4 883.6 482.4 884.5 479.8ZM605.5 500.4 606.5 500 607.8 501.4 611.1 506.4 611.8 508.4 612.5 514.2 614 518.4 613.2 520.4 611.5 521.4 609.5 521.2 607.5 519.7 604.1 512.4 603.2 505.4ZM630.5 506.1 631.6 506.4 632.1 507.4 630.2 509.4 625.5 511.5 621.5 510.8 619.2 508.4 619.3 507.4 620.5 506.9ZM748.1 525.4 748.9 525.4 748.5 525.8ZM807.4 569.4 815.5 568.7 819.6 569.4 820.9 570.4 822.2 572.4 822.9 575.4 822.6 577.4 821.5 578.6 816.5 580.8 812.5 579.4 808.5 580 804.5 579.4 800.5 576.6 799.5 574.5 799.7 573.4 801.5 571.7Z"/>
<path fill="#e48066" d="M708.4 364.4 714.5 364.6 719.5 365.5 727.5 364.9 740.5 366 748.5 364.5 754.5 366.4 763.5 366.1 768.5 366.5 771.5 367.4 773.5 367 775.5 365.8 791.5 365.9 795.5 367.5 800.5 366.9 806.5 368.1 810.5 367.7 815.5 368 822.5 366.5 826.6 368.4 827.3 370.4 827.3 376.4 826.5 377.9 825.5 378.3 817.5 377.5 813.5 378.2 809.5 377.7 805.5 378.3 801.5 377.8 798.5 378.5 793.5 378.4 789.5 379.5 784.5 378.4 777.5 379.4 766.5 378 761.5 378.3 757.5 377.9 737.5 379.6 733.5 379.4 722.5 380.2 711.5 379.8 708.5 380.5 703.7 380.4 698.5 383.2 693.5 383.6 690.5 383.3 676.5 379.4 674.2 377.4 672.9 373.4 672.9 368.4 674 366.4 675.5 365.6 679.5 366.3 684.5 366.3 689.5 365.4ZM552.5 370.5 555.5 371.2 559.5 372.8 560.6 374.4 560.5 375.4 558.5 377.2 556.5 377.7 552.5 377.4 544.5 378.4 542.5 377.8 540.5 375.4 541 373.4 542.6 372.4ZM758 415.4 759.5 414.5 760.5 414.6 781.5 419.7 787.5 423 794.5 423.8 798.9 427.4 799.7 429.4 799.5 430.9 798.2 432.4 795.5 432.9 784.5 429.5 779.5 427.2 771.5 426.8 766.5 423.9 761.5 422.6 758.5 420.9 757.1 418.4ZM536.5 452.1 541.5 453 544.3 454.4 545.2 456.4 544.5 457.5 541.2 459.4 533.5 461.4 522.7 460.4 519.5 459.3 517.7 457.4 517.7 455.4 519.5 453.5ZM640.2 457.4 643.5 457.5 646.3 459.4 647.2 461.4 646.2 463.4 642.6 465.4 640.5 465.4 635.6 463.4 634.4 462.4 634 461.4 634.5 459.9ZM591.6 462.4 594.5 461.7 595.9 462.4 597.2 464.4 597.6 467.4 597.3 469.4 596.2 471.4 594.5 472.4 592.5 472 590.7 469.4 590.5 464.4ZM692.5 468.4 694.5 467.9 696 469.4 696.2 472.4 694.5 474.5 693.3 474.4 691.9 472.4 691.8 470.4ZM756.4 468.4 762.5 467.6 769.5 467.9 781.5 471.1 783.4 472.4 784 473.4 784.1 476.4 782.5 478.3 778.5 480.1 774.5 480.4 771.5 481.7 766.5 482 750.5 479.9 746.1 477.4 745.3 474.4 746.5 472.7 750.5 471.5 753.5 469.4ZM492.8 478.4 507.5 480.2 513.4 482.4 514.6 484.4 513.5 486 511.5 487.1 505.5 489.2 500.5 489.9 487.5 489.6 481.5 487.6 477.5 487.2 475.4 485.4 475.1 483.4 475.6 482.4 479.5 479.8 485.5 478.8ZM889.4 479.4 893.5 478.9 896.8 479.4 900 481.4 900.4 483.4 898.9 485.4 896.5 486.4 890.9 486.4 885.7 483.4 885.1 482.4 885.4 481.4 886.5 480.5ZM545.4 499.4 549.5 499.5 554.5 502.4 556 504.4 556 507.4 553.5 508.6 550.5 508.7 544 506.4 541.5 504.9 540.3 503.4 540.5 501.2 541.5 500.4ZM605.5 504.4 606.5 503.7 609.5 506 610.9 508.4 611.9 517.4 611.9 518.4 611 519.4 609.5 519.2 608.5 518.4 605.4 514.4 604.4 508.4 604.5 506.3Z"/>
<path fill="#c94741" d="M711.5 367.2 718.5 367.9 727.5 367.7 739.5 368.9 745.5 368.5 752.5 371.4 753.6 372.4 753.7 373.4 752.5 374.4 746.5 375 742.5 376.4 738.5 377 733.5 376.7 722.5 377.4 719.5 376.8 711.5 376.4 707.5 377.5 693.5 378 685.5 377.7 681.5 375.4 677.5 375.4 676.5 374.9 675.6 373.4 676.5 371.3 681.5 369.3 689.5 368ZM770.2 420.4 772.5 419.7 778.2 420.4 780.3 421.4 780.7 423.4 779.5 424.7 777.5 425.5 774.5 426 771.5 425.5 769.6 424.4 769.1 423.4 769.3 421.4ZM593 462.4 594.5 462.3 595.5 462.9 596.8 465.4 596.5 469.4 594.5 471.5 592.5 471 591.1 468.4 591.1 464.4 591.5 463.3ZM760.2 469.4 768.5 469.5 771.4 470.4 774.6 472.4 775.7 474.4 775.5 475.4 772.5 477.7 769.5 479.1 762.5 479.5 758 478.4 753 475.4 752.6 473.4 754.1 471.4 756.5 470.2ZM482.4 480.4 494.5 479.6 500.4 481.4 501.3 482.4 501.4 483.4 500.5 484.5 498.5 485.6 488.5 486.9 479.5 484.6 478.5 483.9 478.3 482.4 479.4 481.4ZM891.3 480.4 893.5 479.9 896.7 480.4 898.5 481.4 899.1 483.4 897.3 485.4 894.5 485.9 891.5 485.4 890.5 484.4 890 482.4 890.2 481.4ZM607 506.4 608.5 506.4 609.5 507.3 610.5 510.4 610.1 514.4 609.5 515.8 608.5 516.2 606.5 514.9 605.5 512.3 605.5 508.7Z"/>
<path fill="#a51429" d="M592.5 463.4 594.6 463.4 595.8 465.4 595.5 467.9 593.5 469.3 592.5 469 591.5 467.2 591.5 465.2Z"/>
<use href="#co" transform="translate(686 471.9)"/>
</g>
<use href="#ol" transform="translate(686 471.9)" fill="none" stroke="#b5b5b5" stroke-width="1.3"/>
<path fill="#053061" d="M177.8 641.3 L150.6 652.8 L177.8 664.2 Z"/>
<rect x="177.8" y="641.3" width="49.9" height="22.9" fill="#1c5c9f"/>
<rect x="227.4" y="641.3" width="49.9" height="22.9" fill="#3783bb"/>
<rect x="277" y="641.3" width="49.9" height="22.9" fill="#6bacd1"/>
<rect x="326.7" y="641.3" width="49.9" height="22.9" fill="#a7d0e4"/>
<rect x="376.3" y="641.3" width="49.9" height="22.9" fill="#d7e8f1"/>
<rect x="425.9" y="641.3" width="49.9" height="22.9" fill="#f7f6f6"/>
<rect x="475.5" y="641.3" width="49.9" height="22.9" fill="#fcdfcf"/>
<rect x="525.1" y="641.3" width="49.9" height="22.9" fill="#f7b799"/>
<rect x="574.7" y="641.3" width="49.9" height="22.9" fill="#e48066"/>
<rect x="624.4" y="641.3" width="49.9" height="22.9" fill="#c94741"/>
<rect x="674" y="641.3" width="49.9" height="22.9" fill="#a51429"/>
<path fill="#67001f" d="M723.6 641.3 L750.3 652.8 L723.6 664.2 Z"/>
<path fill="none" stroke="#ccc" stroke-width="0.8" d="M177.8 641.3 L150.6 652.8 L177.8 664.2 L723.6 664.2 L750.3 652.8 L723.6 641.3 Z"/>
<rect x="177.3" y="665" width="1" height="4.5" fill="#222"/>
<rect x="226.9" y="665" width="1" height="4.5" fill="#222"/>
<rect x="276.5" y="665" width="1" height="4.5" fill="#222"/>
<rect x="326.2" y="665" width="1" height="4.5" fill="#222"/>
<rect x="375.8" y="665" width="1" height="4.5" fill="#222"/>
<rect x="425.4" y="665" width="1" height="4.5" fill="#222"/>
<rect x="475" y="665" width="1" height="4.5" fill="#222"/>
<rect x="524.6" y="665" width="1" height="4.5" fill="#222"/>
<rect x="574.2" y="665" width="1" height="4.5" fill="#222"/>
<rect x="623.9" y="665" width="1" height="4.5" fill="#222"/>
<rect x="673.5" y="665" width="1" height="4.5" fill="#222"/>
<rect x="723.1" y="665" width="1" height="4.5" fill="#222"/>
<text x="317" y="703.3" font-size="12.2" fill="#222" textLength="266.5" lengthAdjust="spacingAndGlyphs">Top net long-wave radiation flux [W m**-2]</text>
<text x="155.1" y="684.9" font-size="13.3" fill="#222" textLength="44.7" lengthAdjust="spacingAndGlyphs">−30.00</text>
<text x="205.3" y="684.9" font-size="13.3" fill="#222" textLength="43.6" lengthAdjust="spacingAndGlyphs">−24.55</text>
<text x="255.3" y="684.9" font-size="13.3" fill="#222" textLength="43.6" lengthAdjust="spacingAndGlyphs">−19.09</text>
<text x="304.5" y="684.9" font-size="13.3" fill="#222" textLength="43.6" lengthAdjust="spacingAndGlyphs">−13.64</text>
<text x="358.5" y="684.9" font-size="13.3" fill="#222" textLength="35.7" lengthAdjust="spacingAndGlyphs">−8.18</text>
<text x="407.6" y="684.9" font-size="13.3" fill="#222" textLength="35.6" lengthAdjust="spacingAndGlyphs">−2.73</text>
<text x="461.9" y="684.9" font-size="13.3" fill="#222" textLength="27.2" lengthAdjust="spacingAndGlyphs">2.73</text>
<text x="511.1" y="684.9" font-size="13.3" fill="#222" textLength="27.1" lengthAdjust="spacingAndGlyphs">8.18</text>
<text x="556.9" y="684.9" font-size="13.3" fill="#222" textLength="35.6" lengthAdjust="spacingAndGlyphs">13.64</text>
<text x="606" y="684.9" font-size="13.3" fill="#222" textLength="35.7" lengthAdjust="spacingAndGlyphs">19.09</text>
<text x="656.1" y="684.9" font-size="13.3" fill="#222" textLength="35.6" lengthAdjust="spacingAndGlyphs">24.55</text>
<text x="706.2" y="684.9" font-size="13.3" fill="#222" textLength="34.7" lengthAdjust="spacingAndGlyphs">30.00</text>
</svg></body></html>
